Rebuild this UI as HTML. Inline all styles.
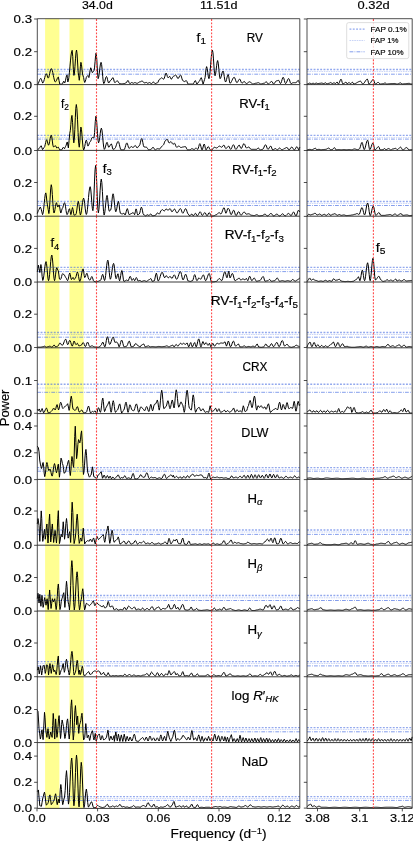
<!DOCTYPE html><html><head><meta charset="utf-8"><style>html,body{margin:0;padding:0;background:#fff;overflow:hidden;}svg{display:block;will-change:transform;}text{font-family:"Liberation Sans", sans-serif;fill:#000;stroke:#000;stroke-width:0.16px;}</style></head><body>
<svg width="413" height="841" viewBox="0 0 413 841">
<rect x="0" y="0" width="413" height="841" fill="#fff"/>
<rect x="45.1" y="18.7" width="14.30" height="789.70" fill="#ffff92"/>
<rect x="69.5" y="18.7" width="14.10" height="789.70" fill="#ffff92"/>
<line x1="37.3" x2="299.8" y1="69.50" y2="69.50" stroke="#4a6fe3" stroke-width="1.35" stroke-dasharray="1.9 1.4" opacity="0.6"/>
<line x1="37.3" x2="299.8" y1="71.60" y2="71.60" stroke="#4a6fe3" stroke-width="0.5" stroke-dasharray="1.6 0.8" opacity="0.6"/>
<line x1="37.3" x2="299.8" y1="74.20" y2="74.20" stroke="#4a6fe3" stroke-width="0.9" stroke-dasharray="3.8 1.2 0.8 1.2" opacity="0.75"/>
<line x1="307.0" x2="412.2" y1="69.50" y2="69.50" stroke="#4a6fe3" stroke-width="1.35" stroke-dasharray="1.9 1.4" opacity="0.6"/>
<line x1="307.0" x2="412.2" y1="71.60" y2="71.60" stroke="#4a6fe3" stroke-width="0.5" stroke-dasharray="1.6 0.8" opacity="0.6"/>
<line x1="307.0" x2="412.2" y1="74.20" y2="74.20" stroke="#4a6fe3" stroke-width="0.9" stroke-dasharray="3.8 1.2 0.8 1.2" opacity="0.75"/>
<line x1="37.3" x2="299.8" y1="135.30" y2="135.30" stroke="#4a6fe3" stroke-width="1.35" stroke-dasharray="1.9 1.4" opacity="0.6"/>
<line x1="37.3" x2="299.8" y1="137.30" y2="137.30" stroke="#4a6fe3" stroke-width="0.5" stroke-dasharray="1.6 0.8" opacity="0.6"/>
<line x1="37.3" x2="299.8" y1="139.10" y2="139.10" stroke="#4a6fe3" stroke-width="0.9" stroke-dasharray="3.8 1.2 0.8 1.2" opacity="0.75"/>
<line x1="307.0" x2="412.2" y1="135.30" y2="135.30" stroke="#4a6fe3" stroke-width="1.35" stroke-dasharray="1.9 1.4" opacity="0.6"/>
<line x1="307.0" x2="412.2" y1="137.30" y2="137.30" stroke="#4a6fe3" stroke-width="0.5" stroke-dasharray="1.6 0.8" opacity="0.6"/>
<line x1="307.0" x2="412.2" y1="139.10" y2="139.10" stroke="#4a6fe3" stroke-width="0.9" stroke-dasharray="3.8 1.2 0.8 1.2" opacity="0.75"/>
<line x1="37.3" x2="299.8" y1="201.50" y2="201.50" stroke="#4a6fe3" stroke-width="1.35" stroke-dasharray="1.9 1.4" opacity="0.6"/>
<line x1="37.3" x2="299.8" y1="203.40" y2="203.40" stroke="#4a6fe3" stroke-width="0.5" stroke-dasharray="1.6 0.8" opacity="0.6"/>
<line x1="37.3" x2="299.8" y1="205.50" y2="205.50" stroke="#4a6fe3" stroke-width="0.9" stroke-dasharray="3.8 1.2 0.8 1.2" opacity="0.75"/>
<line x1="307.0" x2="412.2" y1="201.50" y2="201.50" stroke="#4a6fe3" stroke-width="1.35" stroke-dasharray="1.9 1.4" opacity="0.6"/>
<line x1="307.0" x2="412.2" y1="203.40" y2="203.40" stroke="#4a6fe3" stroke-width="0.5" stroke-dasharray="1.6 0.8" opacity="0.6"/>
<line x1="307.0" x2="412.2" y1="205.50" y2="205.50" stroke="#4a6fe3" stroke-width="0.9" stroke-dasharray="3.8 1.2 0.8 1.2" opacity="0.75"/>
<line x1="37.3" x2="299.8" y1="267.30" y2="267.30" stroke="#4a6fe3" stroke-width="1.35" stroke-dasharray="1.9 1.4" opacity="0.6"/>
<line x1="37.3" x2="299.8" y1="269.40" y2="269.40" stroke="#4a6fe3" stroke-width="0.5" stroke-dasharray="1.6 0.8" opacity="0.6"/>
<line x1="37.3" x2="299.8" y1="271.60" y2="271.60" stroke="#4a6fe3" stroke-width="0.9" stroke-dasharray="3.8 1.2 0.8 1.2" opacity="0.75"/>
<line x1="307.0" x2="412.2" y1="267.30" y2="267.30" stroke="#4a6fe3" stroke-width="1.35" stroke-dasharray="1.9 1.4" opacity="0.6"/>
<line x1="307.0" x2="412.2" y1="269.40" y2="269.40" stroke="#4a6fe3" stroke-width="0.5" stroke-dasharray="1.6 0.8" opacity="0.6"/>
<line x1="307.0" x2="412.2" y1="271.60" y2="271.60" stroke="#4a6fe3" stroke-width="0.9" stroke-dasharray="3.8 1.2 0.8 1.2" opacity="0.75"/>
<line x1="37.3" x2="299.8" y1="332.50" y2="332.50" stroke="#4a6fe3" stroke-width="1.35" stroke-dasharray="1.9 1.4" opacity="0.6"/>
<line x1="37.3" x2="299.8" y1="334.50" y2="334.50" stroke="#4a6fe3" stroke-width="0.5" stroke-dasharray="1.6 0.8" opacity="0.6"/>
<line x1="37.3" x2="299.8" y1="337.20" y2="337.20" stroke="#4a6fe3" stroke-width="0.9" stroke-dasharray="3.8 1.2 0.8 1.2" opacity="0.75"/>
<line x1="307.0" x2="412.2" y1="332.50" y2="332.50" stroke="#4a6fe3" stroke-width="1.35" stroke-dasharray="1.9 1.4" opacity="0.6"/>
<line x1="307.0" x2="412.2" y1="334.50" y2="334.50" stroke="#4a6fe3" stroke-width="0.5" stroke-dasharray="1.6 0.8" opacity="0.6"/>
<line x1="307.0" x2="412.2" y1="337.20" y2="337.20" stroke="#4a6fe3" stroke-width="0.9" stroke-dasharray="3.8 1.2 0.8 1.2" opacity="0.75"/>
<line x1="37.3" x2="299.8" y1="384.20" y2="384.20" stroke="#4a6fe3" stroke-width="1.35" stroke-dasharray="1.9 1.4" opacity="0.6"/>
<line x1="37.3" x2="299.8" y1="388.00" y2="388.00" stroke="#4a6fe3" stroke-width="0.5" stroke-dasharray="1.6 0.8" opacity="0.6"/>
<line x1="37.3" x2="299.8" y1="392.30" y2="392.30" stroke="#4a6fe3" stroke-width="0.9" stroke-dasharray="3.8 1.2 0.8 1.2" opacity="0.75"/>
<line x1="307.0" x2="412.2" y1="384.20" y2="384.20" stroke="#4a6fe3" stroke-width="1.35" stroke-dasharray="1.9 1.4" opacity="0.6"/>
<line x1="307.0" x2="412.2" y1="388.00" y2="388.00" stroke="#4a6fe3" stroke-width="0.5" stroke-dasharray="1.6 0.8" opacity="0.6"/>
<line x1="307.0" x2="412.2" y1="392.30" y2="392.30" stroke="#4a6fe3" stroke-width="0.9" stroke-dasharray="3.8 1.2 0.8 1.2" opacity="0.75"/>
<line x1="37.3" x2="299.8" y1="467.60" y2="467.60" stroke="#4a6fe3" stroke-width="1.35" stroke-dasharray="1.9 1.4" opacity="0.6"/>
<line x1="37.3" x2="299.8" y1="469.40" y2="469.40" stroke="#4a6fe3" stroke-width="0.5" stroke-dasharray="1.6 0.8" opacity="0.6"/>
<line x1="37.3" x2="299.8" y1="471.20" y2="471.20" stroke="#4a6fe3" stroke-width="0.9" stroke-dasharray="3.8 1.2 0.8 1.2" opacity="0.75"/>
<line x1="307.0" x2="412.2" y1="467.60" y2="467.60" stroke="#4a6fe3" stroke-width="1.35" stroke-dasharray="1.9 1.4" opacity="0.6"/>
<line x1="307.0" x2="412.2" y1="469.40" y2="469.40" stroke="#4a6fe3" stroke-width="0.5" stroke-dasharray="1.6 0.8" opacity="0.6"/>
<line x1="307.0" x2="412.2" y1="471.20" y2="471.20" stroke="#4a6fe3" stroke-width="0.9" stroke-dasharray="3.8 1.2 0.8 1.2" opacity="0.75"/>
<line x1="37.3" x2="299.8" y1="530.00" y2="530.00" stroke="#4a6fe3" stroke-width="1.35" stroke-dasharray="1.9 1.4" opacity="0.6"/>
<line x1="37.3" x2="299.8" y1="532.00" y2="532.00" stroke="#4a6fe3" stroke-width="0.5" stroke-dasharray="1.6 0.8" opacity="0.6"/>
<line x1="37.3" x2="299.8" y1="534.40" y2="534.40" stroke="#4a6fe3" stroke-width="0.9" stroke-dasharray="3.8 1.2 0.8 1.2" opacity="0.75"/>
<line x1="307.0" x2="412.2" y1="530.00" y2="530.00" stroke="#4a6fe3" stroke-width="1.35" stroke-dasharray="1.9 1.4" opacity="0.6"/>
<line x1="307.0" x2="412.2" y1="532.00" y2="532.00" stroke="#4a6fe3" stroke-width="0.5" stroke-dasharray="1.6 0.8" opacity="0.6"/>
<line x1="307.0" x2="412.2" y1="534.40" y2="534.40" stroke="#4a6fe3" stroke-width="0.9" stroke-dasharray="3.8 1.2 0.8 1.2" opacity="0.75"/>
<line x1="37.3" x2="299.8" y1="595.50" y2="595.50" stroke="#4a6fe3" stroke-width="1.35" stroke-dasharray="1.9 1.4" opacity="0.6"/>
<line x1="37.3" x2="299.8" y1="597.80" y2="597.80" stroke="#4a6fe3" stroke-width="0.5" stroke-dasharray="1.6 0.8" opacity="0.6"/>
<line x1="37.3" x2="299.8" y1="600.50" y2="600.50" stroke="#4a6fe3" stroke-width="0.9" stroke-dasharray="3.8 1.2 0.8 1.2" opacity="0.75"/>
<line x1="307.0" x2="412.2" y1="595.50" y2="595.50" stroke="#4a6fe3" stroke-width="1.35" stroke-dasharray="1.9 1.4" opacity="0.6"/>
<line x1="307.0" x2="412.2" y1="597.80" y2="597.80" stroke="#4a6fe3" stroke-width="0.5" stroke-dasharray="1.6 0.8" opacity="0.6"/>
<line x1="307.0" x2="412.2" y1="600.50" y2="600.50" stroke="#4a6fe3" stroke-width="0.9" stroke-dasharray="3.8 1.2 0.8 1.2" opacity="0.75"/>
<line x1="37.3" x2="299.8" y1="661.60" y2="661.60" stroke="#4a6fe3" stroke-width="1.35" stroke-dasharray="1.9 1.4" opacity="0.6"/>
<line x1="37.3" x2="299.8" y1="663.60" y2="663.60" stroke="#4a6fe3" stroke-width="0.5" stroke-dasharray="1.6 0.8" opacity="0.6"/>
<line x1="37.3" x2="299.8" y1="665.90" y2="665.90" stroke="#4a6fe3" stroke-width="0.9" stroke-dasharray="3.8 1.2 0.8 1.2" opacity="0.75"/>
<line x1="307.0" x2="412.2" y1="661.60" y2="661.60" stroke="#4a6fe3" stroke-width="1.35" stroke-dasharray="1.9 1.4" opacity="0.6"/>
<line x1="307.0" x2="412.2" y1="663.60" y2="663.60" stroke="#4a6fe3" stroke-width="0.5" stroke-dasharray="1.6 0.8" opacity="0.6"/>
<line x1="307.0" x2="412.2" y1="665.90" y2="665.90" stroke="#4a6fe3" stroke-width="0.9" stroke-dasharray="3.8 1.2 0.8 1.2" opacity="0.75"/>
<line x1="37.3" x2="299.8" y1="727.60" y2="727.60" stroke="#4a6fe3" stroke-width="1.35" stroke-dasharray="1.9 1.4" opacity="0.6"/>
<line x1="37.3" x2="299.8" y1="729.40" y2="729.40" stroke="#4a6fe3" stroke-width="0.5" stroke-dasharray="1.6 0.8" opacity="0.6"/>
<line x1="37.3" x2="299.8" y1="731.80" y2="731.80" stroke="#4a6fe3" stroke-width="0.9" stroke-dasharray="3.8 1.2 0.8 1.2" opacity="0.75"/>
<line x1="307.0" x2="412.2" y1="727.60" y2="727.60" stroke="#4a6fe3" stroke-width="1.35" stroke-dasharray="1.9 1.4" opacity="0.6"/>
<line x1="307.0" x2="412.2" y1="729.40" y2="729.40" stroke="#4a6fe3" stroke-width="0.5" stroke-dasharray="1.6 0.8" opacity="0.6"/>
<line x1="307.0" x2="412.2" y1="731.80" y2="731.80" stroke="#4a6fe3" stroke-width="0.9" stroke-dasharray="3.8 1.2 0.8 1.2" opacity="0.75"/>
<line x1="37.3" x2="299.8" y1="796.60" y2="796.60" stroke="#4a6fe3" stroke-width="1.35" stroke-dasharray="1.9 1.4" opacity="0.6"/>
<line x1="37.3" x2="299.8" y1="798.60" y2="798.60" stroke="#4a6fe3" stroke-width="0.5" stroke-dasharray="1.6 0.8" opacity="0.6"/>
<line x1="37.3" x2="299.8" y1="800.40" y2="800.40" stroke="#4a6fe3" stroke-width="0.9" stroke-dasharray="3.8 1.2 0.8 1.2" opacity="0.75"/>
<line x1="307.0" x2="412.2" y1="796.60" y2="796.60" stroke="#4a6fe3" stroke-width="1.35" stroke-dasharray="1.9 1.4" opacity="0.6"/>
<line x1="307.0" x2="412.2" y1="798.60" y2="798.60" stroke="#4a6fe3" stroke-width="0.5" stroke-dasharray="1.6 0.8" opacity="0.6"/>
<line x1="307.0" x2="412.2" y1="800.40" y2="800.40" stroke="#4a6fe3" stroke-width="0.9" stroke-dasharray="3.8 1.2 0.8 1.2" opacity="0.75"/>
<path d="M37.30,84.45 L37.81,84.15 L38.33,83.31 L38.84,82.08 L39.36,80.72 L39.87,79.50 L40.39,78.65 L40.90,78.35 L41.52,79.52 L42.14,81.87 L42.76,83.04 L43.27,82.58 L43.78,81.29 L44.30,79.44 L44.81,77.38 L45.32,75.52 L45.84,74.23 L46.35,73.78 L46.97,74.87 L47.59,77.05 L48.20,78.13 L48.71,77.49 L49.22,75.74 L49.73,73.34 L50.24,70.94 L50.75,69.19 L51.25,68.55 L51.77,69.06 L52.29,70.51 L52.81,72.68 L53.32,75.25 L53.84,77.81 L54.36,79.99 L54.88,81.44 L55.39,81.95 L55.98,81.48 L56.57,80.25 L57.16,78.74 L57.75,77.51 L58.34,77.05 L59.04,80.59 L59.75,84.13 L60.35,84.13 L60.95,84.13 L61.55,84.13 L62.15,84.13 L62.69,83.39 L63.24,81.92 L63.78,81.19 L64.17,82.11 L64.55,83.04 L65.05,82.26 L65.55,80.21 L66.05,77.69 L66.55,75.65 L67.05,74.87 L67.43,78.41 L67.82,81.95 L68.36,80.75 L68.90,77.32 L69.45,72.20 L69.99,66.15 L70.54,60.10 L71.08,54.98 L71.63,51.55 L72.17,50.35 L72.75,56.62 L73.34,69.15 L73.92,75.41 L74.44,72.99 L74.96,66.64 L75.49,58.79 L76.01,52.45 L76.53,50.02 L77.08,53.82 L77.62,62.99 L78.17,72.16 L78.71,75.96 L78.99,78.13 L79.27,80.31 L79.81,75.82 L80.36,66.83 L80.90,62.34 L81.45,64.33 L81.99,69.15 L82.54,73.96 L83.08,75.96 L83.63,77.59 L84.17,80.86 L84.72,82.49 L85.26,81.62 L85.81,79.50 L86.35,77.38 L86.90,76.50 L87.44,75.96 L87.99,75.41 L88.42,76.50 L88.86,77.59 L89.47,75.14 L90.09,70.24 L90.71,67.78 L91.25,69.01 L91.80,71.46 L92.34,72.69 L92.89,72.14 L93.43,71.05 L93.98,70.51 L94.52,67.92 L95.07,61.68 L95.61,55.44 L96.16,52.86 L96.81,59.31 L97.46,72.22 L98.12,78.68 L98.71,77.12 L99.29,73.03 L99.88,67.98 L100.47,63.90 L101.06,62.34 L101.60,64.36 L102.15,69.68 L102.69,76.24 L103.24,81.55 L103.78,83.58 L104.33,82.91 L104.87,81.14 L105.42,78.95 L105.96,77.18 L106.51,76.50 L107.05,77.46 L107.60,79.77 L108.14,82.08 L108.69,83.04 L109.34,82.36 L109.99,80.99 L110.65,80.31 L111.25,79.91 L111.85,78.95 L112.45,77.99 L113.05,77.59 L113.59,78.82 L114.13,81.27 L114.68,82.49 L115.22,82.34 L115.77,81.93 L116.31,81.42 L116.86,81.01 L117.40,80.86 L117.95,81.26 L118.49,82.22 L119.04,83.18 L119.58,83.58 L120.14,83.63 L120.70,83.74 L121.25,83.85 L121.81,83.89 L122.36,83.85 L122.90,83.75 L123.45,83.65 L123.99,83.60 L124.54,83.50 L125.08,83.24 L125.63,82.98 L126.17,82.88 L126.75,82.26 L127.33,81.03 L127.91,80.41 L128.54,81.21 L129.17,82.81 L129.80,83.60 L130.35,83.43 L130.89,83.02 L131.44,82.61 L131.98,82.44 L132.56,82.88 L133.14,83.31 L133.72,83.13 L134.31,82.77 L134.89,82.59 L135.43,82.69 L135.98,82.95 L136.52,83.21 L137.07,83.31 L137.65,83.17 L138.23,82.81 L138.81,82.36 L139.39,82.00 L139.97,81.86 L140.52,81.73 L141.06,81.42 L141.61,81.12 L142.15,80.99 L142.70,81.27 L143.24,81.93 L143.79,82.60 L144.33,82.88 L144.88,82.81 L145.42,82.66 L145.97,82.51 L146.51,82.44 L147.09,82.88 L147.67,83.31 L148.25,83.13 L148.83,82.77 L149.42,82.59 L149.96,82.74 L150.51,83.10 L151.05,83.46 L151.59,83.60 L152.22,83.17 L152.85,82.30 L153.48,81.86 L154.21,82.73 L154.94,83.60 L155.55,83.50 L156.17,83.24 L156.79,82.98 L157.41,82.88 L157.95,82.35 L158.50,81.06 L159.04,79.78 L159.59,79.25 L160.13,79.03 L160.68,78.52 L161.22,78.01 L161.76,77.79 L162.39,78.16 L163.02,78.88 L163.65,79.25 L164.27,78.35 L164.89,76.19 L165.51,74.04 L166.12,73.14 L166.75,74.31 L167.38,76.63 L168.01,77.79 L168.59,77.43 L169.17,76.70 L169.76,76.34 L170.48,77.79 L171.21,79.25 L171.75,78.82 L172.30,77.79 L172.84,76.77 L173.39,76.34 L173.99,76.15 L174.60,75.70 L175.21,75.24 L175.81,75.06 L176.36,75.59 L176.90,76.87 L177.45,78.16 L177.99,78.69 L178.61,78.16 L179.23,76.87 L179.84,75.59 L180.46,75.06 L180.98,75.61 L181.51,77.06 L182.03,78.86 L182.55,80.31 L183.08,80.87 L183.80,81.23 L184.53,81.59 L185.11,81.34 L185.69,80.83 L186.27,80.58 L186.90,81.45 L187.53,83.19 L188.16,84.06 L188.71,84.06 L189.25,84.06 L189.80,84.06 L190.34,84.06 L190.86,84.06 L191.39,84.06 L191.91,84.06 L192.43,84.06 L192.96,84.06 L193.57,83.55 L194.19,82.32 L194.81,81.09 L195.42,80.58 L196.15,82.32 L196.88,84.06 L197.42,83.70 L197.97,82.83 L198.51,81.96 L199.06,81.59 L199.60,81.02 L200.15,79.63 L200.69,78.25 L201.24,77.67 L201.87,79.27 L202.50,82.47 L203.13,84.06 L203.85,81.74 L204.58,79.42 L205.09,77.54 L205.59,73.02 L206.10,68.50 L206.61,66.63 L207.19,68.40 L207.77,72.66 L208.36,76.92 L208.94,78.69 L209.52,76.77 L210.10,71.53 L210.68,64.38 L211.26,57.22 L211.84,51.99 L212.42,50.07 L212.95,52.52 L213.47,58.95 L213.99,66.90 L214.52,73.33 L215.04,75.78 L215.56,74.33 L216.08,70.51 L216.61,65.80 L217.13,61.99 L217.65,60.53 L218.27,63.19 L218.89,69.61 L219.51,76.03 L220.12,78.69 L220.70,77.95 L221.29,76.03 L221.87,73.65 L222.45,71.72 L223.03,70.99 L223.65,72.61 L224.26,76.51 L224.88,80.41 L225.50,82.03 L226.04,81.31 L226.57,79.44 L227.11,77.12 L227.64,75.24 L228.18,74.53 L228.78,76.71 L229.39,81.06 L229.99,83.24 L230.52,83.02 L231.04,82.37 L231.56,81.39 L232.08,80.25 L232.61,79.10 L233.13,78.13 L233.65,77.48 L234.17,77.25 L234.72,77.77 L235.26,79.13 L235.81,80.82 L236.35,82.18 L236.90,82.70 L237.44,82.35 L237.98,81.44 L238.53,80.32 L239.07,79.41 L239.62,79.07 L240.21,79.68 L240.80,81.15 L241.39,82.63 L241.98,83.24 L242.52,82.98 L243.07,82.34 L243.61,81.69 L244.16,81.43 L244.70,81.75 L245.25,82.52 L245.79,83.29 L246.34,83.61 L246.88,83.48 L247.43,83.15 L247.97,82.70 L248.52,82.24 L249.06,81.91 L249.61,81.79 L250.15,81.94 L250.70,82.34 L251.24,82.88 L251.79,83.42 L252.33,83.82 L252.87,83.97 L253.39,83.92 L253.90,83.79 L254.42,83.61 L254.93,83.42 L255.45,83.29 L255.96,83.24 L256.55,83.16 L257.14,82.97 L257.73,82.78 L258.32,82.70 L258.83,82.82 L259.34,83.14 L259.85,83.53 L260.36,83.85 L260.86,83.97 L261.41,83.92 L261.95,83.79 L262.50,83.61 L263.04,83.42 L263.59,83.29 L264.13,83.24 L264.68,83.03 L265.22,82.52 L265.77,82.00 L266.31,81.79 L266.92,82.34 L267.52,83.42 L268.13,83.97 L268.65,83.84 L269.17,83.49 L269.68,82.98 L270.20,82.42 L270.72,81.91 L271.24,81.55 L271.76,81.43 L272.37,82.06 L272.97,83.33 L273.58,83.97 L274.16,83.67 L274.74,82.90 L275.32,81.95 L275.90,81.18 L276.48,80.88 L277.03,80.80 L277.57,80.61 L278.12,80.42 L278.66,80.34 L279.27,81.15 L279.87,82.79 L280.48,83.61 L281.02,83.00 L281.57,81.41 L282.11,79.45 L282.66,77.86 L283.20,77.25 L283.79,78.18 L284.38,80.43 L284.97,82.68 L285.56,83.61 L286.08,83.27 L286.59,82.34 L287.10,81.06 L287.62,79.79 L288.13,78.86 L288.65,78.52 L289.24,79.27 L289.83,81.06 L290.42,82.86 L291.01,83.61 L291.55,83.47 L292.10,83.15 L292.64,82.83 L293.19,82.70 L293.73,82.70 L294.28,82.70 L294.82,82.70 L295.37,82.70 L295.91,82.70 L296.50,82.35 L297.09,81.52 L297.68,80.68 L298.27,80.34 L298.78,81.15 L299.29,82.79 L299.80,83.61" fill="none" stroke="#000" stroke-width="1.0" stroke-linejoin="round"/>
<path d="M307.00,84.12 L307.15,84.05 L307.31,83.99 L307.83,83.90 L308.35,83.67 L308.88,83.39 L309.40,83.16 L309.92,83.07 L310.58,83.46 L311.23,83.86 L311.88,83.69 L312.54,83.37 L313.19,83.20 L313.84,83.53 L314.50,83.86 L315.06,83.66 L315.63,83.27 L316.20,83.07 L316.72,83.20 L317.24,83.46 L317.76,83.59 L318.42,83.53 L319.07,83.40 L319.73,83.33 L320.38,83.27 L321.03,83.14 L321.69,83.07 L322.34,83.20 L322.99,83.46 L323.65,83.59 L324.30,83.40 L324.95,83.01 L325.61,82.81 L326.26,83.33 L326.92,83.86 L327.57,83.73 L328.22,83.46 L328.88,83.33 L329.53,83.14 L330.18,82.75 L330.84,82.55 L331.49,83.07 L332.14,83.59 L332.80,83.40 L333.45,83.01 L334.10,82.81 L334.76,83.20 L335.41,83.59 L335.98,83.20 L336.54,82.42 L337.11,82.03 L337.76,83.07 L338.42,84.12 L338.94,83.64 L339.46,82.40 L339.99,80.87 L340.51,79.62 L341.03,79.15 L341.64,80.33 L342.25,82.68 L342.86,83.86 L343.43,83.66 L344.00,83.27 L344.56,83.07 L345.22,82.55 L345.87,82.03 L346.52,82.94 L347.18,83.86 L347.83,83.50 L348.48,82.78 L349.14,82.42 L349.79,83.14 L350.44,83.86 L351.10,83.43 L351.75,82.58 L352.41,82.16 L353.06,83.01 L353.71,83.86 L354.24,83.82 L354.77,83.71 L355.31,83.53 L355.84,83.29 L356.37,83.01 L356.90,82.70 L357.43,82.39 L357.96,82.08 L358.49,81.80 L359.02,81.57 L359.56,81.39 L360.09,81.27 L360.62,81.24 L361.14,81.65 L361.67,82.64 L362.20,83.63 L362.72,84.04 L363.24,83.90 L363.75,83.47 L364.27,82.82 L364.78,82.01 L365.30,81.16 L365.81,80.36 L366.33,79.70 L366.84,79.28 L367.36,79.13 L367.92,80.36 L368.48,82.82 L369.04,84.04 L369.57,83.87 L370.10,83.39 L370.62,82.66 L371.15,81.80 L371.68,80.94 L372.21,80.21 L372.73,79.72 L373.26,79.55 L373.79,80.21 L374.31,81.80 L374.84,83.39 L375.37,84.04 L375.93,83.88 L376.49,83.46 L377.05,82.94 L377.61,82.52 L378.17,82.36 L378.70,82.61 L379.23,83.20 L379.75,83.80 L380.28,84.04 L380.84,84.02 L381.40,83.95 L381.97,83.86 L382.53,83.79 L383.09,83.76 L383.62,83.64 L384.14,83.34 L384.67,83.04 L385.20,82.92 L385.90,83.48 L386.60,84.04 L387.16,84.02 L387.72,83.95 L388.29,83.86 L388.85,83.79 L389.41,83.76 L389.94,83.74 L390.46,83.69 L390.99,83.64 L391.52,83.62 L392.08,83.61 L392.64,83.58 L393.20,83.53 L393.76,83.50 L394.33,83.48 L394.89,83.54 L395.45,83.68 L396.01,83.85 L396.57,83.99 L397.13,84.04 L397.64,83.99 L398.14,83.83 L398.64,83.61 L399.14,83.36 L399.64,83.13 L400.14,82.98 L400.65,82.92 L401.35,83.48 L402.05,84.04 L402.61,84.02 L403.17,83.95 L403.74,83.86 L404.30,83.79 L404.86,83.76 L405.39,83.75 L405.91,83.70 L406.44,83.63 L406.97,83.55 L407.49,83.47 L408.02,83.40 L408.55,83.36 L409.07,83.34 L409.60,83.45 L410.13,83.69 L410.65,83.94 L411.18,84.04 L411.69,83.97 L412.20,83.90" fill="none" stroke="#000" stroke-width="1.0" stroke-linejoin="round"/>
<path d="M37.30,150.13 L38.01,149.42 L38.72,148.71 L39.23,148.43 L39.73,147.69 L40.23,146.79 L40.73,146.05 L41.23,145.77 L41.88,147.68 L42.54,149.58 L43.08,149.04 L43.63,147.95 L44.17,147.40 L44.67,146.68 L45.17,144.77 L45.68,142.41 L46.18,140.50 L46.68,139.78 L47.30,141.14 L47.91,143.86 L48.53,145.22 L49.07,144.27 L49.62,141.76 L50.16,138.66 L50.71,136.16 L51.25,135.20 L51.80,136.91 L52.34,141.03 L52.89,145.15 L53.43,146.86 L53.98,146.70 L54.52,146.31 L55.07,145.93 L55.61,145.77 L56.16,146.86 L56.70,147.95 L57.25,147.76 L57.79,147.38 L58.34,147.19 L59.04,148.49 L59.75,149.80 L60.37,149.80 L60.99,149.80 L61.60,149.80 L62.22,149.15 L62.84,147.84 L63.46,147.19 L64.00,147.95 L64.55,148.71 L65.09,147.51 L65.64,146.31 L66.18,145.22 L66.73,143.05 L67.27,141.96 L67.82,144.95 L68.36,147.95 L69.07,140.59 L69.78,133.24 L70.32,130.63 L70.87,124.32 L71.42,118.01 L71.96,115.39 L72.58,122.26 L73.20,135.99 L73.81,142.85 L74.31,139.19 L74.82,129.60 L75.32,117.75 L75.82,108.16 L76.32,104.50 L76.91,108.58 L77.50,119.25 L78.08,132.45 L78.67,143.13 L79.26,147.21 L79.81,142.17 L80.35,132.09 L80.90,127.05 L81.44,129.24 L81.99,134.96 L82.53,142.03 L83.07,147.75 L83.62,149.93 L84.16,149.00 L84.71,146.55 L85.25,143.52 L85.80,141.06 L86.34,140.13 L86.89,141.63 L87.43,144.62 L87.98,146.12 L88.52,145.48 L89.07,143.94 L89.61,142.40 L90.16,141.76 L90.70,141.12 L91.25,139.58 L91.79,138.04 L92.34,137.40 L92.88,137.54 L93.43,137.81 L93.97,137.95 L94.62,132.50 L95.28,121.60 L95.93,116.16 L96.45,118.71 L96.98,125.38 L97.50,133.63 L98.02,140.30 L98.55,142.85 L99.11,141.45 L99.68,137.77 L100.25,133.22 L100.81,129.55 L101.38,128.14 L101.97,130.17 L102.56,135.48 L103.14,142.05 L103.73,147.36 L104.32,149.39 L104.87,148.71 L105.41,146.94 L105.96,144.75 L106.50,142.98 L107.05,142.31 L107.59,143.53 L108.13,145.98 L108.68,147.21 L109.22,146.90 L109.77,146.08 L110.31,145.07 L110.86,144.25 L111.40,143.94 L111.95,145.30 L112.49,148.03 L113.04,149.39 L113.54,149.22 L114.04,148.87 L114.54,148.70 L115.06,148.34 L115.58,147.33 L116.09,145.87 L116.61,144.26 L117.13,142.80 L117.65,141.79 L118.17,141.43 L118.75,142.24 L119.33,144.35 L119.91,146.95 L120.49,149.06 L121.08,149.86 L121.66,149.86 L122.24,149.86 L122.82,149.86 L123.40,149.86 L123.98,149.86 L124.56,149.19 L125.14,147.45 L125.72,145.30 L126.31,143.55 L126.89,142.89 L127.43,143.70 L127.98,145.65 L128.52,147.60 L129.07,148.41 L129.61,148.13 L130.16,147.46 L130.70,146.80 L131.25,146.52 L131.83,146.77 L132.41,147.28 L132.99,147.54 L133.57,147.24 L134.15,146.52 L134.73,145.80 L135.31,145.50 L135.89,146.12 L136.48,147.35 L137.06,147.97 L137.60,147.65 L138.15,146.88 L138.69,146.11 L139.24,145.79 L139.85,144.73 L140.47,142.16 L141.09,139.59 L141.71,138.53 L142.29,139.76 L142.87,142.74 L143.45,145.72 L144.03,146.96 L144.65,147.00 L145.27,147.10 L145.88,147.20 L146.50,147.25 L147.05,147.63 L147.59,148.55 L148.14,149.48 L148.68,149.86 L149.22,149.80 L149.77,149.64 L150.31,149.49 L150.86,149.42 L151.40,149.11 L151.95,148.34 L152.49,147.56 L153.04,147.25 L153.58,147.63 L154.13,148.55 L154.67,149.48 L155.22,149.86 L155.76,149.69 L156.31,149.28 L156.85,148.87 L157.40,148.70 L157.94,148.74 L158.49,148.84 L159.03,148.95 L159.58,148.99 L160.12,148.63 L160.67,147.75 L161.21,146.88 L161.76,146.52 L162.48,145.79 L163.21,145.07 L163.75,144.43 L164.30,142.89 L164.84,141.35 L165.39,140.71 L165.98,140.34 L166.58,139.62 L167.18,139.25 L167.81,140.16 L168.44,141.98 L169.07,142.89 L169.58,142.72 L170.08,142.31 L170.59,141.90 L171.10,141.72 L171.73,142.38 L172.36,143.69 L172.99,144.34 L173.72,143.76 L174.44,143.18 L174.99,143.77 L175.53,145.21 L176.08,146.65 L176.62,147.25 L177.17,147.08 L177.71,146.66 L178.26,146.25 L178.80,146.08 L179.35,146.30 L179.89,146.81 L180.44,147.32 L180.98,147.54 L181.53,147.45 L182.07,147.25 L182.62,147.04 L183.16,146.96 L183.71,146.89 L184.25,146.74 L184.80,146.58 L185.34,146.52 L185.88,147.01 L186.43,148.19 L186.97,149.37 L187.52,149.86 L188.06,149.86 L188.61,149.86 L189.15,149.86 L189.70,149.86 L190.24,149.69 L190.79,149.28 L191.33,148.87 L191.88,148.70 L192.42,148.80 L192.97,149.06 L193.51,149.32 L194.06,149.42 L194.60,149.21 L195.15,148.70 L195.69,148.18 L196.24,147.97 L196.96,148.70 L197.69,149.42 L198.23,148.57 L198.78,146.52 L199.32,144.46 L199.87,143.61 L200.41,144.53 L200.96,146.74 L201.50,148.95 L202.05,149.86 L202.59,149.01 L203.14,146.96 L203.68,144.90 L204.23,144.05 L204.81,145.50 L205.39,148.41 L205.97,149.86 L206.55,149.37 L207.13,148.19 L207.71,147.01 L208.30,146.52 L208.80,147.01 L209.31,148.19 L209.82,149.37 L210.33,149.86 L210.91,150.01 L211.49,150.15 L212.07,149.87 L212.65,149.15 L213.23,148.25 L213.82,147.52 L214.40,147.25 L214.94,147.35 L215.49,147.61 L216.03,147.87 L216.58,147.97 L217.16,147.79 L217.74,147.32 L218.32,146.74 L218.90,146.26 L219.48,146.08 L220.03,146.25 L220.57,146.66 L221.12,147.08 L221.66,147.25 L222.21,146.93 L222.75,146.16 L223.30,145.39 L223.84,145.07 L224.50,145.94 L225.16,147.69 L225.83,148.57 L226.40,148.33 L226.97,147.71 L227.55,146.94 L228.12,146.32 L228.69,146.08 L229.33,146.90 L229.97,148.52 L230.61,149.34 L231.18,148.90 L231.76,147.75 L232.33,146.33 L232.90,145.18 L233.48,144.75 L234.05,145.42 L234.62,147.04 L235.20,148.66 L235.77,149.34 L236.35,149.05 L236.92,148.28 L237.49,147.23 L238.07,146.18 L238.64,145.41 L239.21,145.13 L239.85,145.99 L240.49,147.71 L241.13,148.57 L241.70,148.10 L242.28,146.85 L242.85,145.32 L243.42,144.07 L244.00,143.60 L244.62,144.24 L245.24,145.80 L245.86,147.35 L246.48,148.00 L247.06,147.86 L247.63,147.52 L248.21,147.18 L248.78,147.04 L249.35,147.38 L249.93,148.19 L250.50,149.00 L251.07,149.34 L251.70,149.34 L252.32,149.34 L252.94,149.34 L253.56,149.34 L254.13,149.34 L254.71,149.34 L255.28,149.34 L255.86,149.34 L256.43,149.34 L257.07,149.00 L257.71,148.33 L258.34,148.00 L258.98,148.48 L259.62,149.43 L260.26,149.91 L260.83,149.83 L261.40,149.62 L261.98,149.42 L262.55,149.34 L263.06,149.03 L263.57,148.19 L264.08,147.04 L264.59,145.89 L265.10,145.05 L265.61,144.75 L266.19,145.42 L266.76,147.04 L267.33,148.66 L267.91,149.34 L268.48,149.03 L269.05,148.21 L269.63,147.21 L270.20,146.39 L270.78,146.08 L271.41,147.04 L272.05,148.95 L272.69,149.91 L273.26,149.78 L273.84,149.45 L274.41,149.03 L274.98,148.70 L275.56,148.57 L276.20,148.91 L276.83,149.57 L277.47,149.91 L278.11,149.43 L278.75,148.48 L279.38,148.00 L279.96,148.18 L280.53,148.66 L281.10,149.25 L281.68,149.73 L282.25,149.91 L282.89,149.57 L283.53,148.91 L284.17,148.57 L284.74,148.46 L285.31,148.17 L285.89,147.82 L286.46,147.53 L287.03,147.42 L287.67,148.04 L288.31,149.29 L288.95,149.91 L289.52,149.64 L290.09,148.92 L290.67,148.03 L291.24,147.31 L291.82,147.04 L292.44,147.46 L293.06,148.48 L293.68,149.49 L294.30,149.91 L294.84,149.60 L295.37,148.79 L295.91,147.78 L296.45,146.97 L296.98,146.66 L297.62,147.47 L298.26,149.10 L298.89,149.91 L299.35,148.48 L299.80,147.04" fill="none" stroke="#000" stroke-width="1.0" stroke-linejoin="round"/>
<path d="M307.00,150.26 L307.48,149.93 L307.96,149.61 L308.61,149.54 L309.27,149.41 L309.92,149.35 L310.58,149.48 L311.23,149.74 L311.88,149.87 L312.54,149.64 L313.19,149.18 L313.84,148.95 L314.50,148.50 L315.15,148.04 L315.67,148.43 L316.20,149.22 L316.72,149.61 L317.31,149.57 L317.90,149.48 L318.48,149.38 L319.07,149.35 L319.73,149.48 L320.38,149.74 L321.03,149.87 L321.69,149.80 L322.34,149.67 L322.99,149.61 L323.52,149.58 L324.04,149.52 L324.56,149.44 L325.08,149.37 L325.61,149.35 L326.15,149.26 L326.70,149.02 L327.24,148.69 L327.79,148.37 L328.33,148.13 L328.88,148.04 L329.44,148.50 L330.01,149.41 L330.58,149.87 L331.10,149.80 L331.62,149.67 L332.14,149.61 L332.73,149.32 L333.32,148.63 L333.91,147.93 L334.50,147.65 L335.02,148.20 L335.54,149.31 L336.07,149.87 L336.59,149.84 L337.11,149.78 L337.63,149.70 L338.16,149.63 L338.68,149.61 L339.20,149.63 L339.73,149.70 L340.25,149.78 L340.77,149.84 L341.29,149.87 L341.82,149.84 L342.34,149.78 L342.86,149.70 L343.39,149.63 L343.91,149.61 L344.43,149.63 L344.95,149.70 L345.48,149.78 L346.00,149.84 L346.52,149.87 L347.05,149.84 L347.57,149.78 L348.09,149.70 L348.61,149.63 L349.14,149.61 L349.66,149.63 L350.18,149.70 L350.71,149.78 L351.23,149.84 L351.75,149.87 L352.27,149.78 L352.80,149.55 L353.32,149.27 L353.84,149.04 L354.37,148.95 L354.94,149.00 L355.51,149.13 L356.09,149.31 L356.66,149.49 L357.24,149.62 L357.81,149.66 L358.51,149.38 L359.21,149.10 L359.78,148.46 L360.34,146.77 L360.90,144.69 L361.46,143.00 L362.02,142.36 L362.55,143.43 L363.08,146.01 L363.60,148.59 L364.13,149.66 L364.63,149.19 L365.13,147.86 L365.63,145.95 L366.14,143.83 L366.64,141.91 L367.14,140.59 L367.64,140.11 L368.17,141.51 L368.69,144.89 L369.22,148.26 L369.75,149.66 L370.29,149.21 L370.82,147.98 L371.36,146.29 L371.90,144.61 L372.44,143.37 L372.98,142.92 L373.63,144.68 L374.29,148.19 L374.94,149.94 L375.47,149.78 L375.99,149.31 L376.51,148.63 L377.03,147.88 L377.55,147.21 L378.07,146.74 L378.60,146.57 L379.16,147.42 L379.72,149.10 L380.28,149.94 L380.84,149.92 L381.40,149.85 L381.97,149.76 L382.53,149.69 L383.09,149.66 L383.79,149.10 L384.49,148.54 L385.20,149.10 L385.90,149.66 L386.46,149.56 L387.02,149.27 L387.58,148.93 L388.15,148.65 L388.71,148.54 L389.23,148.75 L389.76,149.24 L390.29,149.74 L390.81,149.94 L391.34,149.80 L391.87,149.45 L392.39,149.10 L392.92,148.96 L393.48,148.89 L394.04,148.72 L394.61,148.50 L395.17,148.33 L395.73,148.26 L396.43,148.96 L397.13,149.66 L397.64,149.54 L398.14,149.19 L398.64,148.68 L399.14,148.12 L399.64,147.61 L400.14,147.26 L400.65,147.13 L401.17,147.55 L401.70,148.54 L402.23,149.53 L402.75,149.94 L403.31,149.83 L403.88,149.49 L404.44,149.02 L405.00,148.48 L405.56,148.01 L406.12,147.67 L406.69,147.56 L407.28,147.91 L407.88,148.75 L408.48,149.59 L409.07,149.94 L409.63,149.92 L410.20,149.85 L410.76,149.76 L411.32,149.69 L411.88,149.66 L412.04,149.66 L412.20,149.66" fill="none" stroke="#000" stroke-width="1.0" stroke-linejoin="round"/>
<path d="M37.30,213.58 L37.85,211.95 L38.40,210.31 L39.05,209.50 L39.70,207.86 L40.36,207.05 L40.79,208.13 L41.23,209.22 L41.88,211.95 L42.54,214.67 L43.08,213.21 L43.63,209.22 L44.17,203.78 L44.72,198.33 L45.26,194.34 L45.81,192.88 L46.35,195.88 L46.90,201.87 L47.44,204.87 L48.15,209.22 L48.86,213.58 L49.46,209.35 L50.06,199.15 L50.65,188.94 L51.25,184.71 L51.80,187.41 L52.34,194.50 L52.89,203.25 L53.43,210.33 L53.98,213.04 L54.48,212.05 L54.98,209.46 L55.48,206.26 L55.98,203.68 L56.48,202.69 L57.14,204.87 L57.79,207.05 L58.44,205.96 L59.10,204.87 L59.68,206.91 L60.26,210.99 L60.84,213.04 L61.50,210.86 L62.15,208.68 L62.75,207.80 L63.35,205.68 L63.95,203.56 L64.55,202.69 L65.05,203.83 L65.55,206.83 L66.05,210.53 L66.55,213.53 L67.05,214.67 L67.55,214.10 L68.05,212.60 L68.56,210.75 L69.06,209.25 L69.56,208.68 L70.21,211.68 L70.87,214.67 L71.41,212.90 L71.96,209.36 L72.50,207.59 L73.05,209.50 L73.59,213.31 L74.13,215.22 L74.68,215.08 L75.22,214.81 L75.77,214.67 L76.29,213.40 L76.82,210.09 L77.35,205.99 L77.87,202.67 L78.40,201.40 L79.05,204.81 L79.70,211.62 L80.36,215.02 L80.90,213.89 L81.45,210.80 L81.99,206.58 L82.54,202.36 L83.08,199.27 L83.63,198.13 L84.17,199.70 L84.72,203.78 L85.26,208.83 L85.81,212.92 L86.35,214.48 L86.90,213.10 L87.44,209.25 L87.99,203.68 L88.53,197.49 L89.07,191.92 L89.62,188.07 L90.16,186.69 L90.71,188.98 L91.25,194.98 L91.80,202.38 L92.34,208.38 L92.89,210.66 L93.43,206.35 L93.98,195.04 L94.52,181.07 L95.07,169.77 L95.61,165.45 L96.16,169.97 L96.70,181.82 L97.25,196.47 L97.79,208.32 L98.34,212.84 L98.92,209.62 L99.51,201.17 L100.10,190.74 L100.69,182.29 L101.28,179.07 L101.84,182.50 L102.41,191.49 L102.98,202.60 L103.54,211.59 L104.11,215.02 L104.70,213.15 L105.29,208.25 L105.88,202.19 L106.46,197.28 L107.05,195.41 L107.60,197.72 L108.14,203.31 L108.69,208.90 L109.23,211.21 L109.94,210.66 L110.65,210.12 L111.25,207.73 L111.85,201.95 L112.45,196.17 L113.05,193.78 L113.59,195.49 L114.13,199.99 L114.68,205.54 L115.22,210.04 L115.77,211.75 L116.31,210.77 L116.86,208.18 L117.40,204.98 L117.95,202.39 L118.49,201.40 L119.11,204.36 L119.74,210.29 L120.36,213.25 L120.94,213.43 L121.52,213.79 L122.10,213.97 L122.73,213.79 L123.36,213.43 L123.99,213.25 L124.50,214.12 L125.01,214.99 L125.59,214.05 L126.17,211.79 L126.75,209.53 L127.33,208.60 L127.91,210.12 L128.49,213.17 L129.08,214.70 L129.80,214.34 L130.53,213.97 L131.25,213.61 L131.98,213.25 L132.56,212.88 L133.14,212.52 L133.87,213.61 L134.60,214.70 L135.32,211.79 L136.05,208.89 L136.63,210.41 L137.21,213.46 L137.79,214.99 L138.52,214.48 L139.25,213.97 L139.79,212.97 L140.34,210.56 L140.88,208.14 L141.42,207.14 L141.97,208.25 L142.51,210.92 L143.06,213.59 L143.60,214.70 L144.15,214.87 L144.69,215.28 L145.24,215.69 L145.78,215.86 L146.51,215.28 L147.24,214.70 L147.96,215.06 L148.69,215.42 L149.23,215.21 L149.78,214.70 L150.32,214.18 L150.87,213.97 L151.59,214.92 L152.32,215.86 L152.90,215.82 L153.48,215.71 L154.06,215.58 L154.65,215.47 L155.23,215.42 L155.77,215.06 L156.32,214.19 L156.86,213.32 L157.41,212.96 L158.04,213.21 L158.67,213.72 L159.30,213.97 L159.80,213.44 L160.31,212.16 L160.82,210.87 L161.33,210.34 L161.91,209.98 L162.49,209.61 L163.07,209.98 L163.65,210.70 L164.23,211.07 L164.86,210.52 L165.49,209.43 L166.12,208.89 L166.75,209.25 L167.38,209.98 L168.01,210.34 L168.52,210.08 L169.03,209.47 L169.54,208.85 L170.05,208.60 L170.68,209.40 L171.31,210.99 L171.93,211.79 L172.48,211.47 L173.02,210.70 L173.57,209.93 L174.11,209.61 L174.24,209.25 L174.36,208.89 L174.88,209.28 L175.40,210.29 L175.93,211.55 L176.45,212.57 L176.97,212.96 L177.55,212.66 L178.14,211.87 L178.72,210.78 L179.30,209.69 L179.88,208.89 L180.46,208.60 L181.04,209.28 L181.62,210.92 L182.20,212.56 L182.79,213.25 L183.37,212.80 L183.95,211.64 L184.53,210.20 L185.11,209.04 L185.69,208.60 L186.31,209.38 L186.93,211.28 L187.54,213.18 L188.16,213.97 L188.89,214.92 L189.61,215.86 L190.16,215.58 L190.70,214.92 L191.25,214.25 L191.79,213.97 L192.52,214.92 L193.25,215.86 L193.79,215.48 L194.34,214.55 L194.88,213.63 L195.42,213.25 L196.05,213.90 L196.68,215.21 L197.31,215.86 L197.89,215.47 L198.48,214.46 L199.06,213.20 L199.64,212.18 L200.22,211.79 L200.73,212.32 L201.24,213.61 L201.74,214.89 L202.25,215.42 L202.78,215.15 L203.30,214.42 L203.82,213.52 L204.35,212.80 L204.87,212.52 L205.41,213.01 L205.96,214.19 L206.50,215.37 L207.05,215.86 L207.59,215.37 L208.14,214.19 L208.68,213.01 L209.23,212.52 L209.77,213.05 L210.32,214.34 L210.86,215.62 L211.41,216.15 L211.95,216.11 L212.50,216.01 L213.04,215.90 L213.59,215.86 L214.17,215.75 L214.75,215.46 L215.33,215.10 L215.91,214.81 L216.49,214.70 L217.01,214.49 L217.54,213.95 L218.06,213.27 L218.58,212.73 L219.11,212.52 L219.69,212.88 L220.27,213.61 L220.85,213.97 L221.38,213.55 L221.92,212.41 L222.45,210.85 L222.98,209.29 L223.51,208.14 L224.05,207.72 L224.68,209.11 L225.31,211.87 L225.93,213.25 L226.48,212.50 L227.02,210.70 L227.57,208.91 L228.11,208.16 L228.42,208.43 L228.72,208.71 L229.31,209.58 L229.90,211.70 L230.49,213.82 L231.08,214.70 L231.59,214.26 L232.10,213.13 L232.61,211.73 L233.12,210.59 L233.63,210.16 L234.22,210.96 L234.81,212.88 L235.40,214.81 L235.99,215.61 L236.53,215.22 L237.08,214.23 L237.62,212.99 L238.17,211.99 L238.71,211.61 L239.26,212.14 L239.80,213.43 L240.35,214.71 L240.89,215.24 L241.43,215.02 L241.98,214.43 L242.52,213.61 L243.07,212.79 L243.61,212.19 L244.16,211.97 L244.70,212.29 L245.25,213.06 L245.79,213.83 L246.34,214.15 L246.93,214.10 L247.52,213.97 L248.11,213.84 L248.70,213.79 L249.24,213.93 L249.79,214.29 L250.33,214.74 L250.88,215.10 L251.42,215.24 L251.97,215.28 L252.51,215.37 L253.06,215.48 L253.60,215.57 L254.15,215.61 L254.69,215.52 L255.24,215.29 L255.78,215.01 L256.33,214.79 L256.87,214.70 L257.41,214.88 L257.96,215.33 L258.50,215.78 L259.05,215.97 L259.63,215.93 L260.21,215.84 L260.79,215.73 L261.37,215.64 L261.95,215.61 L262.47,215.51 L262.98,215.24 L263.50,214.88 L264.01,214.52 L264.53,214.25 L265.04,214.15 L265.63,214.42 L266.22,215.06 L266.81,215.70 L267.40,215.97 L267.92,215.84 L268.44,215.49 L268.96,214.98 L269.48,214.42 L270.00,213.91 L270.51,213.55 L271.03,213.43 L271.54,213.67 L272.05,214.31 L272.56,215.09 L273.07,215.73 L273.58,215.97 L274.12,215.85 L274.67,215.52 L275.21,215.06 L275.75,214.61 L276.30,214.28 L276.84,214.15 L277.39,214.33 L277.93,214.78 L278.48,215.34 L279.02,215.80 L279.57,215.97 L280.08,215.82 L280.60,215.42 L281.11,214.88 L281.63,214.34 L282.14,213.94 L282.66,213.79 L283.25,214.11 L283.84,214.88 L284.43,215.65 L285.02,215.97 L285.53,215.84 L286.05,215.49 L286.57,214.98 L287.09,214.42 L287.61,213.91 L288.13,213.55 L288.65,213.43 L289.24,213.75 L289.83,214.52 L290.42,215.29 L291.01,215.61 L291.52,215.26 L292.03,214.35 L292.53,213.23 L293.04,212.32 L293.55,211.97 L294.14,212.56 L294.73,213.97 L295.32,215.38 L295.91,215.97 L296.46,215.41 L297.00,213.96 L297.55,212.17 L298.09,210.71 L298.63,210.16 L299.22,211.07 L299.80,211.97" fill="none" stroke="#000" stroke-width="1.0" stroke-linejoin="round"/>
<path d="M307.00,215.87 L307.54,215.48 L308.08,214.69 L308.61,214.30 L309.27,214.46 L309.92,214.79 L310.58,214.95 L311.23,214.79 L311.88,214.46 L312.54,214.30 L313.06,214.20 L313.58,213.94 L314.10,213.62 L314.63,213.35 L315.15,213.25 L315.80,213.68 L316.46,214.53 L317.11,214.95 L317.63,214.87 L318.16,214.64 L318.68,214.36 L319.20,214.13 L319.73,214.04 L320.38,214.37 L321.03,215.02 L321.69,215.35 L322.21,215.25 L322.73,214.99 L323.25,214.66 L323.78,214.40 L324.30,214.30 L324.95,214.56 L325.61,215.08 L326.26,215.35 L326.78,215.18 L327.31,214.76 L327.83,214.23 L328.35,213.81 L328.88,213.65 L329.44,214.07 L330.01,214.92 L330.58,215.35 L331.13,215.19 L331.69,214.82 L332.24,214.45 L332.80,214.30 L333.35,214.20 L333.91,213.97 L334.46,213.74 L335.02,213.65 L335.54,213.90 L336.07,214.50 L336.59,215.10 L337.11,215.35 L337.67,215.23 L338.22,214.95 L338.78,214.68 L339.33,214.56 L339.99,214.76 L340.64,215.15 L341.29,215.35 L341.82,215.31 L342.34,215.21 L342.86,215.09 L343.39,214.99 L343.91,214.95 L344.43,215.02 L344.95,215.18 L345.48,215.38 L346.00,215.55 L346.52,215.61 L347.07,215.59 L347.61,215.54 L348.16,215.48 L348.70,215.41 L349.25,215.36 L349.79,215.35 L350.31,215.31 L350.84,215.21 L351.36,215.09 L351.88,214.99 L352.41,214.95 L352.93,214.89 L353.45,214.73 L353.97,214.53 L354.50,214.36 L355.02,214.30 L355.54,214.19 L356.06,213.93 L356.58,213.67 L357.11,213.56 L357.72,213.80 L358.32,214.29 L358.93,214.54 L359.45,214.07 L359.96,212.78 L360.48,211.03 L360.99,209.27 L361.51,207.99 L362.02,207.52 L362.53,208.23 L363.03,210.09 L363.54,212.39 L364.04,214.25 L364.55,214.96 L365.07,214.16 L365.58,211.98 L366.10,208.99 L366.61,206.01 L367.13,203.82 L367.64,203.02 L368.15,204.23 L368.65,207.39 L369.16,211.30 L369.66,214.46 L370.17,215.66 L370.68,215.02 L371.20,213.28 L371.71,210.89 L372.23,208.50 L372.74,206.75 L373.26,206.11 L373.76,207.00 L374.27,209.31 L374.78,212.18 L375.28,214.50 L375.79,215.38 L376.30,215.19 L376.82,214.68 L377.33,213.98 L377.85,213.28 L378.36,212.76 L378.88,212.57 L379.40,212.98 L379.93,213.98 L380.46,214.97 L380.98,215.38 L381.48,215.38 L381.99,215.38 L382.49,215.38 L382.99,215.38 L383.49,215.38 L383.99,215.38 L384.49,215.38 L385.06,215.34 L385.62,215.24 L386.18,215.11 L386.74,215.00 L387.30,214.96 L387.87,214.92 L388.43,214.82 L388.99,214.68 L389.55,214.58 L390.11,214.54 L390.64,214.66 L391.17,214.96 L391.69,215.26 L392.22,215.38 L392.78,215.25 L393.34,214.90 L393.90,214.46 L394.47,214.11 L395.03,213.98 L395.55,214.18 L396.08,214.68 L396.61,215.18 L397.13,215.38 L397.70,215.29 L398.26,215.04 L398.82,214.67 L399.38,214.27 L399.94,213.90 L400.51,213.65 L401.07,213.56 L401.63,214.01 L402.19,214.93 L402.75,215.38 L403.28,215.37 L403.81,215.32 L404.33,215.25 L404.86,215.17 L405.39,215.09 L405.91,215.02 L406.44,214.98 L406.97,214.96 L407.53,215.03 L408.09,215.20 L408.65,215.42 L409.21,215.60 L409.78,215.66 L410.38,215.62 L410.99,215.52 L411.59,215.42 L412.20,215.38" fill="none" stroke="#000" stroke-width="1.0" stroke-linejoin="round"/>
<path d="M37.30,271.96 L37.85,268.58 L38.40,265.20 L39.11,268.85 L39.81,272.50 L40.36,268.52 L40.90,264.55 L41.52,268.52 L42.14,276.48 L42.76,280.45 L43.30,279.19 L43.84,275.74 L44.39,271.03 L44.93,266.32 L45.48,262.87 L46.02,261.60 L46.53,263.43 L47.03,268.19 L47.53,274.08 L48.03,278.85 L48.53,280.67 L49.07,278.96 L49.62,274.27 L50.16,267.87 L50.71,261.47 L51.25,256.78 L51.80,255.07 L52.34,257.51 L52.89,263.91 L53.43,271.83 L53.98,278.23 L54.52,280.67 L55.07,278.76 L55.61,274.13 L56.16,269.51 L56.70,267.60 L57.25,268.41 L57.79,270.05 L58.34,270.87 L58.88,274.95 L59.43,279.04 L59.97,279.20 L60.52,279.36 L61.06,278.52 L61.60,276.48 L62.15,274.44 L62.69,273.59 L63.31,274.00 L63.93,274.82 L64.55,275.22 L65.09,276.31 L65.64,277.40 L66.29,278.22 L66.94,279.85 L67.60,280.67 L68.14,279.56 L68.69,276.86 L69.23,274.16 L69.78,273.05 L70.32,274.68 L70.87,277.95 L71.41,279.58 L71.96,279.04 L72.50,277.95 L73.05,277.40 L73.59,278.49 L74.13,279.58 L74.79,278.77 L75.44,277.95 L76.10,276.45 L76.75,273.45 L77.40,271.96 L78.01,273.34 L78.61,276.68 L79.21,280.02 L79.81,281.40 L80.36,280.56 L80.90,278.27 L81.45,275.14 L81.99,272.01 L82.54,269.71 L83.08,268.87 L83.63,271.05 L84.17,275.41 L84.72,277.59 L85.26,276.95 L85.81,275.41 L86.35,273.87 L86.90,273.23 L87.55,274.73 L88.20,277.73 L88.86,279.22 L89.40,279.77 L89.95,280.31 L90.56,279.36 L91.18,277.45 L91.80,276.50 L92.34,277.22 L92.89,278.95 L93.43,280.69 L93.98,281.40 L94.52,281.48 L95.07,281.68 L95.61,281.87 L96.16,281.95 L96.70,281.81 L97.25,281.54 L97.79,281.40 L98.34,281.30 L98.88,281.03 L99.43,280.69 L99.97,280.42 L100.52,280.31 L101.06,279.44 L101.60,277.32 L102.15,275.20 L102.69,274.32 L103.31,275.87 L103.93,278.98 L104.55,280.53 L105.09,279.17 L105.64,275.44 L106.18,270.34 L106.73,265.25 L107.27,261.52 L107.82,260.16 L108.32,261.98 L108.82,266.74 L109.32,272.64 L109.82,277.40 L110.32,279.22 L110.87,278.17 L111.41,275.27 L111.96,271.32 L112.50,267.38 L113.05,264.48 L113.59,263.43 L114.09,264.88 L114.59,268.70 L115.09,273.41 L115.59,277.22 L116.10,278.68 L116.71,277.45 L117.33,275.00 L117.95,273.78 L118.49,275.55 L119.04,279.09 L119.58,280.86 L120.14,279.35 L120.70,275.69 L121.25,272.04 L121.81,270.53 L122.36,272.12 L122.90,275.98 L123.45,279.83 L123.99,281.42 L124.57,281.29 L125.15,280.92 L125.73,280.47 L126.32,280.11 L126.90,279.97 L127.40,280.48 L127.91,280.99 L128.49,280.31 L129.08,278.66 L129.66,277.02 L130.24,276.34 L130.82,277.36 L131.40,279.39 L131.98,280.41 L132.71,279.46 L133.43,278.52 L134.02,279.61 L134.60,280.70 L135.18,279.90 L135.76,278.30 L136.34,277.50 L136.92,278.37 L137.50,280.12 L138.08,280.99 L138.71,280.84 L139.34,280.55 L139.97,280.41 L140.70,280.92 L141.42,281.42 L142.01,281.36 L142.59,281.17 L143.17,280.95 L143.75,280.77 L144.33,280.70 L144.88,280.80 L145.42,281.06 L145.97,281.32 L146.51,281.42 L147.05,281.21 L147.60,280.70 L148.14,280.18 L148.69,279.97 L149.23,279.76 L149.78,279.25 L150.32,278.73 L150.87,278.52 L151.59,279.97 L152.32,281.42 L152.90,281.32 L153.48,281.10 L154.06,280.99 L154.65,279.84 L155.23,277.07 L155.81,274.29 L156.39,273.14 L156.97,275.11 L157.55,279.03 L158.13,280.99 L158.64,280.66 L159.15,279.71 L159.66,278.30 L160.17,276.63 L160.68,274.96 L161.18,273.55 L161.69,272.60 L162.20,272.27 L162.82,273.08 L163.44,275.03 L164.05,276.98 L164.67,277.79 L165.40,276.70 L166.12,275.61 L166.67,275.93 L167.21,276.70 L167.76,277.47 L168.30,277.79 L168.88,277.43 L169.47,276.70 L170.05,276.34 L170.68,276.88 L171.31,277.97 L171.93,278.52 L172.48,277.99 L173.02,276.70 L173.57,275.42 L174.11,274.89 L174.24,274.89 L174.36,274.89 L174.90,275.53 L175.45,277.07 L175.99,278.61 L176.54,279.25 L177.10,278.87 L177.66,277.82 L178.22,276.31 L178.78,274.63 L179.34,273.11 L179.90,272.06 L180.46,271.69 L180.98,272.48 L181.51,274.55 L182.03,277.11 L182.55,279.18 L183.08,279.97 L183.60,279.42 L184.12,277.96 L184.64,276.17 L185.17,274.72 L185.69,274.16 L186.31,275.16 L186.93,277.57 L187.54,279.99 L188.16,280.99 L188.71,281.05 L189.25,281.21 L189.80,281.36 L190.34,281.42 L190.88,281.32 L191.43,281.06 L191.97,280.80 L192.52,280.70 L193.06,279.80 L193.61,277.65 L194.15,275.49 L194.70,274.60 L195.24,275.49 L195.79,277.65 L196.33,279.80 L196.88,280.70 L197.42,280.27 L197.97,279.25 L198.51,278.22 L199.06,277.79 L199.78,278.52 L200.51,279.25 L201.09,278.83 L201.67,277.74 L202.25,276.39 L202.83,275.30 L203.42,274.89 L203.96,275.74 L204.51,277.79 L205.05,279.85 L205.59,280.70 L206.11,280.34 L206.63,279.33 L207.15,277.87 L207.67,276.26 L208.19,274.80 L208.71,273.79 L209.23,273.43 L209.77,274.67 L210.32,277.65 L210.86,280.63 L211.41,281.86 L211.95,281.86 L212.50,281.86 L213.04,281.86 L213.59,281.86 L214.11,281.82 L214.63,281.71 L215.15,281.58 L215.68,281.47 L216.20,281.42 L216.73,281.23 L217.27,280.70 L217.80,279.97 L218.33,279.25 L218.86,278.71 L219.40,278.52 L219.94,278.84 L220.49,279.61 L221.03,280.38 L221.58,280.70 L222.13,280.10 L222.69,278.45 L223.25,276.19 L223.80,273.94 L224.36,272.29 L224.92,271.69 L225.43,272.58 L225.93,274.74 L226.44,276.90 L226.95,277.79 L227.58,276.16 L228.21,272.89 L228.84,271.25 L229.42,274.61 L229.99,277.97 L230.59,277.31 L231.18,275.70 L231.77,274.10 L232.36,273.43 L232.90,274.13 L233.45,275.94 L233.99,278.19 L234.53,280.00 L235.08,280.70 L235.62,280.51 L236.17,280.06 L236.71,279.61 L237.26,279.43 L237.86,279.06 L238.47,278.34 L239.07,277.97 L239.68,278.52 L240.28,279.61 L240.89,280.15 L241.50,279.84 L242.10,279.20 L242.71,278.88 L243.30,279.02 L243.89,279.34 L244.48,279.66 L245.07,279.79 L245.70,279.06 L246.34,278.34 L247.06,279.52 L247.79,280.70 L248.40,279.56 L249.00,277.29 L249.61,276.16 L250.15,276.82 L250.70,278.43 L251.24,280.03 L251.79,280.70 L252.38,280.30 L252.97,279.34 L253.56,278.37 L254.15,277.97 L254.74,278.45 L255.33,279.61 L255.92,280.76 L256.51,281.24 L257.02,281.21 L257.54,281.11 L258.05,280.97 L258.56,280.83 L259.08,280.73 L259.59,280.70 L260.11,280.49 L260.63,279.91 L261.15,279.07 L261.67,278.15 L262.19,277.31 L262.71,276.73 L263.23,276.52 L263.83,277.70 L264.44,280.06 L265.04,281.24 L265.59,281.19 L266.13,281.05 L266.68,280.89 L267.22,280.75 L267.77,280.70 L268.37,280.38 L268.98,279.75 L269.58,279.43 L270.19,279.88 L270.79,280.79 L271.40,281.24 L271.94,281.21 L272.49,281.11 L273.03,280.97 L273.58,280.83 L274.12,280.73 L274.67,280.70 L275.17,280.44 L275.68,279.76 L276.19,278.92 L276.70,278.23 L277.21,277.97 L277.80,278.45 L278.39,279.61 L278.98,280.76 L279.57,281.24 L280.11,281.19 L280.66,281.05 L281.20,280.89 L281.75,280.75 L282.29,280.70 L282.84,280.75 L283.38,280.89 L283.93,281.05 L284.47,281.19 L285.02,281.24 L285.56,281.19 L286.11,281.05 L286.65,280.89 L287.19,280.75 L287.74,280.70 L288.28,280.75 L288.83,280.89 L289.37,281.05 L289.92,281.19 L290.46,281.24 L291.05,280.98 L291.64,280.34 L292.23,279.69 L292.82,279.43 L293.37,279.69 L293.91,280.34 L294.46,280.98 L295.00,281.24 L295.55,281.10 L296.09,280.74 L296.64,280.29 L297.18,279.93 L297.73,279.79 L298.25,279.52 L298.76,278.88 L299.28,278.24 L299.80,277.97" fill="none" stroke="#000" stroke-width="1.0" stroke-linejoin="round"/>
<path d="M307.00,281.61 L307.48,280.95 L307.96,280.30 L308.53,279.71 L309.09,278.54 L309.66,277.95 L310.18,278.54 L310.71,279.71 L311.23,280.30 L311.88,279.97 L312.54,279.32 L313.19,278.99 L313.76,279.32 L314.32,279.97 L314.89,280.30 L315.41,280.37 L315.93,280.50 L316.46,280.56 L317.11,280.76 L317.76,281.15 L318.42,281.35 L318.94,281.31 L319.46,281.21 L319.99,281.09 L320.51,280.99 L321.03,280.95 L321.69,281.05 L322.34,281.25 L322.99,281.35 L323.52,281.25 L324.04,280.99 L324.56,280.66 L325.08,280.40 L325.61,280.30 L326.26,280.56 L326.92,281.08 L327.57,281.35 L328.22,281.15 L328.88,280.76 L329.53,280.56 L330.18,280.76 L330.84,281.15 L331.49,281.35 L332.05,280.96 L332.60,280.04 L333.16,279.11 L333.71,278.73 L334.28,279.12 L334.85,279.91 L335.41,280.30 L336.07,280.24 L336.72,280.10 L337.37,280.04 L338.03,279.84 L338.68,279.45 L339.33,279.25 L339.90,279.68 L340.47,280.53 L341.03,280.95 L341.56,281.05 L342.08,281.25 L342.60,281.35 L343.12,281.37 L343.65,281.44 L344.17,281.52 L344.69,281.58 L345.22,281.61 L345.74,281.58 L346.26,281.52 L346.78,281.44 L347.31,281.37 L347.83,281.35 L348.35,281.37 L348.88,281.44 L349.40,281.52 L349.92,281.58 L350.44,281.61 L350.97,281.58 L351.49,281.52 L352.01,281.44 L352.54,281.37 L353.06,281.35 L353.71,281.08 L354.37,280.56 L355.02,280.30 L355.59,279.97 L356.15,279.32 L356.72,278.99 L357.32,278.44 L357.91,277.35 L358.51,276.80 L359.21,278.76 L359.92,280.73 L360.51,279.19 L361.11,275.46 L361.71,271.74 L362.30,270.20 L362.87,271.74 L363.43,275.46 L363.99,279.19 L364.55,280.73 L365.07,279.53 L365.58,276.24 L366.10,271.74 L366.61,267.25 L367.13,263.96 L367.64,262.75 L368.15,264.47 L368.65,268.96 L369.16,274.52 L369.66,279.01 L370.17,280.73 L370.73,278.58 L371.29,272.97 L371.85,266.02 L372.42,260.40 L372.98,258.26 L373.57,261.45 L374.17,269.14 L374.77,276.84 L375.37,280.03 L375.87,279.84 L376.37,279.31 L376.87,278.55 L377.37,277.71 L377.87,276.95 L378.37,276.42 L378.88,276.24 L379.40,276.79 L379.93,278.13 L380.46,279.47 L380.98,280.03 L381.51,280.23 L382.04,280.73 L382.56,281.23 L383.09,281.43 L383.62,281.37 L384.14,281.22 L384.67,281.07 L385.20,281.01 L385.72,280.81 L386.25,280.31 L386.78,279.81 L387.30,279.61 L388.01,280.31 L388.71,281.01 L389.23,280.87 L389.76,280.52 L390.29,280.17 L390.81,280.03 L391.34,280.17 L391.87,280.52 L392.39,280.87 L392.92,281.01 L393.48,280.82 L394.04,280.33 L394.61,279.72 L395.17,279.23 L395.73,279.04 L396.43,280.03 L397.13,281.01 L397.66,280.87 L398.19,280.52 L398.71,280.17 L399.24,280.03 L399.77,280.17 L400.29,280.52 L400.82,280.87 L401.35,281.01 L401.91,280.88 L402.47,280.53 L403.03,280.09 L403.60,279.74 L404.16,279.61 L404.68,279.81 L405.21,280.31 L405.74,280.81 L406.26,281.01 L406.83,280.98 L407.39,280.91 L407.95,280.83 L408.51,280.76 L409.07,280.73 L409.63,280.70 L410.20,280.63 L410.76,280.55 L411.32,280.48 L411.88,280.45" fill="none" stroke="#000" stroke-width="1.0" stroke-linejoin="round"/>
<path d="M37.30,347.17 L37.81,347.17 L38.32,347.17 L38.83,347.17 L39.34,347.17 L39.85,347.17 L40.36,347.17 L40.94,347.13 L41.52,347.02 L42.10,346.88 L42.68,346.77 L43.26,346.73 L43.99,346.44 L44.72,346.15 L45.44,346.66 L46.17,347.17 L46.71,347.08 L47.26,346.88 L47.80,346.67 L48.35,346.59 L49.08,346.37 L49.80,346.15 L50.35,346.30 L50.89,346.66 L51.44,347.02 L51.98,347.17 L52.53,346.85 L53.07,346.08 L53.62,345.31 L54.16,344.99 L54.89,345.93 L55.61,346.88 L56.16,346.77 L56.70,346.51 L57.25,346.26 L57.79,346.15 L58.34,345.68 L58.88,344.55 L59.43,343.42 L59.97,342.96 L60.52,343.32 L61.06,344.19 L61.61,345.06 L62.15,345.42 L62.67,345.12 L63.19,344.25 L63.71,343.00 L64.23,341.61 L64.75,340.35 L65.26,339.49 L65.78,339.18 L66.41,340.56 L67.04,343.32 L67.67,344.70 L68.18,344.06 L68.69,342.52 L69.20,340.98 L69.71,340.34 L70.23,340.89 L70.75,342.35 L71.28,344.14 L71.80,345.60 L72.32,346.15 L72.90,344.88 L73.48,342.34 L74.06,341.07 L74.69,341.97 L75.32,343.79 L75.95,344.70 L76.68,343.97 L77.41,343.25 L78.13,344.55 L78.86,345.86 L79.40,345.80 L79.95,345.64 L80.49,345.49 L81.04,345.42 L81.58,345.00 L82.13,343.97 L82.67,342.94 L83.22,342.52 L83.76,343.11 L84.31,344.55 L84.85,345.99 L85.40,346.59 L85.94,345.93 L86.49,344.34 L87.03,342.74 L87.58,342.08 L88.12,342.74 L88.67,344.34 L89.21,345.93 L89.76,346.59 L90.30,346.48 L90.85,346.22 L91.39,345.97 L91.93,345.86 L92.06,345.86 L92.18,345.86 L92.72,346.01 L93.27,346.37 L93.81,346.73 L94.36,346.88 L94.90,346.92 L95.45,347.02 L95.99,347.13 L96.54,347.17 L97.16,347.17 L97.77,347.17 L98.39,347.17 L99.01,347.17 L99.64,346.73 L100.27,345.86 L100.90,345.42 L101.53,344.59 L102.16,342.92 L102.79,342.08 L103.29,342.79 L103.80,344.48 L104.31,346.18 L104.82,346.88 L105.34,345.91 L105.87,343.36 L106.39,340.22 L106.91,337.68 L107.43,336.71 L107.98,337.84 L108.52,340.56 L109.07,343.28 L109.61,344.41 L110.13,344.05 L110.65,343.04 L111.17,341.58 L111.69,339.97 L112.21,338.51 L112.73,337.50 L113.25,337.14 L113.83,338.49 L114.41,341.18 L114.99,342.52 L115.57,342.16 L116.15,341.79 L116.73,342.16 L117.31,342.88 L117.89,343.25 L118.48,345.06 L119.06,346.88 L119.58,346.23 L120.10,344.52 L120.63,342.41 L121.15,340.70 L121.67,340.05 L122.29,341.05 L122.91,343.46 L123.52,345.88 L124.14,346.88 L124.76,346.77 L125.38,346.51 L125.99,346.26 L126.61,346.15 L127.13,345.67 L127.66,344.39 L128.18,342.82 L128.70,341.55 L129.23,341.07 L129.77,341.92 L130.32,343.97 L130.86,346.03 L131.41,346.88 L132.04,346.77 L132.67,346.55 L133.30,346.44 L133.91,346.02 L134.53,344.99 L135.15,343.96 L135.76,343.54 L136.38,343.88 L137.00,344.70 L137.62,345.52 L138.23,345.86 L138.86,346.12 L139.49,346.62 L140.12,346.88 L140.85,345.93 L141.58,344.99 L142.12,344.84 L142.67,344.48 L143.21,344.12 L143.76,343.97 L144.48,345.42 L145.21,346.88 L145.75,346.77 L146.30,346.51 L146.84,346.26 L147.39,346.15 L148.01,346.01 L148.63,345.86 L149.36,346.37 L150.08,346.88 L150.63,346.84 L151.17,346.73 L151.72,346.63 L152.26,346.59 L152.78,346.60 L153.30,346.64 L153.82,346.70 L154.34,346.76 L154.86,346.82 L155.38,346.86 L155.90,346.88 L156.48,346.84 L157.06,346.73 L157.64,346.59 L158.22,346.48 L158.80,346.44 L159.38,346.47 L159.96,346.54 L160.55,346.63 L161.13,346.70 L161.71,346.73 L162.29,346.70 L162.87,346.63 L163.45,346.54 L164.03,346.47 L164.61,346.44 L165.16,346.36 L165.70,346.15 L166.25,345.95 L166.79,345.86 L167.34,346.01 L167.88,346.37 L168.43,346.73 L168.97,346.88 L169.52,346.73 L170.06,346.37 L170.61,346.01 L171.15,345.86 L171.88,345.42 L172.60,344.99 L173.33,345.93 L174.06,346.88 L174.60,346.52 L175.15,345.64 L175.69,344.77 L176.24,344.41 L176.96,345.28 L177.69,346.15 L178.27,345.87 L178.85,345.15 L179.43,344.25 L180.01,343.52 L180.59,343.25 L181.32,343.83 L182.05,344.41 L182.77,343.83 L183.50,343.25 L184.13,343.54 L184.76,344.12 L185.39,344.41 L185.97,344.04 L186.55,343.32 L187.13,342.96 L187.86,344.92 L188.59,346.88 L189.13,346.24 L189.68,344.70 L190.22,343.16 L190.76,342.52 L191.49,344.70 L192.22,346.88 L192.84,346.24 L193.45,344.70 L194.07,343.16 L194.69,342.52 L195.41,344.70 L196.14,346.88 L196.66,346.11 L197.19,344.12 L197.71,341.65 L198.23,339.65 L198.76,338.89 L199.30,340.06 L199.85,342.88 L200.39,345.71 L200.93,346.88 L201.56,345.61 L202.19,343.06 L202.82,341.79 L202.86,341.65 L202.91,341.50 L203.63,343.10 L204.36,344.70 L204.94,344.15 L205.52,343.06 L206.10,342.52 L206.73,343.25 L207.36,344.70 L207.99,345.42 L208.72,344.34 L209.44,343.25 L210.17,345.06 L210.90,346.88 L211.53,345.97 L212.16,344.15 L212.79,343.25 L213.37,343.97 L213.95,345.42 L214.53,346.15 L215.05,345.87 L215.57,345.15 L216.10,344.25 L216.62,343.52 L217.14,343.25 L217.72,343.43 L218.31,343.79 L218.89,343.97 L219.43,343.82 L219.98,343.46 L220.52,343.10 L221.07,342.96 L221.61,343.00 L222.16,343.10 L222.70,343.20 L223.25,343.25 L223.83,342.88 L224.41,342.16 L224.99,341.79 L225.72,343.97 L226.44,346.15 L227.07,344.88 L227.70,342.34 L228.33,341.07 L228.88,341.92 L229.42,343.97 L229.97,346.03 L230.51,346.88 L231.09,346.32 L231.67,344.87 L232.25,343.07 L232.83,341.62 L233.42,341.07 L233.96,341.81 L234.51,343.61 L235.05,345.41 L235.59,346.15 L236.18,345.94 L236.76,345.40 L237.34,344.73 L237.92,344.18 L238.50,343.97 L239.23,345.42 L239.95,346.88 L240.50,346.88 L241.04,346.88 L241.59,346.88 L242.13,346.88 L242.68,346.73 L243.22,346.37 L243.77,346.01 L244.31,345.86 L244.94,346.15 L245.57,346.73 L246.20,347.02 L246.82,346.94 L247.44,346.73 L248.05,346.53 L248.67,346.44 L249.22,346.51 L249.76,346.66 L250.31,346.81 L250.85,346.88 L251.39,346.77 L251.94,346.51 L252.48,346.26 L253.03,346.15 L253.66,346.33 L254.29,346.70 L254.92,346.88 L255.48,346.45 L256.04,345.43 L256.60,344.41 L257.16,343.98 L257.90,345.46 L258.64,346.94 L259.26,347.00 L259.88,347.13 L260.50,347.26 L261.11,347.31 L261.73,347.26 L262.35,347.13 L262.97,347.00 L263.58,346.94 L264.14,346.51 L264.69,345.46 L265.25,344.41 L265.81,343.98 L266.55,345.03 L267.29,346.08 L267.91,346.23 L268.52,346.54 L269.14,346.70 L269.76,346.25 L270.38,345.15 L270.99,344.06 L271.61,343.61 L272.23,344.38 L272.85,345.93 L273.46,346.70 L274.04,346.41 L274.62,345.62 L275.19,344.54 L275.77,343.46 L276.34,342.66 L276.92,342.38 L277.45,343.01 L277.97,344.54 L278.49,346.06 L279.02,346.70 L279.58,346.28 L280.13,345.15 L280.69,343.61 L281.24,342.07 L281.80,340.94 L282.35,340.52 L282.91,341.34 L283.47,343.30 L284.02,345.27 L284.58,346.08 L285.19,345.81 L285.81,345.15 L286.43,344.50 L287.05,344.23 L287.60,344.59 L288.16,345.46 L288.71,346.34 L289.27,346.70 L289.79,346.79 L290.32,347.01 L290.84,347.22 L291.37,347.31 L291.99,347.22 L292.60,347.01 L293.22,346.79 L293.84,346.70 L294.46,346.48 L295.07,345.96 L295.69,345.43 L296.31,345.22 L296.93,345.43 L297.54,345.86 L298.16,346.08 L298.78,346.39 L299.39,346.70 L299.60,346.57 L299.80,346.45" fill="none" stroke="#000" stroke-width="1.0" stroke-linejoin="round"/>
<path d="M307.00,346.99 L307.48,345.69 L307.96,344.38 L308.61,343.79 L309.27,342.61 L309.92,342.03 L310.58,343.20 L311.23,345.56 L311.88,346.73 L312.44,346.10 L312.99,344.58 L313.55,343.05 L314.10,342.42 L314.63,343.05 L315.15,344.58 L315.67,346.10 L316.20,346.73 L316.72,346.21 L317.24,345.16 L317.76,344.64 L318.42,345.23 L319.07,346.41 L319.73,346.99 L320.38,346.60 L321.03,345.82 L321.69,345.42 L322.34,345.82 L322.99,346.60 L323.65,346.99 L324.30,346.67 L324.95,346.01 L325.61,345.69 L326.26,346.01 L326.92,346.67 L327.57,346.99 L328.22,346.60 L328.88,345.82 L329.53,345.42 L330.05,345.16 L330.58,344.64 L331.10,344.38 L331.69,344.03 L332.27,343.20 L332.86,342.37 L333.45,342.03 L334.10,343.20 L334.76,345.56 L335.41,346.73 L335.93,346.32 L336.46,345.24 L336.98,343.91 L337.50,342.83 L338.03,342.42 L338.68,343.50 L339.33,345.65 L339.99,346.73 L340.51,346.44 L341.03,345.69 L341.56,344.76 L342.08,344.01 L342.60,343.73 L343.25,344.48 L343.91,345.98 L344.56,346.73 L345.08,346.69 L345.61,346.60 L346.13,346.48 L346.65,346.38 L347.18,346.34 L347.83,346.50 L348.48,346.83 L349.14,346.99 L349.66,347.02 L350.18,347.08 L350.71,347.16 L351.23,347.23 L351.75,347.25 L352.27,347.25 L352.80,347.25 L353.32,347.25 L353.84,347.25 L354.37,347.25 L354.89,347.23 L355.41,347.16 L355.93,347.08 L356.46,347.02 L356.98,346.99 L357.39,346.92 L357.81,346.85 L358.37,346.83 L358.93,346.76 L359.49,346.67 L360.06,346.60 L360.62,346.57 L361.18,346.63 L361.74,346.77 L362.30,346.94 L362.87,347.08 L363.43,347.13 L363.99,347.04 L364.55,346.80 L365.11,346.49 L365.67,346.25 L366.24,346.15 L366.76,346.30 L367.29,346.64 L367.82,346.99 L368.34,347.13 L368.90,347.08 L369.47,346.94 L370.03,346.77 L370.59,346.63 L371.15,346.57 L371.71,346.63 L372.28,346.77 L372.84,346.94 L373.40,347.08 L373.96,347.13 L374.52,347.08 L375.08,346.94 L375.65,346.77 L376.21,346.63 L376.77,346.57 L377.33,346.63 L377.89,346.77 L378.46,346.94 L379.02,347.08 L379.58,347.13 L380.14,347.08 L380.70,346.94 L381.26,346.77 L381.83,346.63 L382.39,346.57 L382.95,346.60 L383.51,346.67 L384.07,346.76 L384.63,346.83 L385.20,346.85 L385.76,346.61 L386.32,345.98 L386.88,345.20 L387.44,344.57 L388.01,344.33 L388.53,344.65 L389.06,345.45 L389.59,346.24 L390.11,346.57 L390.67,346.49 L391.24,346.28 L391.80,346.02 L392.36,345.81 L392.92,345.73 L393.45,345.94 L393.97,346.43 L394.50,346.93 L395.03,347.13 L395.55,346.93 L396.08,346.43 L396.61,345.94 L397.13,345.73 L397.66,345.59 L398.19,345.24 L398.71,344.89 L399.24,344.75 L399.77,345.06 L400.29,345.80 L400.82,346.55 L401.35,346.85 L401.91,346.69 L402.47,346.27 L403.03,345.75 L403.60,345.33 L404.16,345.17 L404.68,345.46 L405.21,346.15 L405.74,346.85 L406.26,347.13 L406.83,347.08 L407.39,346.94 L407.95,346.77 L408.51,346.63 L409.07,346.57 L409.63,346.60 L410.20,346.67 L410.76,346.76 L411.32,346.83 L411.88,346.85 L412.04,346.85 L412.20,346.85" fill="none" stroke="#000" stroke-width="1.0" stroke-linejoin="round"/>
<path d="M37.30,409.23 L37.74,409.95 L38.18,410.68 L38.69,409.81 L39.20,408.94 L39.78,410.53 L40.36,412.13 L40.94,411.22 L41.52,409.41 L42.10,408.50 L42.83,410.68 L43.55,412.86 L44.14,412.40 L44.72,411.20 L45.30,409.72 L45.88,408.52 L46.46,408.06 L47.09,409.26 L47.72,411.66 L48.35,412.86 L48.89,412.75 L49.44,412.50 L49.98,412.24 L50.53,412.13 L51.25,411.41 L51.98,410.68 L52.56,410.03 L53.14,408.72 L53.72,408.06 L54.45,409.01 L55.18,409.95 L55.81,408.61 L56.44,405.92 L57.07,404.58 L57.79,407.27 L58.52,409.95 L59.06,408.83 L59.61,406.10 L60.15,403.38 L60.70,402.25 L61.24,403.17 L61.79,405.38 L62.33,407.59 L62.88,408.50 L63.60,407.77 L64.33,407.05 L64.96,406.68 L65.59,405.96 L66.22,405.59 L66.95,404.65 L67.67,403.71 L68.40,407.05 L69.13,410.39 L69.67,408.30 L70.21,403.27 L70.76,398.24 L71.30,396.15 L71.89,399.42 L72.47,405.96 L73.05,409.23 L73.59,409.40 L74.14,409.81 L74.68,410.22 L75.23,410.39 L75.77,409.84 L76.32,408.50 L76.86,407.17 L77.41,406.61 L78.04,407.99 L78.67,410.75 L79.30,412.13 L79.91,411.81 L80.53,411.04 L81.15,410.27 L81.76,409.95 L82.39,410.68 L83.02,412.13 L83.65,412.86 L84.27,412.80 L84.89,412.64 L85.51,412.49 L86.12,412.42 L86.74,411.49 L87.36,409.23 L87.98,406.97 L88.59,406.03 L89.22,407.74 L89.85,411.15 L90.48,412.86 L91.03,412.65 L91.57,412.13 L92.12,411.62 L92.66,411.41 L93.15,411.72 L93.63,412.03 L94.36,411.45 L95.08,410.87 L95.81,412.18 L96.54,413.48 L97.17,412.03 L97.80,409.13 L98.43,407.67 L98.94,408.35 L99.44,410.00 L99.95,411.64 L100.46,412.32 L101.04,410.24 L101.62,405.20 L102.20,400.17 L102.79,398.08 L103.37,401.46 L103.95,408.22 L104.53,411.59 L105.11,410.51 L105.69,408.33 L106.27,407.24 L106.85,406.15 L107.43,405.06 L108.02,404.15 L108.60,402.33 L109.18,401.42 L109.81,404.15 L110.44,409.60 L111.07,412.32 L111.61,410.62 L112.16,406.51 L112.70,402.40 L113.25,400.70 L113.79,402.40 L114.34,406.51 L114.88,410.62 L115.42,412.32 L116.05,411.78 L116.68,410.69 L117.31,410.14 L117.93,409.23 L118.55,407.02 L119.17,404.81 L119.78,403.89 L120.41,406.18 L121.04,410.76 L121.67,413.05 L122.18,412.62 L122.69,411.59 L123.20,410.57 L123.71,410.14 L124.29,408.97 L124.87,406.15 L125.45,403.32 L126.03,402.15 L126.54,403.64 L127.05,407.24 L127.56,410.83 L128.06,412.32 L128.69,410.43 L129.32,406.66 L129.95,404.77 L130.50,405.55 L131.04,407.45 L131.59,409.35 L132.13,410.14 L132.86,410.51 L133.59,410.87 L134.17,410.20 L134.75,408.46 L135.33,406.30 L135.91,404.56 L136.49,403.89 L137.04,405.13 L137.58,408.11 L138.13,411.09 L138.67,412.32 L139.22,411.51 L139.76,409.56 L140.31,407.61 L140.85,406.80 L141.39,407.08 L141.94,407.74 L142.48,408.41 L143.03,408.69 L143.76,409.78 L144.48,410.87 L145.03,410.23 L145.57,408.69 L146.12,407.15 L146.66,406.51 L147.21,407.25 L147.75,409.05 L148.30,410.85 L148.84,411.59 L149.50,409.78 L150.15,406.15 L150.81,404.33 L151.39,405.97 L151.97,409.23 L152.55,410.87 L153.18,409.23 L153.81,405.97 L154.44,404.33 L155.17,403.97 L155.90,403.60 L156.62,401.79 L157.35,399.97 L157.98,402.51 L158.61,407.60 L159.24,410.14 L159.86,407.23 L160.47,400.19 L161.09,393.15 L161.71,390.24 L162.25,392.94 L162.80,399.46 L163.34,405.99 L163.89,408.69 L164.43,408.37 L164.98,407.60 L165.52,406.83 L166.07,406.51 L166.70,405.06 L167.33,402.15 L167.96,400.70 L168.46,401.87 L168.97,404.69 L169.48,407.52 L169.99,408.69 L170.57,407.41 L171.15,404.33 L171.73,401.25 L172.31,399.97 L172.89,401.97 L173.48,405.97 L174.06,407.96 L174.60,405.30 L175.15,398.88 L175.69,392.46 L176.24,389.80 L176.85,392.36 L177.47,398.52 L178.09,404.68 L178.71,407.24 L179.29,406.45 L179.87,404.55 L180.45,402.65 L181.03,401.86 L181.61,402.66 L182.19,404.26 L182.77,405.06 L183.50,408.69 L184.23,412.32 L184.81,410.21 L185.39,404.69 L185.97,397.87 L186.55,392.35 L187.13,390.24 L187.68,392.83 L188.22,399.10 L188.77,405.37 L189.31,407.96 L189.94,408.51 L190.57,409.60 L191.20,410.14 L191.71,407.91 L192.22,402.51 L192.73,397.12 L193.23,394.89 L193.82,397.44 L194.40,403.60 L194.98,409.77 L195.56,412.32 L196.14,411.41 L196.72,409.60 L197.30,408.69 L197.88,408.33 L198.47,407.60 L199.05,407.24 L199.68,408.14 L200.31,409.96 L200.93,410.87 L201.48,410.55 L202.02,409.78 L202.57,409.01 L203.11,408.69 L203.16,408.91 L203.20,409.13 L203.83,409.92 L204.46,411.52 L205.08,412.32 L205.71,412.14 L206.34,411.78 L206.97,411.59 L207.55,411.78 L208.14,412.14 L208.72,412.32 L209.44,409.05 L210.17,405.78 L210.90,408.69 L211.62,411.59 L212.20,411.41 L212.79,411.05 L213.37,410.87 L213.95,410.49 L214.53,409.56 L215.11,408.64 L215.69,408.25 L216.42,409.92 L217.14,411.59 L217.72,410.87 L218.31,409.42 L218.89,408.69 L219.47,409.60 L220.05,411.41 L220.63,412.32 L221.26,412.14 L221.89,411.78 L222.52,411.59 L223.15,411.23 L223.78,410.51 L224.41,410.14 L225.13,411.09 L225.86,412.03 L226.44,411.67 L227.02,410.94 L227.60,410.58 L228.15,410.83 L228.69,411.45 L229.24,412.07 L229.78,412.32 L230.33,412.07 L230.87,411.45 L231.42,410.83 L231.96,410.58 L232.54,409.92 L233.13,408.62 L233.71,407.96 L234.43,410.14 L235.16,412.32 L235.79,411.67 L236.42,410.36 L237.05,409.71 L237.77,410.65 L238.50,411.59 L239.13,411.41 L239.76,411.05 L240.39,410.87 L241.12,411.59 L241.84,412.32 L242.57,409.05 L243.30,405.78 L243.88,407.24 L244.46,410.14 L245.04,411.59 L245.62,411.34 L246.20,410.83 L246.78,410.58 L247.36,408.54 L247.94,406.51 L248.49,405.62 L249.03,403.46 L249.58,401.30 L250.12,400.41 L250.75,402.22 L251.38,405.86 L252.01,407.67 L252.63,405.97 L253.25,401.86 L253.86,397.75 L254.48,396.05 L255.03,398.11 L255.57,403.10 L256.12,408.08 L256.66,410.14 L257.34,407.89 L258.03,405.64 L258.56,406.10 L259.10,407.03 L259.63,407.49 L260.37,406.56 L261.11,405.64 L261.73,406.32 L262.35,407.67 L262.97,408.35 L263.58,407.98 L264.20,407.24 L264.82,406.87 L265.44,408.11 L266.05,409.34 L266.67,408.53 L267.29,406.56 L267.91,404.60 L268.52,403.78 L269.14,405.95 L269.76,410.27 L270.38,412.43 L270.99,411.97 L271.61,411.04 L272.23,410.58 L272.85,410.27 L273.46,409.65 L274.08,409.34 L274.70,409.09 L275.31,408.60 L275.93,408.35 L276.67,409.16 L277.41,409.96 L277.97,408.82 L278.53,406.07 L279.08,403.32 L279.64,402.18 L280.25,404.12 L280.87,408.01 L281.49,409.96 L282.02,408.57 L282.56,405.79 L283.09,404.40 L283.62,405.13 L284.14,406.87 L284.67,408.62 L285.19,409.34 L285.81,407.64 L286.43,404.25 L287.05,402.55 L287.66,404.09 L288.28,407.18 L288.90,408.72 L289.52,408.42 L290.13,407.80 L290.75,407.49 L291.37,407.71 L291.99,408.14 L292.60,408.35 L293.14,406.59 L293.67,403.07 L294.21,401.31 L294.78,403.78 L295.36,408.72 L295.94,411.19 L296.49,409.75 L297.05,406.25 L297.60,402.76 L298.16,401.31 L298.78,403.48 L299.39,405.64 L299.60,405.02 L299.80,404.40" fill="none" stroke="#000" stroke-width="1.0" stroke-linejoin="round"/>
<path d="M307.00,412.03 L307.48,411.70 L307.96,411.37 L308.61,410.98 L309.27,410.20 L309.92,409.80 L310.58,410.46 L311.23,411.76 L311.88,412.42 L312.45,411.99 L313.02,411.14 L313.58,410.72 L314.10,411.14 L314.63,411.99 L315.15,412.42 L315.67,411.99 L316.20,411.14 L316.72,410.72 L317.29,411.14 L317.85,411.99 L318.42,412.42 L318.97,412.11 L319.53,411.37 L320.08,410.63 L320.64,410.33 L321.21,410.85 L321.77,411.90 L322.34,412.42 L322.91,411.99 L323.47,411.14 L324.04,410.72 L324.56,411.14 L325.08,411.99 L325.61,412.42 L326.26,411.90 L326.92,410.85 L327.57,410.33 L328.22,410.85 L328.88,411.90 L329.53,412.42 L330.18,412.09 L330.84,411.44 L331.49,411.11 L332.14,411.34 L332.80,411.80 L333.45,412.03 L334.10,411.80 L334.76,411.34 L335.41,411.11 L335.98,411.44 L336.54,412.09 L337.11,412.42 L337.63,411.44 L338.16,409.48 L338.68,408.50 L339.20,409.48 L339.73,411.44 L340.25,412.42 L340.77,412.27 L341.29,411.90 L341.82,411.53 L342.34,411.37 L342.86,411.63 L343.39,412.16 L343.91,412.42 L344.56,411.67 L345.22,410.16 L345.87,409.41 L346.44,408.76 L347.00,407.45 L347.57,406.80 L348.09,407.22 L348.61,408.07 L349.14,408.50 L349.66,408.17 L350.18,407.52 L350.71,407.19 L351.23,409.80 L351.75,412.42 L352.34,411.69 L352.93,409.93 L353.52,408.18 L354.10,407.45 L354.71,408.69 L355.32,411.18 L355.93,412.42 L356.45,412.47 L356.97,412.62 L357.48,412.80 L358.00,412.95 L358.51,413.01 L359.04,412.94 L359.56,412.79 L360.09,412.65 L360.62,412.58 L361.14,412.44 L361.67,412.09 L362.20,411.75 L362.72,411.60 L363.33,411.95 L363.94,412.65 L364.55,413.01 L365.21,412.76 L365.86,412.27 L366.52,412.02 L367.13,412.27 L367.73,412.76 L368.34,413.01 L368.90,412.74 L369.47,412.04 L370.03,411.17 L370.59,410.46 L371.15,410.20 L371.76,410.90 L372.37,412.30 L372.98,413.01 L373.57,413.01 L374.17,413.01 L374.77,413.01 L375.37,413.01 L375.89,412.94 L376.42,412.79 L376.95,412.65 L377.47,412.58 L377.98,412.40 L378.48,411.90 L378.99,411.30 L379.49,410.81 L380.00,410.62 L380.56,411.04 L381.12,411.88 L381.69,412.30 L382.21,411.89 L382.74,410.90 L383.27,409.91 L383.79,409.49 L384.49,410.55 L385.20,411.60 L385.90,410.41 L386.60,409.21 L387.21,410.06 L387.82,411.74 L388.43,412.58 L388.99,412.09 L389.55,411.11 L390.11,410.62 L390.67,411.21 L391.24,412.41 L391.80,413.01 L392.30,412.97 L392.81,412.86 L393.31,412.73 L393.82,412.62 L394.33,412.58 L394.89,412.62 L395.45,412.73 L396.01,412.86 L396.57,412.97 L397.13,413.01 L397.64,412.87 L398.15,412.52 L398.65,412.09 L399.16,411.74 L399.66,411.60 L400.22,411.14 L400.79,410.23 L401.35,409.78 L402.05,410.69 L402.75,411.60 L403.31,410.72 L403.88,408.97 L404.44,408.09 L405.05,409.07 L405.66,411.04 L406.26,412.02 L406.87,411.57 L407.48,410.65 L408.09,410.20 L408.65,410.90 L409.21,412.30 L409.78,413.01 L410.30,413.01 L410.83,413.01 L411.36,413.01 L411.88,413.01 L412.04,413.01 L412.20,413.01" fill="none" stroke="#000" stroke-width="1.0" stroke-linejoin="round"/>
<path d="M37.31,446.14 L37.85,446.96 L38.40,447.78 L39.05,451.86 L39.70,460.03 L40.36,464.12 L40.90,466.30 L41.45,468.48 L41.99,466.98 L42.54,463.98 L43.08,462.49 L43.63,466.03 L44.17,473.11 L44.72,476.65 L45.26,474.58 L45.81,469.57 L46.35,464.56 L46.90,462.49 L47.55,464.53 L48.20,468.61 L48.86,470.66 L49.40,469.84 L49.95,469.02 L50.49,470.06 L51.04,472.56 L51.58,475.07 L52.13,476.11 L52.72,474.27 L53.32,469.84 L53.92,465.41 L54.52,463.58 L55.18,465.89 L55.83,470.52 L56.48,472.84 L57.10,470.66 L57.72,466.30 L58.34,464.12 L58.88,470.66 L59.43,477.19 L59.97,472.43 L60.52,462.89 L61.06,458.13 L61.71,459.90 L62.37,463.44 L63.02,465.21 L63.57,469.30 L64.11,473.38 L64.62,472.97 L65.13,472.16 L65.64,471.75 L66.18,469.02 L66.73,466.30 L67.38,464.80 L68.03,461.80 L68.69,460.31 L69.23,464.12 L69.78,471.75 L70.32,475.56 L70.87,470.79 L71.41,461.26 L71.96,456.49 L72.50,459.22 L73.05,464.66 L73.59,467.39 L74.15,457.09 L74.71,436.50 L75.27,426.20 L75.92,442.44 L76.58,458.67 L77.23,453.91 L77.88,444.37 L78.54,439.60 L79.19,441.24 L79.84,442.87 L80.43,439.88 L81.01,433.88 L81.59,430.89 L82.21,441.78 L82.82,463.58 L83.44,474.47 L83.94,472.08 L84.44,465.81 L84.94,458.07 L85.45,451.80 L85.95,449.41 L86.56,455.27 L87.18,466.98 L87.80,472.84 L88.34,473.93 L88.89,476.11 L89.43,477.19 L89.98,476.65 L90.52,475.56 L91.07,475.02 L91.78,470.93 L92.48,466.84 L93.14,471.75 L93.79,476.65 L94.44,476.92 L95.10,477.19 L95.81,478.01 L96.52,478.83 L97.06,477.88 L97.60,475.97 L98.15,475.02 L98.80,474.47 L99.46,473.93 L100.04,473.38 L100.62,472.29 L101.20,471.75 L101.85,475.02 L102.51,478.28 L103.05,477.47 L103.60,475.83 L104.14,475.02 L104.69,475.83 L105.23,477.47 L105.78,478.28 L106.32,477.60 L106.87,476.24 L107.41,475.56 L108.12,476.92 L108.83,478.28 L109.48,477.19 L110.13,476.11 L110.79,477.47 L111.44,478.83 L112.15,477.90 L112.86,476.98 L113.40,477.44 L113.95,478.37 L114.49,478.83 L115.04,478.42 L115.58,477.60 L116.13,477.19 L116.64,476.86 L117.16,476.04 L117.68,475.23 L118.20,474.89 L118.83,475.80 L119.46,477.61 L120.08,478.52 L120.81,478.01 L121.54,477.50 L122.26,477.79 L122.99,478.08 L123.62,477.47 L124.25,476.23 L124.88,475.61 L125.46,476.34 L126.04,477.79 L126.62,478.52 L127.17,478.41 L127.71,478.16 L128.26,477.90 L128.80,477.79 L129.43,478.08 L130.06,478.66 L130.69,478.96 L131.31,478.15 L131.93,476.19 L132.54,474.24 L133.16,473.43 L133.79,474.81 L134.42,477.57 L135.05,478.96 L135.63,478.96 L136.21,478.96 L136.79,478.96 L137.37,478.66 L137.96,478.08 L138.54,477.79 L139.12,477.32 L139.70,476.19 L140.28,475.06 L140.86,474.60 L141.44,475.21 L142.02,476.45 L142.60,477.07 L143.33,477.28 L144.06,477.50 L144.64,477.04 L145.22,475.85 L145.80,474.36 L146.38,473.17 L146.96,472.71 L147.51,473.56 L148.05,475.61 L148.60,477.67 L149.14,478.52 L149.69,478.31 L150.23,477.79 L150.78,477.28 L151.32,477.07 L151.90,477.25 L152.48,477.61 L153.06,477.79 L153.69,477.72 L154.32,477.57 L154.95,477.50 L155.50,477.65 L156.04,478.01 L156.59,478.37 L157.13,478.52 L157.68,478.41 L158.22,478.16 L158.77,477.90 L159.31,477.79 L159.86,477.90 L160.40,478.16 L160.95,478.41 L161.49,478.52 L162.07,478.10 L162.65,477.01 L163.23,475.67 L163.82,474.58 L164.40,474.16 L164.94,474.80 L165.49,476.34 L166.03,477.88 L166.58,478.52 L167.12,478.20 L167.67,477.43 L168.21,476.66 L168.76,476.34 L169.30,476.13 L169.85,475.61 L170.39,475.10 L170.93,474.89 L171.48,475.21 L172.02,475.98 L172.57,476.75 L173.11,477.07 L173.16,476.12 L173.20,475.18 L173.92,476.49 L174.65,477.79 L175.28,477.43 L175.91,476.70 L176.54,476.34 L177.17,476.78 L177.80,477.65 L178.43,478.08 L179.01,477.72 L179.59,476.99 L180.17,476.63 L180.75,477.10 L181.33,478.05 L181.91,478.52 L182.54,477.97 L183.17,476.88 L183.80,476.34 L184.43,476.78 L185.06,477.65 L185.69,478.08 L186.27,477.47 L186.85,476.23 L187.43,475.61 L188.02,476.16 L188.60,477.25 L189.18,477.79 L189.81,477.14 L190.44,475.83 L191.07,475.18 L191.70,474.92 L192.33,474.41 L192.96,474.16 L193.54,474.71 L194.12,475.80 L194.70,476.34 L195.28,476.05 L195.86,475.47 L196.44,475.18 L197.07,475.29 L197.70,475.50 L198.33,475.61 L198.88,475.51 L199.42,475.25 L199.97,474.99 L200.51,474.89 L201.24,475.03 L201.96,475.18 L202.54,475.83 L203.13,477.14 L203.71,477.79 L204.34,477.72 L204.97,477.57 L205.59,477.50 L206.32,478.01 L207.05,478.52 L207.68,477.18 L208.31,474.49 L208.94,473.14 L209.52,474.60 L210.10,477.50 L210.68,478.96 L211.22,478.68 L211.77,478.01 L212.31,477.34 L212.86,477.07 L213.40,477.13 L213.95,477.28 L214.49,477.44 L215.04,477.50 L215.58,477.44 L216.13,477.28 L216.67,477.13 L217.22,477.07 L217.76,477.17 L218.31,477.43 L218.85,477.69 L219.40,477.79 L219.94,477.75 L220.49,477.65 L221.03,477.54 L221.58,477.50 L222.12,477.59 L222.67,477.79 L223.21,478.00 L223.76,478.08 L224.30,478.04 L224.85,477.94 L225.39,477.84 L225.93,477.79 L226.48,477.90 L227.02,478.16 L227.57,478.41 L228.11,478.52 L228.62,478.47 L229.13,478.38 L229.63,478.34 L230.18,477.97 L230.72,477.07 L231.27,476.17 L231.81,475.80 L232.54,476.89 L233.26,477.97 L233.81,477.89 L234.35,477.66 L234.90,477.38 L235.44,477.15 L235.99,477.07 L236.59,477.29 L237.20,477.75 L237.80,477.97 L238.39,477.71 L238.98,477.07 L239.57,476.42 L240.16,476.16 L240.77,476.61 L241.37,477.52 L241.98,477.97 L242.52,477.58 L243.07,476.61 L243.61,475.65 L244.16,475.25 L244.76,476.02 L245.37,477.57 L245.97,478.34 L246.58,477.57 L247.19,476.02 L247.79,475.25 L248.40,476.02 L249.00,477.57 L249.61,478.34 L250.21,477.34 L250.82,475.34 L251.42,474.34 L252.03,475.34 L252.63,477.34 L253.24,478.34 L253.84,477.43 L254.45,475.61 L255.05,474.71 L255.66,475.61 L256.26,477.43 L256.87,478.34 L257.48,477.43 L258.08,475.61 L258.69,474.71 L259.29,475.52 L259.90,477.16 L260.50,477.97 L261.11,477.29 L261.71,475.93 L262.32,475.25 L262.92,476.02 L263.53,477.57 L264.13,478.34 L264.68,477.75 L265.22,476.34 L265.77,474.93 L266.31,474.34 L266.92,475.25 L267.52,477.07 L268.13,477.97 L268.73,476.98 L269.34,474.98 L269.94,473.98 L270.55,474.98 L271.15,476.98 L271.76,477.97 L272.37,477.07 L272.97,475.25 L273.58,474.34 L274.18,475.25 L274.79,477.07 L275.39,477.97 L276.00,477.16 L276.60,475.52 L277.21,474.71 L277.81,475.52 L278.42,477.16 L279.02,477.97 L279.61,477.84 L280.20,477.52 L280.79,477.20 L281.38,477.07 L281.97,477.25 L282.56,477.70 L283.15,478.15 L283.74,478.34 L284.29,478.02 L284.83,477.25 L285.38,476.48 L285.92,476.16 L286.47,476.42 L287.01,477.07 L287.56,477.71 L288.10,477.97 L288.69,477.84 L289.28,477.52 L289.87,477.20 L290.46,477.07 L291.05,477.20 L291.64,477.52 L292.23,477.84 L292.82,477.97 L293.43,477.43 L294.03,476.34 L294.64,475.80 L295.18,476.11 L295.73,476.89 L296.27,477.66 L296.82,477.97 L297.42,477.75 L298.03,477.29 L298.63,477.07 L299.22,477.34 L299.80,477.61" fill="none" stroke="#000" stroke-width="1.0" stroke-linejoin="round"/>
<path d="M307.00,478.21 L307.58,478.18 L308.15,478.12 L308.73,478.04 L309.31,477.97 L309.89,477.95 L310.44,477.97 L311.00,478.05 L311.55,478.15 L312.11,478.26 L312.66,478.37 L313.22,478.44 L313.77,478.47 L314.33,478.45 L314.88,478.42 L315.44,478.37 L315.99,478.31 L316.55,478.26 L317.10,478.22 L317.66,478.21 L318.21,478.23 L318.77,478.30 L319.32,478.41 L319.88,478.52 L320.43,478.63 L320.99,478.70 L321.54,478.73 L322.06,478.71 L322.58,478.65 L323.10,478.57 L323.62,478.46 L324.13,478.34 L324.65,478.22 L325.17,478.11 L325.69,478.02 L326.21,477.97 L326.73,477.95 L327.24,477.96 L327.76,478.00 L328.28,478.05 L328.80,478.13 L329.32,478.21 L329.83,478.29 L330.35,478.36 L330.87,478.42 L331.39,478.45 L331.91,478.47 L332.42,478.46 L332.94,478.44 L333.46,478.41 L333.98,478.38 L334.50,478.34 L335.02,478.30 L335.53,478.26 L336.05,478.23 L336.57,478.21 L337.09,478.21 L337.61,478.22 L338.12,478.26 L338.64,478.31 L339.16,478.39 L339.68,478.47 L340.20,478.55 L340.72,478.62 L341.23,478.68 L341.75,478.71 L342.27,478.73 L342.79,478.72 L343.31,478.70 L343.82,478.67 L344.34,478.64 L344.86,478.60 L345.38,478.56 L345.90,478.52 L346.41,478.49 L346.93,478.47 L347.45,478.47 L347.97,478.46 L348.49,478.44 L349.01,478.41 L349.52,478.38 L350.04,478.34 L350.56,478.30 L351.08,478.26 L351.60,478.23 L352.11,478.21 L352.63,478.21 L353.15,478.22 L353.67,478.26 L354.19,478.31 L354.70,478.39 L355.22,478.47 L355.74,478.55 L356.26,478.62 L356.78,478.68 L357.30,478.71 L357.81,478.73 L358.33,478.71 L358.85,478.68 L359.37,478.62 L359.89,478.55 L360.40,478.47 L360.92,478.39 L361.44,478.31 L361.96,478.26 L362.48,478.22 L362.99,478.21 L363.51,478.22 L364.03,478.26 L364.55,478.31 L365.07,478.39 L365.59,478.47 L366.10,478.55 L366.62,478.62 L367.14,478.68 L367.66,478.71 L368.18,478.73 L368.69,478.72 L369.21,478.70 L369.73,478.67 L370.25,478.64 L370.77,478.60 L371.28,478.56 L371.80,478.52 L372.32,478.49 L372.84,478.47 L373.36,478.47 L373.88,478.46 L374.39,478.44 L374.91,478.41 L375.43,478.38 L375.95,478.34 L376.47,478.30 L376.98,478.26 L377.50,478.23 L378.02,478.21 L378.54,478.21 L379.09,478.18 L379.65,478.11 L380.20,478.01 L380.76,477.89 L381.31,477.79 L381.87,477.71 L382.42,477.69 L382.94,477.59 L383.46,477.33 L383.98,477.01 L384.50,476.75 L385.02,476.65 L385.53,476.80 L386.05,477.19 L386.57,477.67 L387.09,478.06 L387.61,478.21 L388.12,478.11 L388.64,477.85 L389.16,477.53 L389.68,477.27 L390.20,477.17 L390.76,477.10 L391.32,476.91 L391.88,476.65 L392.44,476.39 L393.00,476.20 L393.56,476.13 L394.08,476.28 L394.60,476.67 L395.12,477.15 L395.64,477.54 L396.16,477.69 L396.67,477.59 L397.19,477.33 L397.71,477.01 L398.23,476.75 L398.75,476.65 L399.26,476.76 L399.78,477.04 L400.30,477.43 L400.82,477.82 L401.34,478.10 L401.85,478.21 L402.37,478.14 L402.89,477.95 L403.41,477.69 L403.93,477.43 L404.45,477.24 L404.96,477.17 L405.53,477.24 L406.09,477.43 L406.65,477.69 L407.21,477.95 L407.77,478.14 L408.33,478.21 L408.85,478.11 L409.37,477.85 L409.89,477.53 L410.40,477.27 L410.92,477.17 L411.56,476.65 L412.20,476.13" fill="none" stroke="#000" stroke-width="1.0" stroke-linejoin="round"/>
<path d="M37.30,523.97 L37.63,521.25 L37.96,518.52 L38.51,522.06 L39.05,525.60 L39.43,533.50 L39.81,541.40 L40.52,526.15 L41.23,510.90 L41.74,518.52 L42.25,533.78 L42.76,541.40 L43.34,538.41 L43.92,532.41 L44.50,529.42 L44.88,534.32 L45.26,539.22 L45.81,535.41 L46.35,527.78 L46.90,523.97 L47.44,533.50 L47.99,543.04 L48.53,535.82 L49.07,521.38 L49.62,514.16 L50.16,528.06 L50.71,541.95 L51.25,537.45 L51.80,528.46 L52.34,523.97 L53.00,533.23 L53.65,542.49 L54.36,536.50 L55.07,530.51 L55.78,536.77 L56.48,543.04 L57.10,534.95 L57.72,518.77 L58.34,510.68 L58.88,527.13 L59.43,543.58 L60.04,541.27 L60.66,536.64 L61.28,534.32 L61.71,535.68 L62.15,537.05 L62.69,529.42 L63.24,521.79 L63.89,530.51 L64.55,539.22 L65.20,534.05 L65.85,523.70 L66.51,518.52 L67.05,523.43 L67.60,533.23 L68.14,538.13 L68.69,536.50 L69.23,533.23 L69.78,531.60 L70.21,537.05 L70.65,542.49 L71.16,532.41 L71.66,512.26 L72.17,502.18 L72.83,512.53 L73.48,533.23 L74.13,543.58 L74.68,540.86 L75.22,538.13 L75.88,532.14 L76.53,520.16 L77.19,514.16 L77.80,520.97 L78.42,534.59 L79.04,541.40 L79.13,542.40 L79.23,543.39 L79.74,542.03 L80.25,539.30 L80.76,537.94 L81.30,539.58 L81.84,541.21 L82.55,534.67 L83.26,528.13 L83.97,536.03 L84.68,543.93 L85.33,542.84 L85.99,541.75 L86.53,541.48 L87.07,540.94 L87.62,540.66 L88.16,540.80 L88.71,541.07 L89.25,541.21 L89.80,540.12 L90.34,539.03 L90.89,539.71 L91.43,541.07 L91.98,541.75 L92.52,540.80 L93.07,538.89 L93.61,537.94 L94.16,539.44 L94.70,542.44 L95.25,543.93 L95.79,542.03 L96.34,538.21 L96.88,536.31 L97.43,537.12 L97.97,538.76 L98.52,539.58 L99.06,539.17 L99.60,538.35 L100.15,537.94 L100.69,537.53 L101.24,536.71 L101.78,536.31 L102.49,535.49 L103.20,534.67 L103.71,536.58 L104.22,540.39 L104.73,542.30 L105.38,539.58 L106.03,534.13 L106.69,531.40 L107.34,528.68 L107.99,525.96 L108.58,530.31 L109.16,539.03 L109.74,543.39 L110.34,541.47 L110.94,536.85 L111.54,532.23 L112.13,530.31 L112.79,533.31 L113.44,539.30 L114.10,542.30 L114.71,541.75 L115.33,540.66 L115.95,540.12 L116.49,539.85 L117.04,539.30 L117.58,539.03 L117.89,537.96 L118.20,536.89 L118.83,538.70 L119.46,542.34 L120.08,544.15 L120.71,543.79 L121.34,543.06 L121.97,542.70 L122.48,542.44 L122.99,541.83 L123.50,541.21 L124.01,540.96 L124.64,541.75 L125.27,543.35 L125.90,544.15 L126.48,543.85 L127.06,543.05 L127.64,542.06 L128.22,541.26 L128.80,540.96 L129.35,541.42 L129.89,542.55 L130.44,543.68 L130.98,544.15 L131.53,544.05 L132.07,543.79 L132.62,543.53 L133.16,543.42 L133.71,543.00 L134.25,541.97 L134.80,540.94 L135.34,540.52 L135.88,541.05 L136.43,542.34 L136.97,543.62 L137.52,544.15 L138.06,543.90 L138.61,543.28 L139.15,542.66 L139.70,542.41 L140.42,542.70 L141.15,542.99 L141.67,542.82 L142.20,542.39 L142.72,541.85 L143.24,541.41 L143.77,541.25 L144.28,541.63 L144.78,542.55 L145.29,543.48 L145.80,543.86 L146.43,543.64 L147.06,543.21 L147.69,542.99 L148.23,543.12 L148.78,543.42 L149.32,543.73 L149.87,543.86 L150.41,543.65 L150.96,543.13 L151.50,542.62 L152.05,542.41 L152.59,542.66 L153.14,543.28 L153.68,543.90 L154.23,544.15 L154.77,544.11 L155.32,544.01 L155.86,543.90 L156.41,543.86 L156.95,543.73 L157.50,543.42 L158.04,543.12 L158.59,542.99 L159.13,543.16 L159.68,543.57 L160.22,543.98 L160.76,544.15 L161.31,544.05 L161.85,543.79 L162.40,543.53 L162.94,543.42 L163.49,543.21 L164.03,542.70 L164.58,542.18 L165.12,541.97 L165.67,542.29 L166.21,543.06 L166.76,543.83 L167.30,544.15 L167.88,542.70 L168.47,539.79 L169.05,538.34 L169.68,539.72 L170.31,542.48 L170.93,543.86 L171.48,543.48 L172.02,542.55 L172.57,541.63 L173.11,541.25 L173.37,540.52 L173.63,539.79 L174.36,540.37 L175.08,540.96 L175.81,540.01 L176.54,539.07 L177.17,540.16 L177.80,542.34 L178.43,543.42 L178.94,543.49 L179.44,543.64 L179.95,543.80 L180.46,543.86 L181.04,543.01 L181.62,540.96 L182.20,538.90 L182.79,538.05 L183.37,539.57 L183.95,542.63 L184.53,544.15 L185.07,544.19 L185.62,544.30 L186.16,544.40 L186.71,544.44 L187.25,543.93 L187.80,542.70 L188.34,541.47 L188.89,540.96 L189.47,541.83 L190.05,543.57 L190.63,544.44 L191.15,544.41 L191.68,544.34 L192.20,544.25 L192.72,544.18 L193.25,544.15 L193.79,544.11 L194.34,544.01 L194.88,543.90 L195.42,543.86 L195.97,543.95 L196.51,544.15 L197.06,544.36 L197.60,544.44 L198.15,544.36 L198.69,544.15 L199.24,543.95 L199.78,543.86 L200.33,543.95 L200.87,544.15 L201.42,544.36 L201.96,544.44 L202.51,544.36 L203.05,544.15 L203.60,543.95 L204.14,543.86 L204.69,543.90 L205.23,544.01 L205.78,544.11 L206.32,544.15 L206.87,544.11 L207.41,544.01 L207.96,543.90 L208.50,543.86 L209.05,544.01 L209.59,544.37 L210.14,544.73 L210.68,544.88 L211.20,544.70 L211.73,544.23 L212.25,543.64 L212.77,543.17 L213.30,542.99 L213.88,543.35 L214.46,544.08 L215.04,544.44 L215.58,544.36 L216.13,544.15 L216.67,543.95 L217.22,543.86 L217.76,543.95 L218.31,544.15 L218.85,544.36 L219.40,544.44 L219.94,544.36 L220.49,544.15 L221.03,543.95 L221.58,543.86 L222.19,543.37 L222.81,542.19 L223.43,541.01 L224.05,540.52 L224.68,541.50 L225.31,543.46 L225.93,544.44 L226.48,544.29 L227.02,543.93 L227.57,543.57 L228.11,543.42 L228.42,543.06 L228.72,542.70 L229.31,542.30 L229.90,541.34 L230.49,540.37 L231.08,539.97 L231.69,540.88 L232.30,542.70 L232.90,543.61 L233.51,543.24 L234.11,542.52 L234.72,542.15 L235.32,542.43 L235.93,542.97 L236.53,543.24 L237.14,543.11 L237.74,542.83 L238.35,542.70 L238.86,542.79 L239.36,543.01 L239.87,543.29 L240.38,543.52 L240.89,543.61 L241.48,543.66 L242.07,543.79 L242.66,543.92 L243.25,543.97 L243.80,543.93 L244.34,543.84 L244.89,543.73 L245.43,543.64 L245.97,543.61 L246.58,543.24 L247.19,542.52 L247.79,542.15 L248.40,542.43 L249.00,542.97 L249.61,543.24 L250.21,543.42 L250.82,543.79 L251.42,543.97 L251.97,543.93 L252.51,543.84 L253.06,543.73 L253.60,543.64 L254.15,543.61 L254.69,543.64 L255.24,543.73 L255.78,543.84 L256.33,543.93 L256.87,543.97 L257.41,543.93 L257.96,543.84 L258.50,543.73 L259.05,543.64 L259.59,543.61 L260.14,543.64 L260.68,543.73 L261.23,543.84 L261.77,543.93 L262.32,543.97 L262.86,543.76 L263.41,543.22 L263.95,542.54 L264.50,542.00 L265.04,541.79 L265.63,541.39 L266.22,540.43 L266.81,539.47 L267.40,539.07 L268.01,539.66 L268.61,540.84 L269.22,541.43 L269.82,540.61 L270.43,538.98 L271.03,538.16 L271.64,539.29 L272.24,541.56 L272.85,542.70 L273.45,541.47 L274.06,539.02 L274.67,537.80 L275.21,538.70 L275.75,540.88 L276.30,543.07 L276.84,543.97 L277.45,543.88 L278.05,543.70 L278.66,543.61 L279.21,542.81 L279.75,540.88 L280.29,538.96 L280.84,538.16 L281.43,539.01 L282.02,541.06 L282.61,543.12 L283.20,543.97 L283.79,543.60 L284.38,542.70 L284.97,541.80 L285.56,541.43 L286.11,541.80 L286.65,542.70 L287.19,543.60 L287.74,543.97 L288.28,543.85 L288.83,543.53 L289.37,543.14 L289.92,542.82 L290.46,542.70 L291.05,542.83 L291.64,543.15 L292.23,543.47 L292.82,543.61 L293.37,543.55 L293.91,543.42 L294.46,543.30 L295.00,543.24 L295.55,543.30 L296.09,543.42 L296.64,543.55 L297.18,543.61 L297.77,543.34 L298.36,542.70 L298.95,542.06 L299.54,541.79 L299.67,541.97 L299.80,542.15" fill="none" stroke="#000" stroke-width="1.0" stroke-linejoin="round"/>
<path d="M307.00,544.80 L307.53,544.65 L308.05,544.28 L308.58,543.91 L309.11,543.76 L309.63,543.71 L310.15,543.58 L310.66,543.42 L311.18,543.29 L311.70,543.24 L312.22,543.34 L312.74,543.60 L313.25,543.92 L313.77,544.18 L314.29,544.28 L314.85,544.26 L315.41,544.22 L315.97,544.15 L316.54,544.09 L317.10,544.04 L317.66,544.02 L318.18,543.90 L318.69,543.57 L319.21,543.17 L319.73,542.85 L320.25,542.73 L320.77,542.87 L321.28,543.26 L321.80,543.74 L322.32,544.13 L322.84,544.28 L323.39,544.31 L323.95,544.38 L324.50,544.48 L325.06,544.60 L325.62,544.70 L326.17,544.77 L326.73,544.80 L327.28,544.80 L327.84,544.80 L328.39,544.80 L328.95,544.80 L329.50,544.80 L330.06,544.80 L330.61,544.80 L331.17,544.77 L331.72,544.70 L332.28,544.60 L332.83,544.48 L333.39,544.38 L333.94,544.31 L334.50,544.28 L335.05,544.31 L335.61,544.38 L336.16,544.48 L336.72,544.60 L337.27,544.70 L337.83,544.77 L338.38,544.80 L338.94,544.75 L339.49,544.60 L340.05,544.40 L340.60,544.16 L341.16,543.96 L341.71,543.81 L342.27,543.76 L342.82,543.74 L343.38,543.66 L343.93,543.56 L344.49,543.44 L345.05,543.34 L345.60,543.27 L346.16,543.24 L346.67,543.34 L347.19,543.60 L347.71,543.92 L348.23,544.18 L348.75,544.28 L349.26,544.13 L349.78,543.74 L350.30,543.26 L350.82,542.87 L351.34,542.73 L351.94,543.11 L352.55,543.89 L353.15,544.28 L353.67,543.75 L354.19,542.47 L354.70,541.18 L355.22,540.65 L355.74,541.18 L356.26,542.47 L356.78,543.75 L357.30,544.28 L357.81,544.25 L358.33,544.15 L358.85,544.02 L359.37,543.89 L359.89,543.80 L360.40,543.76 L360.96,543.79 L361.51,543.86 L362.07,543.96 L362.62,544.08 L363.18,544.18 L363.74,544.25 L364.29,544.28 L364.85,544.23 L365.40,544.08 L365.96,543.88 L366.51,543.65 L367.07,543.44 L367.62,543.29 L368.18,543.24 L368.69,543.34 L369.21,543.60 L369.73,543.92 L370.25,544.18 L370.77,544.28 L371.28,544.33 L371.80,544.46 L372.32,544.62 L372.84,544.75 L373.36,544.80 L373.91,544.76 L374.47,544.65 L375.02,544.50 L375.58,544.32 L376.13,544.17 L376.69,544.06 L377.24,544.02 L377.80,543.98 L378.35,543.87 L378.91,543.72 L379.46,543.55 L380.02,543.39 L380.57,543.28 L381.13,543.24 L381.68,543.27 L382.24,543.34 L382.79,543.44 L383.35,543.56 L383.91,543.66 L384.46,543.74 L385.02,543.76 L385.58,543.61 L386.14,543.18 L386.70,542.60 L387.26,542.01 L387.82,541.59 L388.38,541.43 L388.90,541.70 L389.42,542.41 L389.94,543.30 L390.46,544.01 L390.97,544.28 L391.49,544.20 L392.01,543.99 L392.53,543.68 L393.05,543.33 L393.56,543.02 L394.08,542.80 L394.60,542.73 L395.12,542.65 L395.64,542.47 L396.16,542.28 L396.67,542.21 L397.19,542.41 L397.71,542.92 L398.23,543.56 L398.75,544.08 L399.26,544.28 L399.78,544.21 L400.30,544.02 L400.82,543.76 L401.34,543.50 L401.85,543.31 L402.37,543.24 L402.93,543.31 L403.50,543.50 L404.06,543.76 L404.62,544.02 L405.18,544.21 L405.74,544.28 L406.30,544.18 L406.86,543.89 L407.42,543.50 L407.99,543.11 L408.55,542.83 L409.11,542.73 L409.62,542.69 L410.14,542.60 L410.65,542.47 L411.17,542.34 L411.68,542.24 L412.20,542.21" fill="none" stroke="#000" stroke-width="1.0" stroke-linejoin="round"/>
<path d="M37.30,598.69 L37.63,595.96 L37.96,593.24 L38.51,598.14 L39.05,603.05 L39.43,598.69 L39.81,594.33 L40.36,600.32 L40.90,606.31 L41.45,600.87 L41.99,595.42 L42.54,601.41 L43.08,607.40 L43.63,604.95 L44.17,600.05 L44.72,597.60 L45.37,601.41 L46.02,605.22 L46.57,601.96 L47.11,598.69 L47.66,604.13 L48.20,609.58 L48.91,599.78 L49.62,589.97 L50.33,599.23 L51.04,608.49 L51.69,603.59 L52.34,598.69 L52.89,600.32 L53.43,601.96 L54.09,600.32 L54.74,598.69 L55.45,604.13 L56.16,609.58 L56.70,605.83 L57.25,596.78 L57.79,587.73 L58.34,583.98 L58.88,590.38 L59.43,603.18 L59.97,609.58 L60.62,606.86 L61.28,601.41 L61.93,598.69 L62.55,597.19 L63.17,594.19 L63.78,592.69 L64.33,600.05 L64.87,607.40 L65.42,600.87 L65.96,587.79 L66.51,581.25 L67.05,586.43 L67.60,596.78 L68.14,601.96 L68.69,604.68 L69.23,607.40 L69.34,608.67 L69.45,609.93 L70.05,602.71 L70.66,585.29 L71.26,567.87 L71.87,560.65 L72.47,567.87 L73.08,585.29 L73.69,602.71 L74.29,609.93 L74.85,606.29 L75.40,596.75 L75.96,584.97 L76.52,575.43 L77.08,571.79 L77.68,577.38 L78.29,590.86 L78.89,604.34 L79.50,609.93 L80.06,607.35 L80.63,602.21 L81.19,599.64 L81.72,596.91 L82.24,591.46 L82.77,588.74 L83.37,594.04 L83.98,604.63 L84.58,609.93 L85.19,608.26 L85.79,604.93 L86.40,603.27 L86.92,603.57 L87.45,604.18 L87.97,604.48 L88.70,605.08 L89.42,605.69 L90.03,605.24 L90.63,604.33 L91.24,603.87 L91.75,603.43 L92.27,602.36 L92.78,601.29 L93.30,600.85 L93.82,602.06 L94.35,604.48 L94.87,605.69 L95.48,604.93 L96.08,603.42 L96.69,602.66 L97.29,603.12 L97.90,604.03 L98.50,604.48 L99.11,604.78 L99.71,605.39 L100.32,605.69 L100.92,605.99 L101.53,606.60 L102.14,606.90 L102.74,606.17 L103.35,605.45 L103.87,606.11 L104.40,607.45 L104.92,608.11 L105.49,607.81 L106.05,607.20 L106.62,606.90 L107.14,605.54 L107.66,602.81 L108.19,601.45 L108.79,602.81 L109.40,605.54 L110.00,606.90 L110.61,606.75 L111.22,606.45 L111.82,606.30 L112.00,606.04 L112.18,605.79 L112.72,606.39 L113.27,607.83 L113.81,609.27 L114.36,609.86 L114.90,609.69 L115.45,609.28 L115.99,608.87 L116.54,608.70 L117.17,609.06 L117.80,609.79 L118.43,610.15 L118.94,610.05 L119.44,609.79 L119.95,609.53 L120.46,609.42 L121.04,609.49 L121.62,609.64 L122.20,609.80 L122.79,609.86 L123.37,609.21 L123.95,607.90 L124.53,607.25 L125.11,607.90 L125.69,609.21 L126.27,609.86 L126.85,609.31 L127.43,607.97 L128.02,606.64 L128.60,606.08 L129.18,606.45 L129.76,607.17 L130.34,607.54 L131.07,608.26 L131.79,608.99 L132.32,608.79 L132.84,608.29 L133.36,607.66 L133.88,607.15 L134.41,606.96 L134.99,607.68 L135.57,609.13 L136.15,609.86 L136.70,609.73 L137.24,609.42 L137.79,609.12 L138.33,608.99 L138.95,609.12 L139.57,609.42 L140.18,609.73 L140.80,609.86 L141.43,609.39 L142.06,608.44 L142.69,607.97 L143.32,608.52 L143.95,609.61 L144.58,610.15 L145.20,609.90 L145.81,609.28 L146.43,608.66 L147.05,608.41 L147.59,608.62 L148.14,609.13 L148.68,609.65 L149.23,609.86 L149.81,609.54 L150.39,608.71 L150.97,607.67 L151.55,606.84 L152.13,606.52 L152.68,607.05 L153.22,608.34 L153.77,609.62 L154.31,610.15 L154.86,609.83 L155.40,609.06 L155.95,608.29 L156.49,607.97 L157.04,607.82 L157.58,607.46 L158.13,607.10 L158.67,606.96 L159.22,607.38 L159.76,608.41 L160.31,609.44 L160.85,609.86 L161.39,609.65 L161.94,609.13 L162.48,608.62 L163.03,608.41 L163.57,608.49 L164.12,608.70 L164.66,608.90 L165.21,608.99 L165.75,608.73 L166.30,608.12 L166.84,607.50 L167.39,607.25 L168.01,605.79 L168.63,604.34 L169.26,605.50 L169.89,607.83 L170.52,608.99 L171.10,608.92 L171.68,608.77 L172.26,608.70 L172.81,608.06 L173.35,606.52 L173.90,604.98 L174.44,604.34 L175.07,605.50 L175.70,607.83 L176.33,608.99 L177.06,608.12 L177.79,607.25 L178.37,607.90 L178.95,609.21 L179.53,609.86 L180.06,609.49 L180.59,608.48 L181.13,607.10 L181.66,605.72 L182.19,604.71 L182.72,604.34 L183.31,605.15 L183.89,607.10 L184.47,609.05 L185.05,609.86 L185.67,609.90 L186.28,610.01 L186.90,610.11 L187.52,610.15 L188.06,610.05 L188.61,609.79 L189.15,609.53 L189.70,609.42 L190.42,608.19 L191.15,606.96 L191.73,607.75 L192.31,609.35 L192.89,610.15 L193.52,610.08 L194.15,609.93 L194.78,609.86 L195.41,609.50 L196.04,608.77 L196.67,608.41 L197.25,608.84 L197.83,609.72 L198.42,610.15 L199.00,610.18 L199.58,610.25 L200.16,610.34 L200.74,610.41 L201.32,610.44 L201.90,610.41 L202.48,610.34 L203.06,610.25 L203.65,610.18 L204.23,610.15 L204.81,610.12 L205.39,610.05 L205.97,609.96 L206.55,609.89 L207.13,609.86 L207.71,609.92 L208.30,610.06 L208.88,610.24 L209.46,610.39 L210.04,610.44 L210.58,610.40 L211.13,610.30 L211.67,610.19 L212.22,610.15 L212.76,609.83 L213.31,609.06 L213.85,608.29 L214.40,607.97 L214.98,608.52 L215.56,609.61 L216.14,610.15 L216.77,610.08 L217.40,609.93 L218.03,609.86 L218.66,609.64 L219.29,609.21 L219.92,608.99 L220.50,609.28 L221.08,609.86 L221.66,610.15 L222.21,609.73 L222.75,608.70 L223.30,607.67 L223.84,607.25 L223.88,607.21 L223.92,607.18 L224.58,607.86 L225.23,609.24 L225.88,609.92 L226.47,609.81 L227.06,609.53 L227.65,609.25 L228.24,609.14 L228.75,609.08 L229.25,608.93 L229.76,608.75 L230.27,608.61 L230.78,608.55 L231.44,608.89 L232.09,609.58 L232.75,609.92 L233.33,609.98 L233.92,610.12 L234.51,610.31 L235.10,610.45 L235.69,610.51 L236.27,610.45 L236.86,610.31 L237.45,610.12 L238.04,609.98 L238.63,609.92 L239.22,609.98 L239.80,610.12 L240.39,610.31 L240.98,610.45 L241.57,610.51 L242.16,610.45 L242.75,610.31 L243.33,610.12 L243.92,609.98 L244.51,609.92 L245.10,609.98 L245.69,610.12 L246.27,610.31 L246.86,610.45 L247.45,610.51 L248.04,610.14 L248.63,609.24 L249.22,608.33 L249.80,607.96 L250.46,608.60 L251.11,609.87 L251.76,610.51 L252.27,610.51 L252.78,610.51 L253.29,610.51 L253.80,610.51 L254.31,610.51 L254.90,610.45 L255.49,610.31 L256.08,610.12 L256.67,609.98 L257.25,609.92 L257.84,609.85 L258.43,609.65 L259.02,609.41 L259.61,609.21 L260.20,609.14 L260.78,609.21 L261.37,609.41 L261.96,609.65 L262.55,609.85 L263.14,609.92 L263.73,609.47 L264.31,608.30 L264.90,606.84 L265.49,605.67 L266.08,605.22 L266.73,605.80 L267.39,606.98 L268.04,607.57 L268.69,606.83 L269.35,605.36 L270.00,604.63 L270.65,605.75 L271.31,608.01 L271.96,609.14 L272.61,608.25 L273.27,606.49 L273.92,605.61 L274.43,606.02 L274.94,607.10 L275.45,608.43 L275.96,609.51 L276.47,609.92 L277.12,609.82 L277.78,609.63 L278.43,609.53 L279.02,609.01 L279.61,607.76 L280.20,606.52 L280.78,606.00 L281.44,606.98 L282.09,608.94 L282.75,609.92 L283.33,609.85 L283.92,609.65 L284.51,609.41 L285.10,609.21 L285.69,609.14 L286.20,609.21 L286.71,609.41 L287.22,609.65 L287.73,609.85 L288.24,609.92 L288.78,609.70 L289.33,609.11 L289.88,608.38 L290.43,607.79 L290.98,607.57 L291.63,608.16 L292.29,609.33 L292.94,609.92 L293.45,609.85 L293.96,609.65 L294.47,609.41 L294.98,609.21 L295.49,609.14 L296.14,608.75 L296.80,607.96 L297.45,607.57 L298.10,607.81 L298.76,608.30 L299.41,608.55 L299.61,608.65 L299.80,608.75" fill="none" stroke="#000" stroke-width="1.0" stroke-linejoin="round"/>
<path d="M307.00,610.02 L307.53,609.91 L308.05,609.63 L308.58,609.36 L309.11,609.24 L309.63,609.19 L310.15,609.06 L310.66,608.90 L311.18,608.77 L311.70,608.73 L312.22,608.82 L312.74,609.08 L313.25,609.40 L313.77,609.66 L314.29,609.76 L314.85,609.73 L315.41,609.63 L315.97,609.50 L316.54,609.37 L317.10,609.28 L317.66,609.24 L318.22,609.14 L318.78,608.85 L319.34,608.47 L319.90,608.08 L320.46,607.79 L321.03,607.69 L321.63,608.21 L322.23,609.24 L322.84,609.76 L323.39,609.79 L323.95,609.86 L324.50,609.96 L325.06,610.08 L325.62,610.18 L326.17,610.25 L326.73,610.28 L327.28,610.27 L327.84,610.23 L328.39,610.18 L328.95,610.12 L329.50,610.07 L330.06,610.03 L330.61,610.02 L331.17,610.03 L331.72,610.07 L332.28,610.12 L332.83,610.18 L333.39,610.23 L333.94,610.27 L334.50,610.28 L335.05,610.27 L335.61,610.23 L336.16,610.18 L336.72,610.12 L337.27,610.07 L337.83,610.03 L338.38,610.02 L338.94,610.03 L339.49,610.07 L340.05,610.12 L340.60,610.18 L341.16,610.23 L341.71,610.27 L342.27,610.28 L342.82,610.23 L343.38,610.08 L343.93,609.88 L344.49,609.65 L345.05,609.44 L345.60,609.29 L346.16,609.24 L346.72,609.30 L347.28,609.44 L347.84,609.63 L348.40,609.83 L348.96,609.97 L349.52,610.02 L350.04,609.90 L350.56,609.57 L351.08,609.17 L351.60,608.85 L352.11,608.73 L352.63,608.62 L353.15,608.34 L353.67,607.95 L354.19,607.56 L354.70,607.28 L355.22,607.17 L355.74,607.59 L356.26,608.60 L356.78,609.60 L357.30,610.02 L357.81,610.00 L358.33,609.96 L358.85,609.89 L359.37,609.83 L359.89,609.78 L360.40,609.76 L360.96,609.79 L361.51,609.86 L362.07,609.96 L362.62,610.08 L363.18,610.18 L363.74,610.25 L364.29,610.28 L364.85,610.27 L365.40,610.23 L365.96,610.18 L366.51,610.12 L367.07,610.07 L367.62,610.03 L368.18,610.02 L368.73,610.03 L369.29,610.07 L369.84,610.12 L370.40,610.18 L370.95,610.23 L371.51,610.27 L372.06,610.28 L372.58,610.28 L373.10,610.28 L373.62,610.28 L374.13,610.28 L374.65,610.28 L375.21,610.25 L375.76,610.18 L376.32,610.08 L376.87,609.96 L377.43,609.86 L377.98,609.79 L378.54,609.76 L379.06,609.66 L379.58,609.37 L380.09,608.98 L380.61,608.60 L381.13,608.31 L381.65,608.21 L382.17,608.43 L382.68,608.98 L383.20,609.53 L383.72,609.76 L384.24,609.70 L384.76,609.52 L385.27,609.24 L385.79,608.91 L386.31,608.55 L386.83,608.21 L387.35,607.93 L387.87,607.75 L388.38,607.69 L388.90,607.91 L389.42,608.49 L389.94,609.22 L390.46,609.80 L390.97,610.02 L391.49,609.96 L392.01,609.78 L392.53,609.52 L393.05,609.23 L393.56,608.97 L394.08,608.79 L394.60,608.73 L395.12,608.77 L395.64,608.90 L396.16,609.06 L396.67,609.19 L397.19,609.24 L397.71,609.32 L398.23,609.51 L398.75,609.75 L399.26,609.95 L399.78,610.02 L400.34,609.90 L400.91,609.57 L401.47,609.11 L402.03,608.66 L402.59,608.33 L403.15,608.21 L403.67,608.38 L404.19,608.83 L404.70,609.39 L405.22,609.85 L405.74,610.02 L406.30,609.93 L406.86,609.70 L407.42,609.37 L407.99,609.05 L408.55,608.81 L409.11,608.73 L409.62,608.76 L410.14,608.85 L410.65,608.98 L411.17,609.11 L411.68,609.21 L412.20,609.24" fill="none" stroke="#000" stroke-width="1.0" stroke-linejoin="round"/>
<path d="M37.30,670.13 L37.74,668.50 L38.18,666.87 L38.72,670.41 L39.27,673.95 L39.92,669.86 L40.58,665.78 L41.12,670.41 L41.67,675.04 L42.37,670.41 L43.08,665.78 L43.63,665.50 L44.17,665.23 L44.72,669.32 L45.26,673.40 L45.81,671.22 L46.35,666.87 L46.90,664.69 L47.33,665.23 L47.77,665.78 L48.15,670.41 L48.53,675.04 L49.24,669.32 L49.95,663.60 L50.60,668.50 L51.25,673.40 L51.91,669.05 L52.56,664.69 L53.27,668.23 L53.98,671.77 L54.36,670.95 L54.74,670.13 L55.45,672.31 L56.16,674.49 L56.70,671.78 L57.25,665.23 L57.79,658.68 L58.34,655.97 L58.88,665.50 L59.43,675.04 L59.97,674.24 L60.52,672.31 L61.06,670.39 L61.60,669.59 L62.15,668.09 L62.69,665.10 L63.24,663.60 L63.78,667.96 L64.33,672.31 L64.87,670.40 L65.42,665.78 L65.96,661.15 L66.51,659.24 L67.05,661.83 L67.60,667.00 L68.14,669.59 L68.69,672.31 L69.23,675.04 L69.78,672.78 L70.32,666.87 L70.87,659.56 L71.41,653.65 L71.96,651.39 L72.50,654.86 L73.05,663.22 L73.59,671.58 L74.13,675.04 L74.79,673.68 L75.44,672.31 L76.02,669.32 L76.60,663.32 L77.19,660.33 L77.80,663.87 L78.42,670.95 L79.04,674.49 L79.33,672.31 L79.63,670.13 L80.06,672.31 L80.50,674.49 L81.12,672.44 L81.73,668.36 L82.35,666.31 L82.90,668.63 L83.44,673.26 L83.99,675.58 L84.53,675.44 L85.07,675.17 L85.62,675.03 L86.16,674.49 L86.71,673.40 L87.25,672.85 L87.91,672.20 L88.56,671.54 L89.27,673.01 L89.98,674.49 L90.52,674.35 L91.07,674.08 L91.61,673.94 L92.16,673.34 L92.70,672.14 L93.25,671.54 L93.79,671.38 L94.34,671.05 L94.88,670.89 L95.53,671.05 L96.19,671.38 L96.84,671.54 L97.50,671.22 L98.15,670.89 L98.69,671.11 L99.24,671.54 L99.78,671.76 L100.33,673.12 L100.87,674.49 L101.58,674.21 L102.29,673.94 L102.94,673.12 L103.60,672.31 L104.25,673.67 L104.90,675.03 L105.49,675.17 L106.07,675.44 L106.65,675.58 L107.16,674.84 L107.66,673.37 L108.17,672.63 L108.88,674.10 L109.59,675.58 L110.13,675.71 L110.68,675.98 L111.22,676.12 L111.77,675.98 L112.31,675.71 L112.86,675.58 L113.40,675.66 L113.95,675.82 L114.49,675.90 L115.04,675.82 L115.58,675.66 L116.13,675.58 L116.72,675.67 L117.31,675.87 L117.91,675.97 L118.49,675.93 L119.07,675.82 L119.65,675.69 L120.23,675.58 L120.81,675.54 L121.36,675.60 L121.90,675.75 L122.45,675.91 L122.99,675.97 L123.62,675.50 L124.25,674.56 L124.88,674.08 L125.46,674.56 L126.04,675.50 L126.62,675.97 L127.20,675.83 L127.79,675.47 L128.37,675.02 L128.95,674.66 L129.53,674.52 L130.07,674.73 L130.62,675.25 L131.16,675.76 L131.71,675.97 L132.25,675.82 L132.80,675.46 L133.34,675.10 L133.89,674.96 L134.43,675.10 L134.98,675.46 L135.52,675.82 L136.07,675.97 L136.61,675.91 L137.16,675.75 L137.70,675.60 L138.25,675.54 L138.77,675.58 L139.29,675.69 L139.81,675.82 L140.34,675.93 L140.86,675.97 L141.44,675.79 L142.02,675.43 L142.60,675.25 L143.15,675.20 L143.69,675.10 L144.24,675.00 L144.78,674.96 L145.33,674.74 L145.87,674.23 L146.42,673.72 L146.96,673.50 L147.51,673.86 L148.05,674.74 L148.60,675.61 L149.14,675.97 L149.76,675.40 L150.38,674.01 L150.99,672.62 L151.61,672.05 L152.24,672.67 L152.87,673.90 L153.50,674.52 L154.13,674.88 L154.76,675.61 L155.39,675.97 L155.90,675.48 L156.41,674.30 L156.91,673.12 L157.42,672.63 L158.05,673.47 L158.68,675.14 L159.31,675.97 L159.86,675.61 L160.40,674.74 L160.95,673.86 L161.49,673.50 L162.04,673.86 L162.58,674.74 L163.13,675.61 L163.67,675.97 L164.22,675.65 L164.76,674.88 L165.31,674.11 L165.85,673.79 L166.43,674.08 L167.01,674.66 L167.59,674.96 L168.32,672.78 L169.05,670.60 L169.68,671.69 L170.31,673.87 L170.93,674.96 L171.48,674.61 L172.02,673.79 L172.57,672.97 L173.11,672.63 L173.74,672.12 L174.36,671.61 L174.94,672.45 L175.52,674.12 L176.10,674.96 L176.68,674.23 L177.26,673.50 L177.85,674.12 L178.43,675.35 L179.01,675.97 L179.64,675.86 L180.27,675.65 L180.90,675.54 L181.53,674.56 L182.16,672.59 L182.79,671.61 L183.37,672.70 L183.95,674.88 L184.53,675.97 L185.07,675.91 L185.62,675.75 L186.16,675.60 L186.71,675.54 L187.25,675.60 L187.80,675.75 L188.34,675.91 L188.89,675.97 L189.41,675.69 L189.93,674.97 L190.46,674.07 L190.98,673.34 L191.50,673.07 L192.08,673.79 L192.66,675.25 L193.25,675.97 L193.79,675.97 L194.34,675.97 L194.88,675.97 L195.42,675.97 L196.05,675.43 L196.68,674.34 L197.31,673.79 L197.89,674.34 L198.48,675.43 L199.06,675.97 L199.64,675.97 L200.22,675.97 L200.80,675.97 L201.38,675.97 L201.96,675.97 L202.54,675.97 L203.13,675.97 L203.71,675.97 L204.29,675.97 L204.87,675.97 L205.40,675.87 L205.93,675.61 L206.47,675.25 L207.00,674.88 L207.53,674.62 L208.06,674.52 L208.69,674.99 L209.32,675.94 L209.95,676.41 L210.50,676.34 L211.04,676.19 L211.59,676.04 L212.13,675.97 L212.71,675.61 L213.30,674.88 L213.88,674.52 L214.51,674.88 L215.14,675.61 L215.76,675.97 L216.35,675.93 L216.93,675.82 L217.51,675.69 L218.09,675.58 L218.67,675.54 L219.22,675.60 L219.76,675.75 L220.31,675.91 L220.85,675.97 L221.38,675.73 L221.92,675.06 L222.45,674.16 L222.98,673.25 L223.51,672.58 L224.05,672.34 L224.68,673.25 L225.31,675.06 L225.93,675.97 L226.48,675.87 L227.02,675.61 L227.57,675.35 L228.11,675.25 L228.74,674.84 L229.37,674.02 L229.99,673.61 L230.59,673.93 L231.18,674.70 L231.77,675.47 L232.36,675.79 L232.90,675.83 L233.45,675.92 L233.99,676.03 L234.53,676.12 L235.08,676.15 L235.62,676.12 L236.17,676.03 L236.71,675.92 L237.26,675.83 L237.80,675.79 L238.35,675.83 L238.89,675.92 L239.44,676.03 L239.98,676.12 L240.53,676.15 L241.07,676.12 L241.62,676.03 L242.16,675.92 L242.71,675.83 L243.25,675.79 L243.80,675.83 L244.34,675.92 L244.89,676.03 L245.43,676.12 L245.97,676.15 L246.58,675.97 L247.19,675.61 L247.79,675.43 L248.34,675.21 L248.88,674.70 L249.42,674.19 L249.97,673.97 L250.56,674.29 L251.15,675.06 L251.74,675.83 L252.33,676.15 L252.87,676.12 L253.42,676.03 L253.96,675.92 L254.51,675.83 L255.05,675.79 L255.60,675.83 L256.14,675.92 L256.69,676.03 L257.23,676.12 L257.78,676.15 L258.37,675.89 L258.96,675.25 L259.55,674.60 L260.14,674.34 L260.68,674.55 L261.23,675.06 L261.77,675.58 L262.32,675.79 L262.86,675.65 L263.41,675.29 L263.95,674.84 L264.50,674.48 L265.04,674.34 L265.65,673.88 L266.25,672.98 L266.86,672.52 L267.46,672.98 L268.07,673.88 L268.67,674.34 L269.28,673.70 L269.88,672.43 L270.49,671.80 L271.09,672.70 L271.70,674.52 L272.30,675.43 L272.89,674.82 L273.49,673.34 L274.08,671.86 L274.67,671.25 L275.21,671.86 L275.75,673.34 L276.30,674.82 L276.84,675.43 L277.39,675.32 L277.93,675.05 L278.48,674.71 L279.02,674.44 L279.57,674.34 L280.16,674.60 L280.75,675.25 L281.34,675.89 L281.93,676.15 L282.44,676.08 L282.95,675.90 L283.45,675.68 L283.96,675.50 L284.47,675.43 L285.06,675.53 L285.65,675.79 L286.24,676.05 L286.83,676.15 L287.42,676.10 L288.01,675.97 L288.60,675.84 L289.19,675.79 L289.74,675.66 L290.28,675.34 L290.83,675.02 L291.37,674.88 L291.92,675.07 L292.46,675.52 L293.01,675.97 L293.55,676.15 L294.14,676.05 L294.73,675.79 L295.32,675.53 L295.91,675.43 L296.50,675.53 L297.09,675.79 L297.68,676.05 L298.27,676.15 L298.78,675.84 L299.29,675.20 L299.80,674.88" fill="none" stroke="#000" stroke-width="1.0" stroke-linejoin="round"/>
<path d="M307.00,675.76 L307.53,675.61 L308.05,675.24 L308.58,674.88 L309.11,674.73 L309.63,674.68 L310.15,674.55 L310.66,674.39 L311.18,674.26 L311.70,674.21 L312.22,674.31 L312.74,674.57 L313.25,674.89 L313.77,675.14 L314.29,675.24 L314.85,675.28 L315.41,675.37 L315.97,675.50 L316.54,675.63 L317.10,675.73 L317.66,675.76 L318.18,675.61 L318.69,675.22 L319.21,674.74 L319.73,674.36 L320.25,674.21 L320.77,674.31 L321.28,674.57 L321.80,674.89 L322.32,675.14 L322.84,675.24 L323.39,675.28 L323.95,675.39 L324.50,675.55 L325.06,675.72 L325.62,675.87 L326.17,675.98 L326.73,676.02 L327.28,676.01 L327.84,675.97 L328.39,675.92 L328.95,675.86 L329.50,675.81 L330.06,675.77 L330.61,675.76 L331.17,675.77 L331.72,675.81 L332.28,675.86 L332.83,675.92 L333.39,675.97 L333.94,676.01 L334.50,676.02 L335.05,676.01 L335.61,675.97 L336.16,675.92 L336.72,675.86 L337.27,675.81 L337.83,675.77 L338.38,675.76 L338.94,675.77 L339.49,675.81 L340.05,675.86 L340.60,675.92 L341.16,675.97 L341.71,676.01 L342.27,676.02 L342.82,675.96 L343.38,675.78 L343.93,675.52 L344.49,675.23 L345.05,674.97 L345.60,674.79 L346.16,674.73 L346.72,674.76 L347.28,674.85 L347.84,674.98 L348.40,675.11 L348.96,675.21 L349.52,675.24 L350.04,675.14 L350.56,674.89 L351.08,674.57 L351.60,674.31 L352.11,674.21 L352.63,674.10 L353.15,673.82 L353.67,673.43 L354.19,673.04 L354.70,672.76 L355.22,672.65 L355.74,673.03 L356.26,673.95 L356.78,674.86 L357.30,675.24 L357.81,675.21 L358.33,675.11 L358.85,674.98 L359.37,674.85 L359.89,674.76 L360.40,674.73 L360.96,674.78 L361.51,674.92 L362.07,675.13 L362.62,675.36 L363.18,675.57 L363.74,675.71 L364.29,675.76 L364.85,675.77 L365.40,675.81 L365.96,675.86 L366.51,675.92 L367.07,675.97 L367.62,676.01 L368.18,676.02 L368.73,676.01 L369.29,675.97 L369.84,675.92 L370.40,675.86 L370.95,675.81 L371.51,675.77 L372.06,675.76 L372.58,675.79 L373.10,675.85 L373.62,675.93 L374.13,676.00 L374.65,676.02 L375.21,676.01 L375.76,675.97 L376.32,675.92 L376.87,675.86 L377.43,675.81 L377.98,675.77 L378.54,675.76 L379.06,675.62 L379.58,675.24 L380.09,674.73 L380.61,674.21 L381.13,673.83 L381.65,673.69 L382.17,673.99 L382.68,674.73 L383.20,675.46 L383.72,675.76 L384.24,675.71 L384.76,675.58 L385.27,675.37 L385.79,675.12 L386.31,674.85 L386.83,674.60 L387.35,674.39 L387.87,674.25 L388.38,674.21 L388.90,674.36 L389.42,674.74 L389.94,675.22 L390.46,675.61 L390.97,675.76 L391.49,675.71 L392.01,675.57 L392.53,675.36 L393.05,675.13 L393.56,674.92 L394.08,674.78 L394.60,674.73 L395.12,674.82 L395.64,675.08 L396.16,675.40 L396.67,675.66 L397.19,675.76 L397.71,675.71 L398.23,675.58 L398.75,675.42 L399.26,675.29 L399.78,675.24 L400.34,675.14 L400.91,674.85 L401.47,674.47 L402.03,674.08 L402.59,673.79 L403.15,673.69 L403.67,673.89 L404.19,674.41 L404.70,675.05 L405.22,675.56 L405.74,675.76 L406.30,675.69 L406.86,675.50 L407.42,675.24 L407.99,674.98 L408.55,674.79 L409.11,674.73 L409.62,674.73 L410.14,674.73 L410.65,674.73 L411.17,674.73 L411.68,674.73 L412.20,674.73" fill="none" stroke="#000" stroke-width="1.0" stroke-linejoin="round"/>
<path d="M37.30,710.16 L37.63,710.71 L37.96,711.25 L38.51,719.97 L39.05,728.69 L39.70,733.86 L40.36,739.04 L40.90,736.72 L41.45,732.09 L41.99,729.78 L42.54,734.68 L43.08,739.58 L43.79,725.96 L44.50,712.34 L45.01,717.25 L45.52,727.05 L46.02,731.96 L46.46,734.68 L46.90,737.40 L47.44,733.05 L47.99,728.69 L48.64,733.86 L49.29,739.04 L50.00,735.50 L50.71,731.96 L51.42,734.68 L52.13,737.40 L52.67,725.42 L53.22,713.43 L53.72,719.83 L54.23,732.64 L54.74,739.04 L55.18,728.96 L55.61,718.88 L56.27,728.14 L56.92,737.40 L57.46,734.21 L58.01,726.51 L58.55,718.80 L59.10,715.61 L59.81,727.05 L60.52,738.49 L61.06,733.86 L61.60,724.60 L62.15,719.97 L62.80,723.24 L63.46,726.51 L64.17,732.50 L64.87,738.49 L65.42,736.62 L65.96,731.72 L66.51,725.66 L67.05,720.75 L67.60,718.88 L68.14,723.92 L68.69,734.00 L69.23,739.04 L69.83,733.30 L70.43,719.44 L71.03,705.58 L71.63,699.84 L72.18,709.87 L72.72,729.92 L73.27,739.94 L73.81,734.91 L74.36,722.78 L74.90,710.65 L75.45,705.62 L76.10,715.15 L76.76,724.69 L77.19,720.33 L77.63,715.97 L78.17,724.69 L78.72,733.40 L79.15,729.05 L79.59,724.69 L79.97,723.60 L80.35,722.51 L80.90,720.19 L81.44,715.56 L81.99,713.25 L82.53,719.92 L83.07,733.27 L83.62,739.94 L84.16,738.85 L84.71,737.76 L85.25,730.68 L85.80,723.60 L86.51,730.68 L87.22,737.76 L87.87,736.40 L88.52,735.04 L89.07,737.76 L89.61,740.49 L90.16,738.71 L90.70,735.17 L91.25,733.40 L91.79,732.04 L92.34,730.68 L92.88,732.99 L93.43,737.63 L93.97,739.94 L94.62,736.67 L95.28,733.40 L95.71,737.22 L96.15,741.03 L96.69,739.67 L97.24,736.94 L97.78,735.58 L98.49,734.77 L99.20,733.95 L99.71,735.45 L100.22,738.44 L100.73,739.94 L101.43,737.76 L102.14,735.58 L102.69,736.67 L103.23,738.85 L103.78,739.94 L104.32,739.67 L104.87,739.12 L105.41,738.85 L105.96,738.03 L106.50,737.22 L107.21,733.68 L107.92,730.13 L108.43,732.72 L108.93,737.90 L109.44,740.49 L110.15,738.31 L110.86,736.13 L111.40,737.08 L111.95,738.99 L112.49,739.94 L113.04,738.85 L113.58,736.67 L114.13,735.58 L114.24,738.50 L114.36,741.42 L115.08,736.70 L115.81,731.98 L116.54,736.34 L117.26,740.70 L117.85,737.43 L118.43,734.16 L119.15,737.79 L119.88,741.42 L120.61,738.16 L121.33,734.89 L122.06,738.16 L122.79,741.42 L123.51,737.79 L124.24,734.16 L124.96,737.79 L125.69,741.42 L126.42,738.88 L127.14,736.34 L127.87,738.66 L128.60,740.99 L129.32,739.03 L130.05,737.07 L130.63,738.05 L131.21,740.01 L131.79,740.99 L132.32,740.34 L132.84,738.63 L133.36,736.52 L133.88,734.81 L134.41,734.16 L134.99,735.87 L135.57,739.28 L136.15,740.99 L136.70,741.05 L137.24,741.21 L137.79,741.36 L138.33,741.42 L138.88,741.11 L139.42,740.34 L139.97,739.56 L140.51,739.25 L141.05,738.99 L141.60,738.37 L142.14,737.76 L142.69,737.50 L143.32,738.23 L143.95,739.68 L144.58,740.41 L145.16,739.57 L145.74,737.90 L146.32,737.07 L146.90,738.05 L147.48,740.01 L148.06,740.99 L148.69,739.75 L149.32,737.28 L149.95,736.05 L150.58,737.14 L151.21,739.32 L151.84,740.41 L152.42,739.75 L153.00,738.45 L153.59,737.79 L154.17,738.59 L154.75,740.19 L155.33,740.99 L155.96,740.19 L156.59,738.59 L157.22,737.79 L157.85,738.59 L158.48,740.19 L159.11,740.99 L159.69,739.46 L160.27,736.41 L160.85,734.89 L161.43,736.41 L162.01,739.46 L162.59,740.99 L163.22,739.83 L163.85,737.50 L164.48,736.34 L165.21,738.52 L165.93,740.70 L166.56,738.34 L167.19,733.62 L167.82,731.25 L167.86,731.62 L167.91,731.98 L168.63,734.89 L169.36,737.79 L170.08,739.61 L170.81,741.42 L171.54,739.61 L172.26,737.79 L172.81,736.69 L173.35,734.02 L173.90,731.34 L174.44,730.24 L175.07,732.85 L175.70,738.08 L176.33,740.70 L177.06,739.61 L177.79,738.52 L178.51,739.25 L179.24,739.97 L179.82,739.72 L180.40,739.21 L180.98,738.96 L181.53,738.40 L182.07,737.07 L182.62,735.73 L183.16,735.18 L183.79,735.83 L184.42,737.14 L185.05,737.79 L185.63,738.34 L186.21,739.43 L186.79,739.97 L187.52,738.52 L188.25,737.07 L188.83,737.79 L189.41,739.25 L189.99,739.97 L190.62,737.61 L191.25,732.89 L191.88,730.53 L192.51,732.89 L193.14,737.61 L193.77,739.97 L194.35,739.43 L194.93,738.34 L195.51,737.79 L196.24,739.25 L196.96,740.70 L197.54,739.25 L198.13,736.34 L198.71,734.89 L199.34,736.52 L199.97,739.79 L200.59,741.42 L201.32,738.88 L202.05,736.34 L202.77,738.88 L203.50,741.42 L204.13,740.52 L204.76,738.70 L205.39,737.79 L205.97,738.52 L206.55,739.97 L207.13,740.70 L207.86,738.52 L208.59,736.34 L209.31,738.52 L210.04,740.70 L210.76,739.25 L211.49,737.79 L212.22,739.39 L212.94,740.99 L213.53,739.28 L214.11,735.87 L214.69,734.16 L215.32,735.87 L215.95,739.28 L216.58,740.99 L217.21,739.65 L217.84,736.96 L218.47,735.61 L219.05,737.07 L219.63,739.97 L220.21,741.42 L220.79,740.15 L221.37,737.61 L221.95,736.34 L222.58,737.50 L223.21,739.83 L223.84,740.99 L224.37,738.81 L224.90,736.63 L225.59,739.08 L226.27,741.53 L226.86,739.37 L227.45,737.22 L228.14,739.57 L228.82,741.92 L229.51,739.76 L230.20,737.61 L230.78,736.14 L231.37,734.67 L232.06,738.10 L232.75,741.53 L233.43,740.06 L234.12,738.59 L234.64,739.42 L235.16,741.09 L235.69,741.92 L236.21,741.09 L236.73,739.42 L237.25,738.59 L237.94,740.25 L238.63,741.92 L239.31,738.59 L240.00,735.25 L240.52,736.92 L241.05,740.25 L241.57,741.92 L242.09,740.84 L242.61,738.69 L243.14,737.61 L243.82,739.76 L244.51,741.92 L245.20,739.96 L245.88,738.00 L246.41,738.98 L246.93,740.94 L247.45,741.92 L247.97,741.09 L248.50,739.42 L249.02,738.59 L249.71,740.25 L250.39,741.92 L251.08,740.25 L251.76,738.59 L252.29,739.42 L252.81,741.09 L253.33,741.92 L253.86,740.94 L254.38,738.98 L254.90,738.00 L255.59,739.96 L256.27,741.92 L256.96,740.25 L257.65,738.59 L258.17,739.42 L258.69,741.09 L259.22,741.92 L259.74,740.84 L260.26,738.69 L260.78,737.61 L261.47,739.76 L262.16,741.92 L262.84,740.25 L263.53,738.59 L264.05,739.42 L264.58,741.09 L265.10,741.92 L265.62,740.94 L266.14,738.98 L266.67,738.00 L267.35,739.96 L268.04,741.92 L268.73,740.25 L269.41,738.59 L269.93,739.42 L270.46,741.09 L270.98,741.92 L271.50,741.33 L272.03,740.16 L272.55,739.57 L273.24,740.75 L273.92,741.92 L274.61,740.55 L275.29,739.18 L275.82,739.86 L276.34,741.24 L276.86,741.92 L277.39,741.09 L277.91,739.42 L278.43,738.59 L279.12,740.25 L279.80,741.92 L280.49,740.75 L281.18,739.57 L281.70,740.16 L282.22,741.33 L282.75,741.92 L283.27,741.24 L283.79,739.86 L284.31,739.18 L285.00,740.55 L285.69,741.92 L286.37,740.94 L287.06,739.96 L287.58,740.45 L288.10,741.43 L288.63,741.92 L289.15,741.33 L289.67,740.16 L290.20,739.57 L290.88,740.75 L291.57,741.92 L292.25,740.94 L292.94,739.96 L293.46,740.45 L293.99,741.43 L294.51,741.92 L295.03,741.09 L295.56,739.42 L296.08,738.59 L296.76,740.25 L297.45,741.92 L298.14,740.75 L298.82,739.57 L299.31,740.55 L299.80,741.53" fill="none" stroke="#000" stroke-width="1.0" stroke-linejoin="round"/>
<path d="M307.00,741.24 L307.53,740.79 L308.06,739.88 L308.59,739.43 L309.24,738.13 L309.89,736.84 L310.53,738.78 L311.18,740.73 L311.79,740.08 L312.39,738.78 L312.99,738.13 L313.51,738.91 L314.03,740.47 L314.55,741.24 L315.15,740.47 L315.76,738.91 L316.36,738.13 L316.88,738.91 L317.40,740.47 L317.92,741.24 L318.44,740.60 L318.95,739.30 L319.47,738.65 L319.99,739.30 L320.51,740.60 L321.03,741.24 L321.54,740.34 L322.06,738.52 L322.58,737.62 L323.10,738.52 L323.62,740.34 L324.13,741.24 L324.65,740.47 L325.17,738.91 L325.69,738.13 L326.21,738.91 L326.73,740.47 L327.24,741.24 L327.76,740.60 L328.28,739.30 L328.80,738.65 L329.32,739.30 L329.83,740.60 L330.35,741.24 L330.87,740.73 L331.39,739.69 L331.91,739.17 L332.42,739.69 L332.94,740.73 L333.46,741.24 L333.98,740.60 L334.50,739.30 L335.02,738.65 L335.53,739.30 L336.05,740.60 L336.57,741.24 L337.09,740.60 L337.61,739.30 L338.12,738.65 L338.64,739.30 L339.16,740.60 L339.68,741.24 L340.20,740.73 L340.72,739.69 L341.23,739.17 L341.75,739.69 L342.27,740.73 L342.79,741.24 L343.31,740.73 L343.82,739.69 L344.34,739.17 L344.86,739.69 L345.38,740.73 L345.90,741.24 L346.41,740.79 L346.93,739.88 L347.45,739.43 L347.97,739.88 L348.49,740.79 L349.01,741.24 L349.52,740.79 L350.04,739.88 L350.56,739.43 L351.08,739.88 L351.60,740.79 L352.11,741.24 L352.63,740.73 L353.15,739.69 L353.67,739.17 L354.19,739.69 L354.70,740.73 L355.22,741.24 L355.74,740.73 L356.26,739.69 L356.78,739.17 L357.30,739.69 L357.81,740.73 L358.33,741.24 L358.85,740.60 L359.37,739.30 L359.89,738.65 L360.40,739.30 L360.92,740.60 L361.44,741.24 L361.96,740.60 L362.48,739.30 L362.99,738.65 L363.51,739.30 L364.03,740.60 L364.55,741.24 L365.07,740.47 L365.59,738.91 L366.10,738.13 L366.62,738.91 L367.14,740.47 L367.66,741.24 L368.18,740.60 L368.69,739.30 L369.21,738.65 L369.73,739.30 L370.25,740.60 L370.77,741.24 L371.28,740.60 L371.80,739.30 L372.32,738.65 L372.84,739.30 L373.36,740.60 L373.88,741.24 L374.39,740.73 L374.91,739.69 L375.43,739.17 L375.95,739.69 L376.47,740.73 L376.98,741.24 L377.50,740.60 L378.02,739.30 L378.54,738.65 L379.06,739.30 L379.58,740.60 L380.09,741.24 L380.61,740.73 L381.13,739.69 L381.65,739.17 L382.17,739.69 L382.68,740.73 L383.20,741.24 L383.72,740.73 L384.24,739.69 L384.76,739.17 L385.27,739.69 L385.79,740.73 L386.31,741.24 L386.83,740.73 L387.35,739.69 L387.87,739.17 L388.38,739.69 L388.90,740.73 L389.42,741.24 L389.94,740.60 L390.46,739.30 L390.97,738.65 L391.49,739.30 L392.01,740.60 L392.53,741.24 L393.05,740.73 L393.56,739.69 L394.08,739.17 L394.60,739.69 L395.12,740.73 L395.64,741.24 L396.16,740.73 L396.67,739.69 L397.19,739.17 L397.71,739.69 L398.23,740.73 L398.75,741.24 L399.26,740.73 L399.78,739.69 L400.30,739.17 L400.82,739.69 L401.34,740.73 L401.85,741.24 L402.37,740.73 L402.89,739.69 L403.41,739.17 L403.93,739.69 L404.45,740.73 L404.96,741.24 L405.48,740.60 L406.00,739.30 L406.52,738.65 L407.04,739.30 L407.55,740.60 L408.07,741.24 L408.59,740.47 L409.11,738.91 L409.63,738.13 L410.15,738.78 L410.66,740.08 L411.18,740.73 L411.69,738.78 L412.20,736.84" fill="none" stroke="#000" stroke-width="1.0" stroke-linejoin="round"/>
<path d="M37.31,791.58 L37.85,790.77 L38.40,789.95 L39.11,797.85 L39.81,805.75 L40.36,805.88 L40.90,806.16 L41.45,806.29 L42.10,802.21 L42.76,798.12 L43.34,796.62 L43.92,793.63 L44.50,792.13 L45.12,795.40 L45.73,801.93 L46.35,805.20 L47.06,804.38 L47.77,803.57 L48.31,802.29 L48.86,799.21 L49.40,796.13 L49.95,794.85 L50.60,799.75 L51.25,804.66 L51.80,804.11 L52.34,803.02 L52.89,802.48 L53.43,801.39 L53.98,800.30 L54.52,798.66 L55.07,795.40 L55.61,793.76 L56.16,796.49 L56.70,801.93 L57.25,804.66 L57.79,801.93 L58.34,799.21 L58.77,801.12 L59.21,803.02 L59.75,798.39 L60.30,789.13 L60.84,784.50 L61.46,789.54 L62.08,799.62 L62.69,804.66 L63.31,802.75 L63.93,798.94 L64.55,797.03 L65.20,790.44 L65.85,777.25 L66.51,770.66 L67.16,779.03 L67.82,795.75 L68.47,804.11 L69.01,801.03 L69.56,792.59 L70.10,781.07 L70.65,769.55 L71.19,761.11 L71.74,758.02 L72.28,765.01 L72.83,781.89 L73.37,798.76 L73.92,805.75 L74.44,800.91 L74.96,788.24 L75.49,772.59 L76.01,759.92 L76.53,755.08 L77.03,760.02 L77.53,772.96 L78.04,788.96 L78.54,801.89 L79.04,806.84 L79.59,800.32 L80.15,784.59 L80.71,768.86 L81.26,762.34 L81.81,766.66 L82.35,777.97 L82.90,791.94 L83.44,803.24 L83.99,807.56 L84.58,804.85 L85.18,798.30 L85.78,791.75 L86.38,789.04 L87.04,793.53 L87.69,802.52 L88.34,807.02 L88.89,806.67 L89.43,805.71 L89.98,804.40 L90.52,803.09 L91.07,802.14 L91.61,801.79 L92.27,803.23 L92.92,806.12 L93.57,807.56 L94.19,807.56 L94.81,807.56 L95.43,807.56 L95.97,807.24 L96.52,806.47 L97.06,805.70 L97.60,805.38 L98.15,805.65 L98.69,806.20 L99.24,806.47 L99.89,806.66 L100.55,807.04 L101.20,807.23 L101.85,807.40 L102.51,807.56 L103.05,807.48 L103.60,807.29 L104.14,807.10 L104.69,807.02 L105.23,806.76 L105.78,806.07 L106.32,805.23 L106.87,804.55 L107.41,804.29 L107.96,804.97 L108.50,806.33 L109.05,807.02 L109.59,806.98 L110.13,806.91 L110.68,806.83 L111.22,806.80 L111.77,806.53 L112.31,805.98 L112.86,805.71 L113.40,806.03 L113.95,806.69 L114.49,807.02 L115.04,806.74 L115.58,806.20 L116.13,805.93 L116.69,806.07 L117.25,806.37 L117.81,806.52 L118.36,806.20 L118.90,805.43 L119.45,804.66 L119.99,804.34 L120.62,804.99 L121.25,806.30 L121.88,806.96 L122.46,806.85 L123.04,806.63 L123.62,806.52 L124.20,806.70 L124.79,807.06 L125.37,807.25 L126.00,807.17 L126.63,807.03 L127.25,806.96 L127.88,807.10 L128.51,807.39 L129.14,807.54 L129.76,807.45 L130.38,807.25 L131.00,807.04 L131.61,806.96 L132.16,806.74 L132.70,806.23 L133.25,805.72 L133.79,805.50 L134.37,805.94 L134.96,806.81 L135.54,807.25 L136.12,807.20 L136.70,807.10 L137.28,807.00 L137.86,806.96 L138.48,807.00 L139.10,807.10 L139.71,807.20 L140.33,807.25 L140.96,806.88 L141.59,806.16 L142.22,805.79 L142.80,805.72 L143.38,805.57 L143.96,805.50 L144.54,805.87 L145.13,806.59 L145.71,806.96 L146.29,806.32 L146.87,804.78 L147.45,803.23 L148.03,802.60 L148.54,803.06 L149.05,804.19 L149.56,805.32 L150.06,805.79 L150.69,806.08 L151.32,806.66 L151.95,806.96 L152.58,806.23 L153.21,804.78 L153.84,804.05 L154.42,804.85 L155.00,806.45 L155.59,807.25 L156.17,807.06 L156.75,806.70 L157.33,806.52 L158.06,807.25 L158.78,807.97 L159.41,807.72 L160.04,807.21 L160.67,806.96 L161.22,807.00 L161.76,807.10 L162.31,807.20 L162.85,807.25 L163.39,807.14 L163.94,806.88 L164.48,806.63 L165.03,806.52 L165.61,806.34 L166.19,805.87 L166.77,805.28 L167.35,804.81 L167.93,804.63 L168.56,805.28 L169.19,806.59 L169.82,807.25 L170.23,807.10 L170.63,806.96 L171.36,806.01 L172.08,805.07 L172.71,804.16 L173.34,802.34 L173.97,801.43 L174.55,802.89 L175.14,805.79 L175.72,807.25 L176.30,807.06 L176.88,806.70 L177.46,806.52 L178.04,806.41 L178.62,806.16 L179.20,805.90 L179.79,805.79 L180.37,806.16 L180.95,806.88 L181.53,807.25 L182.25,806.37 L182.98,805.50 L183.56,805.94 L184.14,806.81 L184.72,807.25 L185.45,806.52 L186.18,805.79 L186.81,806.23 L187.44,807.10 L188.07,807.54 L188.70,807.39 L189.33,807.10 L189.96,806.96 L190.54,806.23 L191.12,804.78 L191.70,804.05 L192.28,804.85 L192.86,806.45 L193.44,807.25 L194.07,807.32 L194.70,807.46 L195.33,807.54 L195.88,807.11 L196.42,806.08 L196.97,805.06 L197.51,804.63 L198.09,805.36 L198.67,806.81 L199.25,807.54 L199.83,807.49 L200.42,807.39 L201.00,807.29 L201.58,807.25 L202.20,807.29 L202.81,807.39 L203.43,807.49 L204.05,807.54 L204.59,807.49 L205.14,807.39 L205.68,807.29 L206.23,807.25 L206.81,807.25 L207.39,807.25 L207.97,807.25 L208.55,807.25 L209.13,807.25 L209.68,807.35 L210.22,807.61 L210.77,807.87 L211.31,807.97 L211.86,807.82 L212.40,807.46 L212.95,807.10 L213.49,806.96 L214.04,806.89 L214.58,806.74 L215.13,806.58 L215.67,806.52 L216.22,806.58 L216.76,806.74 L217.31,806.89 L217.85,806.96 L218.39,806.89 L218.94,806.74 L219.48,806.58 L220.03,806.52 L220.57,806.63 L221.12,806.88 L221.66,807.14 L222.21,807.25 L222.75,807.20 L223.30,807.10 L223.84,807.00 L224.39,806.96 L224.63,807.00 L224.87,807.04 L225.44,807.08 L226.02,807.17 L226.59,807.29 L227.16,807.39 L227.74,807.42 L228.31,807.35 L228.89,807.16 L229.46,806.92 L230.03,806.73 L230.61,806.66 L231.18,806.69 L231.76,806.79 L232.33,806.91 L232.90,807.00 L233.48,807.04 L234.05,807.08 L234.62,807.17 L235.20,807.29 L235.77,807.39 L236.35,807.42 L236.97,807.23 L237.59,806.75 L238.21,806.28 L238.83,806.08 L239.41,806.22 L239.98,806.56 L240.55,806.90 L241.13,807.04 L241.70,806.98 L242.28,806.85 L242.85,806.71 L243.42,806.66 L244.06,806.37 L244.70,805.80 L245.34,805.51 L245.96,805.73 L246.58,806.28 L247.20,806.82 L247.82,807.04 L248.44,806.70 L249.07,805.89 L249.69,805.08 L250.31,804.75 L250.88,805.03 L251.46,805.70 L252.03,806.38 L252.60,806.66 L253.18,806.69 L253.75,806.79 L254.33,806.91 L254.90,807.00 L255.47,807.04 L256.05,807.00 L256.62,806.91 L257.20,806.79 L257.77,806.69 L258.34,806.66 L258.92,806.69 L259.49,806.79 L260.06,806.91 L260.64,807.00 L261.21,807.04 L261.79,807.00 L262.36,806.91 L262.93,806.79 L263.51,806.69 L264.08,806.66 L264.65,806.69 L265.23,806.79 L265.80,806.91 L266.38,807.00 L266.95,807.04 L267.52,807.00 L268.10,806.91 L268.67,806.79 L269.25,806.69 L269.82,806.66 L270.39,806.69 L270.97,806.79 L271.54,806.91 L272.11,807.00 L272.69,807.04 L273.26,807.00 L273.84,806.91 L274.41,806.79 L274.98,806.69 L275.56,806.66 L276.13,806.60 L276.71,806.46 L277.28,806.28 L277.85,806.14 L278.43,806.08 L279.06,806.42 L279.70,807.09 L280.34,807.42 L280.96,807.09 L281.58,806.28 L282.20,805.46 L282.83,805.13 L283.40,805.41 L283.97,806.08 L284.55,806.76 L285.12,807.04 L285.70,806.90 L286.27,806.56 L286.84,806.22 L287.42,806.08 L288.05,806.42 L288.69,807.09 L289.33,807.42 L289.95,807.23 L290.57,806.75 L291.19,806.28 L291.82,806.08 L292.44,806.22 L293.06,806.56 L293.68,806.90 L294.30,807.04 L294.88,806.82 L295.45,806.28 L296.02,805.73 L296.60,805.51 L297.24,805.89 L297.87,806.66 L298.51,807.04 L299.16,806.56 L299.80,806.08" fill="none" stroke="#000" stroke-width="1.0" stroke-linejoin="round"/>
<path d="M307.00,806.73 L307.53,806.34 L308.06,805.56 L308.59,805.17 L309.11,805.02 L309.63,804.65 L310.15,804.29 L310.66,804.13 L311.27,804.78 L311.87,806.08 L312.48,806.73 L313.08,806.47 L313.69,805.95 L314.29,805.69 L314.81,805.92 L315.33,806.47 L315.84,807.02 L316.36,807.24 L316.88,807.14 L317.40,806.89 L317.92,806.57 L318.44,806.31 L318.95,806.21 L319.47,806.31 L319.99,806.57 L320.51,806.89 L321.03,807.14 L321.54,807.24 L322.10,807.24 L322.65,807.24 L323.21,807.24 L323.76,807.24 L324.32,807.24 L324.87,807.24 L325.43,807.24 L325.99,807.26 L326.54,807.29 L327.10,807.34 L327.65,807.40 L328.21,807.45 L328.76,807.49 L329.32,807.50 L329.83,807.50 L330.35,807.48 L330.87,807.45 L331.39,807.41 L331.91,807.37 L332.42,807.33 L332.94,807.30 L333.46,807.27 L333.98,807.25 L334.50,807.24 L335.02,807.25 L335.53,807.27 L336.05,807.30 L336.57,807.33 L337.09,807.37 L337.61,807.41 L338.12,807.45 L338.64,807.48 L339.16,807.50 L339.68,807.50 L340.20,807.50 L340.72,807.48 L341.23,807.45 L341.75,807.41 L342.27,807.37 L342.79,807.33 L343.31,807.30 L343.82,807.27 L344.34,807.25 L344.86,807.24 L345.38,807.25 L345.90,807.27 L346.41,807.30 L346.93,807.33 L347.45,807.37 L347.97,807.41 L348.49,807.45 L349.01,807.48 L349.52,807.50 L350.04,807.50 L350.56,807.50 L351.08,807.48 L351.60,807.45 L352.11,807.41 L352.63,807.37 L353.15,807.33 L353.67,807.30 L354.19,807.27 L354.70,807.25 L355.22,807.24 L355.74,807.25 L356.26,807.27 L356.78,807.30 L357.30,807.33 L357.81,807.37 L358.33,807.41 L358.85,807.45 L359.37,807.48 L359.89,807.50 L360.40,807.50 L360.92,807.50 L361.44,807.48 L361.96,807.45 L362.48,807.41 L362.99,807.37 L363.51,807.33 L364.03,807.30 L364.55,807.27 L365.07,807.25 L365.59,807.24 L366.10,807.25 L366.62,807.27 L367.14,807.30 L367.66,807.33 L368.18,807.37 L368.69,807.41 L369.21,807.45 L369.73,807.48 L370.25,807.50 L370.77,807.50 L371.28,807.50 L371.80,807.48 L372.32,807.45 L372.84,807.41 L373.36,807.37 L373.88,807.33 L374.39,807.30 L374.91,807.27 L375.43,807.25 L375.95,807.24 L376.47,807.25 L376.98,807.27 L377.50,807.30 L378.02,807.33 L378.54,807.37 L379.06,807.41 L379.58,807.45 L380.09,807.48 L380.61,807.50 L381.13,807.50 L381.65,807.50 L382.17,807.48 L382.68,807.45 L383.20,807.41 L383.72,807.37 L384.24,807.33 L384.76,807.30 L385.27,807.27 L385.79,807.25 L386.31,807.24 L386.83,807.24 L387.35,807.24 L387.87,807.24 L388.38,807.24 L388.90,807.24 L389.42,807.24 L389.94,807.24 L390.46,807.24 L390.97,807.24 L391.49,807.24 L392.01,807.25 L392.53,807.27 L393.05,807.30 L393.56,807.33 L394.08,807.37 L394.60,807.41 L395.12,807.45 L395.64,807.48 L396.16,807.50 L396.67,807.50 L397.23,807.46 L397.78,807.36 L398.34,807.20 L398.89,807.03 L399.45,806.87 L400.00,806.76 L400.56,806.73 L401.16,806.60 L401.77,806.34 L402.37,806.21 L402.89,806.36 L403.41,806.73 L403.93,807.09 L404.45,807.24 L405.00,807.22 L405.56,807.15 L406.11,807.04 L406.67,806.93 L407.22,806.82 L407.78,806.75 L408.33,806.73 L408.88,806.75 L409.44,806.82 L409.99,806.93 L410.54,807.04 L411.09,807.15 L411.65,807.22 L412.20,807.24" fill="none" stroke="#000" stroke-width="1.0" stroke-linejoin="round"/>
<line x1="96.5" x2="96.5" y1="84.60" y2="18.70" stroke="#ff3a3a" stroke-width="1.1" stroke-dasharray="1.9 1.45" opacity="0.92"/>
<line x1="211.6" x2="211.6" y1="84.60" y2="18.70" stroke="#ff3a3a" stroke-width="1.1" stroke-dasharray="1.9 1.45" opacity="0.92"/>
<line x1="373.4" x2="373.4" y1="84.60" y2="18.70" stroke="#ff3a3a" stroke-width="1.1" stroke-dasharray="1.9 1.45" opacity="0.92"/>
<line x1="96.5" x2="96.5" y1="150.40" y2="84.60" stroke="#ff3a3a" stroke-width="1.1" stroke-dasharray="1.9 1.45" opacity="0.92"/>
<line x1="211.6" x2="211.6" y1="150.40" y2="84.60" stroke="#ff3a3a" stroke-width="1.1" stroke-dasharray="1.9 1.45" opacity="0.92"/>
<line x1="373.4" x2="373.4" y1="150.40" y2="84.60" stroke="#ff3a3a" stroke-width="1.1" stroke-dasharray="1.9 1.45" opacity="0.92"/>
<line x1="96.5" x2="96.5" y1="216.20" y2="150.40" stroke="#ff3a3a" stroke-width="1.1" stroke-dasharray="1.9 1.45" opacity="0.92"/>
<line x1="211.6" x2="211.6" y1="216.20" y2="150.40" stroke="#ff3a3a" stroke-width="1.1" stroke-dasharray="1.9 1.45" opacity="0.92"/>
<line x1="373.4" x2="373.4" y1="216.20" y2="150.40" stroke="#ff3a3a" stroke-width="1.1" stroke-dasharray="1.9 1.45" opacity="0.92"/>
<line x1="96.5" x2="96.5" y1="282.00" y2="216.20" stroke="#ff3a3a" stroke-width="1.1" stroke-dasharray="1.9 1.45" opacity="0.92"/>
<line x1="211.6" x2="211.6" y1="282.00" y2="216.20" stroke="#ff3a3a" stroke-width="1.1" stroke-dasharray="1.9 1.45" opacity="0.92"/>
<line x1="373.4" x2="373.4" y1="282.00" y2="216.20" stroke="#ff3a3a" stroke-width="1.1" stroke-dasharray="1.9 1.45" opacity="0.92"/>
<line x1="96.5" x2="96.5" y1="347.80" y2="282.00" stroke="#ff3a3a" stroke-width="1.1" stroke-dasharray="1.9 1.45" opacity="0.92"/>
<line x1="211.6" x2="211.6" y1="347.80" y2="282.00" stroke="#ff3a3a" stroke-width="1.1" stroke-dasharray="1.9 1.45" opacity="0.92"/>
<line x1="373.4" x2="373.4" y1="347.80" y2="282.00" stroke="#ff3a3a" stroke-width="1.1" stroke-dasharray="1.9 1.45" opacity="0.92"/>
<line x1="96.5" x2="96.5" y1="413.60" y2="347.80" stroke="#ff3a3a" stroke-width="1.1" stroke-dasharray="1.9 1.45" opacity="0.92"/>
<line x1="211.6" x2="211.6" y1="413.60" y2="347.80" stroke="#ff3a3a" stroke-width="1.1" stroke-dasharray="1.9 1.45" opacity="0.92"/>
<line x1="373.4" x2="373.4" y1="413.60" y2="347.80" stroke="#ff3a3a" stroke-width="1.1" stroke-dasharray="1.9 1.45" opacity="0.92"/>
<line x1="96.5" x2="96.5" y1="479.40" y2="413.60" stroke="#ff3a3a" stroke-width="1.1" stroke-dasharray="1.9 1.45" opacity="0.92"/>
<line x1="211.6" x2="211.6" y1="479.40" y2="413.60" stroke="#ff3a3a" stroke-width="1.1" stroke-dasharray="1.9 1.45" opacity="0.92"/>
<line x1="373.4" x2="373.4" y1="479.40" y2="413.60" stroke="#ff3a3a" stroke-width="1.1" stroke-dasharray="1.9 1.45" opacity="0.92"/>
<line x1="96.5" x2="96.5" y1="545.20" y2="479.40" stroke="#ff3a3a" stroke-width="1.1" stroke-dasharray="1.9 1.45" opacity="0.92"/>
<line x1="211.6" x2="211.6" y1="545.20" y2="479.40" stroke="#ff3a3a" stroke-width="1.1" stroke-dasharray="1.9 1.45" opacity="0.92"/>
<line x1="373.4" x2="373.4" y1="545.20" y2="479.40" stroke="#ff3a3a" stroke-width="1.1" stroke-dasharray="1.9 1.45" opacity="0.92"/>
<line x1="96.5" x2="96.5" y1="611.00" y2="545.20" stroke="#ff3a3a" stroke-width="1.1" stroke-dasharray="1.9 1.45" opacity="0.92"/>
<line x1="211.6" x2="211.6" y1="611.00" y2="545.20" stroke="#ff3a3a" stroke-width="1.1" stroke-dasharray="1.9 1.45" opacity="0.92"/>
<line x1="373.4" x2="373.4" y1="611.00" y2="545.20" stroke="#ff3a3a" stroke-width="1.1" stroke-dasharray="1.9 1.45" opacity="0.92"/>
<line x1="96.5" x2="96.5" y1="676.80" y2="611.00" stroke="#ff3a3a" stroke-width="1.1" stroke-dasharray="1.9 1.45" opacity="0.92"/>
<line x1="211.6" x2="211.6" y1="676.80" y2="611.00" stroke="#ff3a3a" stroke-width="1.1" stroke-dasharray="1.9 1.45" opacity="0.92"/>
<line x1="373.4" x2="373.4" y1="676.80" y2="611.00" stroke="#ff3a3a" stroke-width="1.1" stroke-dasharray="1.9 1.45" opacity="0.92"/>
<line x1="96.5" x2="96.5" y1="742.60" y2="676.80" stroke="#ff3a3a" stroke-width="1.1" stroke-dasharray="1.9 1.45" opacity="0.92"/>
<line x1="211.6" x2="211.6" y1="742.60" y2="676.80" stroke="#ff3a3a" stroke-width="1.1" stroke-dasharray="1.9 1.45" opacity="0.92"/>
<line x1="373.4" x2="373.4" y1="742.60" y2="676.80" stroke="#ff3a3a" stroke-width="1.1" stroke-dasharray="1.9 1.45" opacity="0.92"/>
<line x1="96.5" x2="96.5" y1="808.40" y2="742.60" stroke="#ff3a3a" stroke-width="1.1" stroke-dasharray="1.9 1.45" opacity="0.92"/>
<line x1="211.6" x2="211.6" y1="808.40" y2="742.60" stroke="#ff3a3a" stroke-width="1.1" stroke-dasharray="1.9 1.45" opacity="0.92"/>
<line x1="373.4" x2="373.4" y1="808.40" y2="742.60" stroke="#ff3a3a" stroke-width="1.1" stroke-dasharray="1.9 1.45" opacity="0.92"/>
<line x1="37.3" x2="37.3" y1="18.7" y2="808.4" stroke="#222" stroke-width="0.8"/>
<line x1="299.8" x2="299.8" y1="18.7" y2="808.4" stroke="#222" stroke-width="0.8"/>
<line x1="37.3" x2="299.8" y1="18.7" y2="18.7" stroke="#222" stroke-width="0.8"/>
<line x1="37.3" x2="299.8" y1="84.6" y2="84.6" stroke="#222" stroke-width="0.9"/>
<line x1="37.3" x2="299.8" y1="150.39999999999998" y2="150.39999999999998" stroke="#222" stroke-width="0.9"/>
<line x1="37.3" x2="299.8" y1="216.2" y2="216.2" stroke="#222" stroke-width="0.9"/>
<line x1="37.3" x2="299.8" y1="282.0" y2="282.0" stroke="#222" stroke-width="0.9"/>
<line x1="37.3" x2="299.8" y1="347.79999999999995" y2="347.79999999999995" stroke="#222" stroke-width="0.9"/>
<line x1="37.3" x2="299.8" y1="413.6" y2="413.6" stroke="#222" stroke-width="0.9"/>
<line x1="37.3" x2="299.8" y1="479.4" y2="479.4" stroke="#222" stroke-width="0.9"/>
<line x1="37.3" x2="299.8" y1="545.1999999999999" y2="545.1999999999999" stroke="#222" stroke-width="0.9"/>
<line x1="37.3" x2="299.8" y1="611.0" y2="611.0" stroke="#222" stroke-width="0.9"/>
<line x1="37.3" x2="299.8" y1="676.8" y2="676.8" stroke="#222" stroke-width="0.9"/>
<line x1="37.3" x2="299.8" y1="742.6" y2="742.6" stroke="#222" stroke-width="0.9"/>
<line x1="37.3" x2="299.8" y1="808.4" y2="808.4" stroke="#222" stroke-width="0.9"/>
<line x1="307.0" x2="307.0" y1="18.7" y2="808.4" stroke="#222" stroke-width="0.8"/>
<line x1="412.2" x2="412.2" y1="18.7" y2="808.4" stroke="#222" stroke-width="0.8"/>
<line x1="307.0" x2="412.2" y1="18.7" y2="18.7" stroke="#222" stroke-width="0.8"/>
<line x1="307.0" x2="412.2" y1="84.6" y2="84.6" stroke="#222" stroke-width="0.9"/>
<line x1="307.0" x2="412.2" y1="150.39999999999998" y2="150.39999999999998" stroke="#222" stroke-width="0.9"/>
<line x1="307.0" x2="412.2" y1="216.2" y2="216.2" stroke="#222" stroke-width="0.9"/>
<line x1="307.0" x2="412.2" y1="282.0" y2="282.0" stroke="#222" stroke-width="0.9"/>
<line x1="307.0" x2="412.2" y1="347.79999999999995" y2="347.79999999999995" stroke="#222" stroke-width="0.9"/>
<line x1="307.0" x2="412.2" y1="413.6" y2="413.6" stroke="#222" stroke-width="0.9"/>
<line x1="307.0" x2="412.2" y1="479.4" y2="479.4" stroke="#222" stroke-width="0.9"/>
<line x1="307.0" x2="412.2" y1="545.1999999999999" y2="545.1999999999999" stroke="#222" stroke-width="0.9"/>
<line x1="307.0" x2="412.2" y1="611.0" y2="611.0" stroke="#222" stroke-width="0.9"/>
<line x1="307.0" x2="412.2" y1="676.8" y2="676.8" stroke="#222" stroke-width="0.9"/>
<line x1="307.0" x2="412.2" y1="742.6" y2="742.6" stroke="#222" stroke-width="0.9"/>
<line x1="307.0" x2="412.2" y1="808.4" y2="808.4" stroke="#222" stroke-width="0.9"/>
<line x1="34.1" x2="37.3" y1="84.6" y2="84.6" stroke="#222" stroke-width="0.8"/>
<line x1="303.8" x2="307.0" y1="84.6" y2="84.6" stroke="#222" stroke-width="0.8"/>
<text x="13.60" y="88.70" font-size="11.0" text-anchor="start" textLength="18.40" lengthAdjust="spacingAndGlyphs">0.0</text>
<line x1="34.1" x2="37.3" y1="51.7" y2="51.7" stroke="#222" stroke-width="0.8"/>
<line x1="303.8" x2="307.0" y1="51.7" y2="51.7" stroke="#222" stroke-width="0.8"/>
<text x="13.60" y="55.80" font-size="11.0" text-anchor="start" textLength="18.40" lengthAdjust="spacingAndGlyphs">0.2</text>
<line x1="34.1" x2="37.3" y1="19.0" y2="19.0" stroke="#222" stroke-width="0.8"/>
<line x1="303.8" x2="307.0" y1="19.0" y2="19.0" stroke="#222" stroke-width="0.8"/>
<text x="13.60" y="23.10" font-size="11.0" text-anchor="start" textLength="18.40" lengthAdjust="spacingAndGlyphs">0.3</text>
<line x1="34.1" x2="37.3" y1="150.5" y2="150.5" stroke="#222" stroke-width="0.8"/>
<line x1="303.8" x2="307.0" y1="150.5" y2="150.5" stroke="#222" stroke-width="0.8"/>
<text x="13.60" y="154.60" font-size="11.0" text-anchor="start" textLength="18.40" lengthAdjust="spacingAndGlyphs">0.0</text>
<line x1="34.1" x2="37.3" y1="116.3" y2="116.3" stroke="#222" stroke-width="0.8"/>
<line x1="303.8" x2="307.0" y1="116.3" y2="116.3" stroke="#222" stroke-width="0.8"/>
<text x="13.60" y="120.40" font-size="11.0" text-anchor="start" textLength="18.40" lengthAdjust="spacingAndGlyphs">0.2</text>
<line x1="34.1" x2="37.3" y1="216.4" y2="216.4" stroke="#222" stroke-width="0.8"/>
<line x1="303.8" x2="307.0" y1="216.4" y2="216.4" stroke="#222" stroke-width="0.8"/>
<text x="13.60" y="220.50" font-size="11.0" text-anchor="start" textLength="18.40" lengthAdjust="spacingAndGlyphs">0.0</text>
<line x1="34.1" x2="37.3" y1="182.5" y2="182.5" stroke="#222" stroke-width="0.8"/>
<line x1="303.8" x2="307.0" y1="182.5" y2="182.5" stroke="#222" stroke-width="0.8"/>
<text x="13.60" y="186.60" font-size="11.0" text-anchor="start" textLength="18.40" lengthAdjust="spacingAndGlyphs">0.2</text>
<line x1="34.1" x2="37.3" y1="282.1" y2="282.1" stroke="#222" stroke-width="0.8"/>
<line x1="303.8" x2="307.0" y1="282.1" y2="282.1" stroke="#222" stroke-width="0.8"/>
<text x="13.60" y="286.20" font-size="11.0" text-anchor="start" textLength="18.40" lengthAdjust="spacingAndGlyphs">0.0</text>
<line x1="34.1" x2="37.3" y1="248.4" y2="248.4" stroke="#222" stroke-width="0.8"/>
<line x1="303.8" x2="307.0" y1="248.4" y2="248.4" stroke="#222" stroke-width="0.8"/>
<text x="13.60" y="252.50" font-size="11.0" text-anchor="start" textLength="18.40" lengthAdjust="spacingAndGlyphs">0.2</text>
<line x1="34.1" x2="37.3" y1="347.5" y2="347.5" stroke="#222" stroke-width="0.8"/>
<line x1="303.8" x2="307.0" y1="347.5" y2="347.5" stroke="#222" stroke-width="0.8"/>
<text x="13.60" y="351.60" font-size="11.0" text-anchor="start" textLength="18.40" lengthAdjust="spacingAndGlyphs">0.0</text>
<line x1="34.1" x2="37.3" y1="314.2" y2="314.2" stroke="#222" stroke-width="0.8"/>
<line x1="303.8" x2="307.0" y1="314.2" y2="314.2" stroke="#222" stroke-width="0.8"/>
<text x="13.60" y="318.30" font-size="11.0" text-anchor="start" textLength="18.40" lengthAdjust="spacingAndGlyphs">0.2</text>
<line x1="34.1" x2="37.3" y1="413.3" y2="413.3" stroke="#222" stroke-width="0.8"/>
<line x1="303.8" x2="307.0" y1="413.3" y2="413.3" stroke="#222" stroke-width="0.8"/>
<text x="13.60" y="417.40" font-size="11.0" text-anchor="start" textLength="18.40" lengthAdjust="spacingAndGlyphs">0.0</text>
<line x1="34.1" x2="37.3" y1="380.5" y2="380.5" stroke="#222" stroke-width="0.8"/>
<line x1="303.8" x2="307.0" y1="380.5" y2="380.5" stroke="#222" stroke-width="0.8"/>
<text x="13.60" y="384.60" font-size="11.0" text-anchor="start" textLength="18.40" lengthAdjust="spacingAndGlyphs">0.1</text>
<line x1="34.1" x2="37.3" y1="479.6" y2="479.6" stroke="#222" stroke-width="0.8"/>
<line x1="303.8" x2="307.0" y1="479.6" y2="479.6" stroke="#222" stroke-width="0.8"/>
<text x="13.60" y="483.70" font-size="11.0" text-anchor="start" textLength="18.40" lengthAdjust="spacingAndGlyphs">0.0</text>
<line x1="34.1" x2="37.3" y1="452.8" y2="452.8" stroke="#222" stroke-width="0.8"/>
<line x1="303.8" x2="307.0" y1="452.8" y2="452.8" stroke="#222" stroke-width="0.8"/>
<text x="13.60" y="456.90" font-size="11.0" text-anchor="start" textLength="18.40" lengthAdjust="spacingAndGlyphs">0.2</text>
<line x1="34.1" x2="37.3" y1="426.0" y2="426.0" stroke="#222" stroke-width="0.8"/>
<line x1="303.8" x2="307.0" y1="426.0" y2="426.0" stroke="#222" stroke-width="0.8"/>
<text x="13.60" y="430.10" font-size="11.0" text-anchor="start" textLength="18.40" lengthAdjust="spacingAndGlyphs">0.4</text>
<line x1="34.1" x2="37.3" y1="545.3" y2="545.3" stroke="#222" stroke-width="0.8"/>
<line x1="303.8" x2="307.0" y1="545.3" y2="545.3" stroke="#222" stroke-width="0.8"/>
<text x="13.60" y="549.40" font-size="11.0" text-anchor="start" textLength="18.40" lengthAdjust="spacingAndGlyphs">0.0</text>
<line x1="34.1" x2="37.3" y1="511.0" y2="511.0" stroke="#222" stroke-width="0.8"/>
<line x1="303.8" x2="307.0" y1="511.0" y2="511.0" stroke="#222" stroke-width="0.8"/>
<text x="13.60" y="515.10" font-size="11.0" text-anchor="start" textLength="18.40" lengthAdjust="spacingAndGlyphs">0.2</text>
<line x1="34.1" x2="37.3" y1="611.2" y2="611.2" stroke="#222" stroke-width="0.8"/>
<line x1="303.8" x2="307.0" y1="611.2" y2="611.2" stroke="#222" stroke-width="0.8"/>
<text x="13.60" y="615.30" font-size="11.0" text-anchor="start" textLength="18.40" lengthAdjust="spacingAndGlyphs">0.0</text>
<line x1="34.1" x2="37.3" y1="577.5" y2="577.5" stroke="#222" stroke-width="0.8"/>
<line x1="303.8" x2="307.0" y1="577.5" y2="577.5" stroke="#222" stroke-width="0.8"/>
<text x="13.60" y="581.60" font-size="11.0" text-anchor="start" textLength="18.40" lengthAdjust="spacingAndGlyphs">0.2</text>
<line x1="34.1" x2="37.3" y1="676.7" y2="676.7" stroke="#222" stroke-width="0.8"/>
<line x1="303.8" x2="307.0" y1="676.7" y2="676.7" stroke="#222" stroke-width="0.8"/>
<text x="13.60" y="680.80" font-size="11.0" text-anchor="start" textLength="18.40" lengthAdjust="spacingAndGlyphs">0.0</text>
<line x1="34.1" x2="37.3" y1="643.0" y2="643.0" stroke="#222" stroke-width="0.8"/>
<line x1="303.8" x2="307.0" y1="643.0" y2="643.0" stroke="#222" stroke-width="0.8"/>
<text x="13.60" y="647.10" font-size="11.0" text-anchor="start" textLength="18.40" lengthAdjust="spacingAndGlyphs">0.2</text>
<line x1="34.1" x2="37.3" y1="742.5" y2="742.5" stroke="#222" stroke-width="0.8"/>
<line x1="303.8" x2="307.0" y1="742.5" y2="742.5" stroke="#222" stroke-width="0.8"/>
<text x="13.60" y="746.60" font-size="11.0" text-anchor="start" textLength="18.40" lengthAdjust="spacingAndGlyphs">0.0</text>
<line x1="34.1" x2="37.3" y1="709.5" y2="709.5" stroke="#222" stroke-width="0.8"/>
<line x1="303.8" x2="307.0" y1="709.5" y2="709.5" stroke="#222" stroke-width="0.8"/>
<text x="13.60" y="713.60" font-size="11.0" text-anchor="start" textLength="18.40" lengthAdjust="spacingAndGlyphs">0.2</text>
<line x1="34.1" x2="37.3" y1="808.1" y2="808.1" stroke="#222" stroke-width="0.8"/>
<line x1="303.8" x2="307.0" y1="808.1" y2="808.1" stroke="#222" stroke-width="0.8"/>
<text x="13.60" y="812.20" font-size="11.0" text-anchor="start" textLength="18.40" lengthAdjust="spacingAndGlyphs">0.0</text>
<line x1="34.1" x2="37.3" y1="782.3" y2="782.3" stroke="#222" stroke-width="0.8"/>
<line x1="303.8" x2="307.0" y1="782.3" y2="782.3" stroke="#222" stroke-width="0.8"/>
<text x="13.60" y="786.40" font-size="11.0" text-anchor="start" textLength="18.40" lengthAdjust="spacingAndGlyphs">0.2</text>
<line x1="34.1" x2="37.3" y1="756.1" y2="756.1" stroke="#222" stroke-width="0.8"/>
<line x1="303.8" x2="307.0" y1="756.1" y2="756.1" stroke="#222" stroke-width="0.8"/>
<text x="13.60" y="760.20" font-size="11.0" text-anchor="start" textLength="18.40" lengthAdjust="spacingAndGlyphs">0.4</text>
<line x1="37.0" x2="37.0" y1="808.4" y2="811.4" stroke="#222" stroke-width="0.8"/>
<text x="28.30" y="822.40" font-size="11.0" text-anchor="start" textLength="17.40" lengthAdjust="spacingAndGlyphs">0.0</text>
<line x1="97.6" x2="97.6" y1="808.4" y2="811.4" stroke="#222" stroke-width="0.8"/>
<text x="85.60" y="822.40" font-size="11.0" text-anchor="start" textLength="24.00" lengthAdjust="spacingAndGlyphs">0.03</text>
<line x1="158.3" x2="158.3" y1="808.4" y2="811.4" stroke="#222" stroke-width="0.8"/>
<text x="146.30" y="822.40" font-size="11.0" text-anchor="start" textLength="24.00" lengthAdjust="spacingAndGlyphs">0.06</text>
<line x1="219.0" x2="219.0" y1="808.4" y2="811.4" stroke="#222" stroke-width="0.8"/>
<text x="207.00" y="822.40" font-size="11.0" text-anchor="start" textLength="24.00" lengthAdjust="spacingAndGlyphs">0.09</text>
<line x1="279.2" x2="279.2" y1="808.4" y2="811.4" stroke="#222" stroke-width="0.8"/>
<text x="267.20" y="822.40" font-size="11.0" text-anchor="start" textLength="24.00" lengthAdjust="spacingAndGlyphs">0.12</text>
<line x1="317.5" x2="317.5" y1="808.4" y2="811.4" stroke="#222" stroke-width="0.8"/>
<text x="305.10" y="822.40" font-size="11.0" text-anchor="start" textLength="24.80" lengthAdjust="spacingAndGlyphs">3.08</text>
<line x1="359.7" x2="359.7" y1="808.4" y2="811.4" stroke="#222" stroke-width="0.8"/>
<text x="351.10" y="822.40" font-size="11.0" text-anchor="start" textLength="17.20" lengthAdjust="spacingAndGlyphs">3.1</text>
<line x1="402.3" x2="402.3" y1="808.4" y2="811.4" stroke="#222" stroke-width="0.8"/>
<text x="389.90" y="822.40" font-size="11.0" text-anchor="start" textLength="24.80" lengthAdjust="spacingAndGlyphs">3.12</text>
<text x="82.00" y="8.50" font-size="11.0" text-anchor="start" textLength="30.80" lengthAdjust="spacingAndGlyphs">34.0d</text>
<text x="199.90" y="8.50" font-size="11.0" text-anchor="start" textLength="37.50" lengthAdjust="spacingAndGlyphs">11.51d</text>
<text x="357.50" y="8.50" font-size="11.0" text-anchor="start" textLength="32.20" lengthAdjust="spacingAndGlyphs">0.32d</text>
<text x="170.60" y="838.30" font-size="12" text-anchor="start" textLength="96.00" lengthAdjust="spacingAndGlyphs">Frequency (d<tspan dy="-4" font-size="8.4">−1</tspan><tspan dy="4">)</tspan></text>
<text transform="translate(9.3,389.6) rotate(-90)" font-size="12" text-anchor="end" textLength="36.6" lengthAdjust="spacingAndGlyphs">Power</text>
<text x="246.80" y="41.80" font-size="12" text-anchor="start" textLength="16.10" lengthAdjust="spacingAndGlyphs">RV</text>
<text x="239.20" y="107.80" font-size="12" text-anchor="start" textLength="30.50" lengthAdjust="spacingAndGlyphs">RV-f<tspan dy="2.3" font-size="8.6">1</tspan><tspan dy="-2.3"></tspan></text>
<text x="232.00" y="173.60" font-size="12" text-anchor="start" textLength="44.60" lengthAdjust="spacingAndGlyphs">RV-f<tspan dy="2.3" font-size="8.6">1</tspan><tspan dy="-2.3">-</tspan>f<tspan dy="2.3" font-size="8.6">2</tspan><tspan dy="-2.3"></tspan></text>
<text x="224.80" y="239.40" font-size="12" text-anchor="start" textLength="59.00" lengthAdjust="spacingAndGlyphs">RV-f<tspan dy="2.3" font-size="8.6">1</tspan><tspan dy="-2.3">-</tspan>f<tspan dy="2.3" font-size="8.6">2</tspan><tspan dy="-2.3">-</tspan>f<tspan dy="2.3" font-size="8.6">3</tspan><tspan dy="-2.3"></tspan></text>
<text x="210.70" y="305.20" font-size="12" text-anchor="start" textLength="87.20" lengthAdjust="spacingAndGlyphs">RV-f<tspan dy="2.3" font-size="8.6">1</tspan><tspan dy="-2.3">-</tspan>f<tspan dy="2.3" font-size="8.6">2</tspan><tspan dy="-2.3">-</tspan>f<tspan dy="2.3" font-size="8.6">3</tspan><tspan dy="-2.3">-</tspan>f<tspan dy="2.3" font-size="8.6">4</tspan><tspan dy="-2.3">-</tspan>f<tspan dy="2.3" font-size="8.6">5</tspan><tspan dy="-2.3"></tspan></text>
<text x="242.40" y="371.00" font-size="12" text-anchor="start" textLength="25.00" lengthAdjust="spacingAndGlyphs">CRX</text>
<text x="241.30" y="436.80" font-size="12" text-anchor="start" textLength="27.10" lengthAdjust="spacingAndGlyphs">DLW</text>
<text x="247.40" y="502.60" font-size="12" text-anchor="start" textLength="14.90" lengthAdjust="spacingAndGlyphs">H<tspan dy="2.3" font-size="8.6" font-style="italic">α</tspan></text>
<text x="247.40" y="568.40" font-size="12" text-anchor="start" textLength="14.90" lengthAdjust="spacingAndGlyphs">H<tspan dy="2.3" font-size="8.6" font-style="italic">β</tspan></text>
<text x="247.40" y="634.20" font-size="12" text-anchor="start" textLength="14.40" lengthAdjust="spacingAndGlyphs">H<tspan dy="2.3" font-size="8.6" font-style="italic">γ</tspan></text>
<text x="231.60" y="700.00" font-size="12" text-anchor="start" textLength="47.00" lengthAdjust="spacingAndGlyphs">log <tspan font-style="italic">R</tspan>′<tspan dy="2.3" font-size="8.6" font-style="italic">HK</tspan></text>
<text x="241.80" y="765.80" font-size="12" text-anchor="start" textLength="26.10" lengthAdjust="spacingAndGlyphs">NaD</text>
<text x="196.60" y="41.80" font-size="12" text-anchor="start" textLength="9.30" lengthAdjust="spacingAndGlyphs">f<tspan dy="2.3" font-size="8.6">1</tspan></text>
<text x="61.10" y="107.70" font-size="12" text-anchor="start" textLength="7.90" lengthAdjust="spacingAndGlyphs">f<tspan dy="2.3" font-size="8.6">2</tspan></text>
<text x="102.70" y="172.50" font-size="12" text-anchor="start" textLength="9.00" lengthAdjust="spacingAndGlyphs">f<tspan dy="2.3" font-size="8.6">3</tspan></text>
<text x="50.40" y="247.40" font-size="12" text-anchor="start" textLength="8.80" lengthAdjust="spacingAndGlyphs">f<tspan dy="2.3" font-size="8.6">4</tspan></text>
<text x="375.80" y="251.90" font-size="12" text-anchor="start" textLength="9.70" lengthAdjust="spacingAndGlyphs">f<tspan dy="2.3" font-size="8.6">5</tspan></text>
<rect x="346.7" y="22.6" width="62.1" height="36" rx="2" ry="2" fill="#fff" fill-opacity="0.8" stroke="#d4d4d4" stroke-width="0.8"/>
<line x1="349.5" x2="364.6" y1="29.1" y2="29.1" stroke="#4a6fe3" stroke-width="1.35" stroke-dasharray="1.9 1.4" opacity="0.6"/>
<line x1="349.5" x2="364.6" y1="40.5" y2="40.5" stroke="#4a6fe3" stroke-width="0.5" stroke-dasharray="1.6 0.8" opacity="0.6"/>
<line x1="349.5" x2="364.6" y1="51.8" y2="51.8" stroke="#4a6fe3" stroke-width="0.9" stroke-dasharray="3.8 1.2 0.8 1.2" opacity="0.75"/>
<text x="370.40" y="31.80" font-size="8.1" text-anchor="start" textLength="36.40" lengthAdjust="spacingAndGlyphs">FAP 0.1%</text>
<text x="370.40" y="43.20" font-size="8.1" text-anchor="start" textLength="28.20" lengthAdjust="spacingAndGlyphs">FAP 1%</text>
<text x="370.40" y="54.60" font-size="8.1" text-anchor="start" textLength="33.20" lengthAdjust="spacingAndGlyphs">FAP 10%</text>
</svg></body></html>
